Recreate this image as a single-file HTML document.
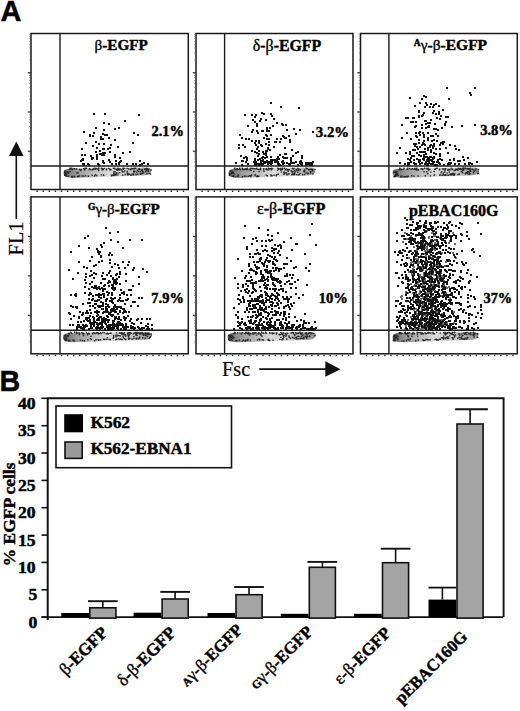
<!DOCTYPE html>
<html><head><meta charset="utf-8"><style>
html,body{margin:0;padding:0;background:#fff;}
body{width:520px;height:711px;overflow:hidden;}
svg{display:block}
</style></head><body>
<svg width="520" height="711" viewBox="0 0 520 711">
<rect x="31.0" y="33.5" width="157.30" height="156.00" fill="none" stroke="#1a1a1a" stroke-width="1.5"/>
<line x1="60.0" y1="33.5" x2="60.0" y2="189.5" stroke="#1a1a1a" stroke-width="1.4"/>
<line x1="31.0" y1="166.0" x2="188.3" y2="166.0" stroke="#1a1a1a" stroke-width="1.4"/>
<line x1="27.8" y1="72.8" x2="31.0" y2="72.8" stroke="#1a1a1a" stroke-width="1.1"/>
<line x1="27.8" y1="112.0" x2="31.0" y2="112.0" stroke="#1a1a1a" stroke-width="1.1"/>
<line x1="27.8" y1="151.2" x2="31.0" y2="151.2" stroke="#1a1a1a" stroke-width="1.1"/>
<rect x="196.0" y="33.5" width="157.00" height="156.00" fill="none" stroke="#1a1a1a" stroke-width="1.5"/>
<line x1="224.6" y1="33.5" x2="224.6" y2="189.5" stroke="#1a1a1a" stroke-width="1.4"/>
<line x1="196.0" y1="166.0" x2="353.0" y2="166.0" stroke="#1a1a1a" stroke-width="1.4"/>
<line x1="192.8" y1="72.8" x2="196.0" y2="72.8" stroke="#1a1a1a" stroke-width="1.1"/>
<line x1="192.8" y1="112.0" x2="196.0" y2="112.0" stroke="#1a1a1a" stroke-width="1.1"/>
<line x1="192.8" y1="151.2" x2="196.0" y2="151.2" stroke="#1a1a1a" stroke-width="1.1"/>
<rect x="360.5" y="33.5" width="156.80" height="156.00" fill="none" stroke="#1a1a1a" stroke-width="1.5"/>
<line x1="388.9" y1="33.5" x2="388.9" y2="189.5" stroke="#1a1a1a" stroke-width="1.4"/>
<line x1="360.5" y1="166.0" x2="517.3" y2="166.0" stroke="#1a1a1a" stroke-width="1.4"/>
<line x1="357.3" y1="72.8" x2="360.5" y2="72.8" stroke="#1a1a1a" stroke-width="1.1"/>
<line x1="357.3" y1="112.0" x2="360.5" y2="112.0" stroke="#1a1a1a" stroke-width="1.1"/>
<line x1="357.3" y1="151.2" x2="360.5" y2="151.2" stroke="#1a1a1a" stroke-width="1.1"/>
<rect x="31.0" y="196.9" width="157.30" height="156.90" fill="none" stroke="#1a1a1a" stroke-width="1.5"/>
<line x1="60.0" y1="196.9" x2="60.0" y2="353.8" stroke="#1a1a1a" stroke-width="1.4"/>
<line x1="31.0" y1="330.3" x2="188.3" y2="330.3" stroke="#1a1a1a" stroke-width="1.4"/>
<line x1="27.8" y1="236.4" x2="31.0" y2="236.4" stroke="#1a1a1a" stroke-width="1.1"/>
<line x1="27.8" y1="275.9" x2="31.0" y2="275.9" stroke="#1a1a1a" stroke-width="1.1"/>
<line x1="27.8" y1="315.3" x2="31.0" y2="315.3" stroke="#1a1a1a" stroke-width="1.1"/>
<rect x="196.0" y="196.9" width="157.00" height="156.90" fill="none" stroke="#1a1a1a" stroke-width="1.5"/>
<line x1="224.6" y1="196.9" x2="224.6" y2="353.8" stroke="#1a1a1a" stroke-width="1.4"/>
<line x1="196.0" y1="330.3" x2="353.0" y2="330.3" stroke="#1a1a1a" stroke-width="1.4"/>
<line x1="192.8" y1="236.4" x2="196.0" y2="236.4" stroke="#1a1a1a" stroke-width="1.1"/>
<line x1="192.8" y1="275.9" x2="196.0" y2="275.9" stroke="#1a1a1a" stroke-width="1.1"/>
<line x1="192.8" y1="315.3" x2="196.0" y2="315.3" stroke="#1a1a1a" stroke-width="1.1"/>
<rect x="360.5" y="196.9" width="156.80" height="156.90" fill="none" stroke="#1a1a1a" stroke-width="1.5"/>
<line x1="388.9" y1="196.9" x2="388.9" y2="353.8" stroke="#1a1a1a" stroke-width="1.4"/>
<line x1="360.5" y1="330.3" x2="517.3" y2="330.3" stroke="#1a1a1a" stroke-width="1.4"/>
<line x1="357.3" y1="236.4" x2="360.5" y2="236.4" stroke="#1a1a1a" stroke-width="1.1"/>
<line x1="357.3" y1="275.9" x2="360.5" y2="275.9" stroke="#1a1a1a" stroke-width="1.1"/>
<line x1="357.3" y1="315.3" x2="360.5" y2="315.3" stroke="#1a1a1a" stroke-width="1.1"/>
<path d="M29.2 177.2h1v1h-1zM29.2 170.3h1v1h-1zM29.2 165.4h1v1h-1zM29.2 161.6h1v1h-1zM29.2 158.5h1v1h-1zM29.2 155.8h1v1h-1zM29.2 153.6h1v1h-1zM29.2 151.5h1v1h-1zM29.2 137.9h1v1h-1zM29.2 131.0h1v1h-1zM29.2 126.1h1v1h-1zM29.2 122.3h1v1h-1zM29.2 119.2h1v1h-1zM29.2 116.6h1v1h-1zM29.2 114.3h1v1h-1zM29.2 112.3h1v1h-1zM29.2 98.7h1v1h-1zM29.2 91.8h1v1h-1zM29.2 86.9h1v1h-1zM29.2 83.1h1v1h-1zM29.2 80.0h1v1h-1zM29.2 77.3h1v1h-1zM29.2 75.1h1v1h-1zM29.2 73.0h1v1h-1zM29.2 59.4h1v1h-1zM29.2 52.5h1v1h-1zM29.2 47.6h1v1h-1zM29.2 43.8h1v1h-1zM29.2 40.7h1v1h-1zM29.2 38.1h1v1h-1zM29.2 35.8h1v1h-1zM29.2 33.8h1v1h-1zM194.2 177.2h1v1h-1zM194.2 170.3h1v1h-1zM194.2 165.4h1v1h-1zM194.2 161.6h1v1h-1zM194.2 158.5h1v1h-1zM194.2 155.8h1v1h-1zM194.2 153.6h1v1h-1zM194.2 151.5h1v1h-1zM194.2 137.9h1v1h-1zM194.2 131.0h1v1h-1zM194.2 126.1h1v1h-1zM194.2 122.3h1v1h-1zM194.2 119.2h1v1h-1zM194.2 116.6h1v1h-1zM194.2 114.3h1v1h-1zM194.2 112.3h1v1h-1zM194.2 98.7h1v1h-1zM194.2 91.8h1v1h-1zM194.2 86.9h1v1h-1zM194.2 83.1h1v1h-1zM194.2 80.0h1v1h-1zM194.2 77.3h1v1h-1zM194.2 75.1h1v1h-1zM194.2 73.0h1v1h-1zM194.2 59.4h1v1h-1zM194.2 52.5h1v1h-1zM194.2 47.6h1v1h-1zM194.2 43.8h1v1h-1zM194.2 40.7h1v1h-1zM194.2 38.1h1v1h-1zM194.2 35.8h1v1h-1zM194.2 33.8h1v1h-1zM358.7 177.2h1v1h-1zM358.7 170.3h1v1h-1zM358.7 165.4h1v1h-1zM358.7 161.6h1v1h-1zM358.7 158.5h1v1h-1zM358.7 155.8h1v1h-1zM358.7 153.6h1v1h-1zM358.7 151.5h1v1h-1zM358.7 137.9h1v1h-1zM358.7 131.0h1v1h-1zM358.7 126.1h1v1h-1zM358.7 122.3h1v1h-1zM358.7 119.2h1v1h-1zM358.7 116.6h1v1h-1zM358.7 114.3h1v1h-1zM358.7 112.3h1v1h-1zM358.7 98.7h1v1h-1zM358.7 91.8h1v1h-1zM358.7 86.9h1v1h-1zM358.7 83.1h1v1h-1zM358.7 80.0h1v1h-1zM358.7 77.3h1v1h-1zM358.7 75.1h1v1h-1zM358.7 73.0h1v1h-1zM358.7 59.4h1v1h-1zM358.7 52.5h1v1h-1zM358.7 47.6h1v1h-1zM358.7 43.8h1v1h-1zM358.7 40.7h1v1h-1zM358.7 38.1h1v1h-1zM358.7 35.8h1v1h-1zM358.7 33.8h1v1h-1zM29.2 341.4h1v1h-1zM29.2 334.5h1v1h-1zM29.2 329.5h1v1h-1zM29.2 325.7h1v1h-1zM29.2 322.6h1v1h-1zM29.2 319.9h1v1h-1zM29.2 317.7h1v1h-1zM29.2 315.6h1v1h-1zM29.2 301.9h1v1h-1zM29.2 295.0h1v1h-1zM29.2 290.1h1v1h-1zM29.2 286.2h1v1h-1zM29.2 283.1h1v1h-1zM29.2 280.5h1v1h-1zM29.2 278.2h1v1h-1zM29.2 276.2h1v1h-1zM29.2 262.5h1v1h-1zM29.2 255.5h1v1h-1zM29.2 250.6h1v1h-1zM29.2 246.8h1v1h-1zM29.2 243.6h1v1h-1zM29.2 241.0h1v1h-1zM29.2 238.7h1v1h-1zM29.2 236.7h1v1h-1zM29.2 223.0h1v1h-1zM29.2 216.0h1v1h-1zM29.2 211.1h1v1h-1zM29.2 207.3h1v1h-1zM29.2 204.2h1v1h-1zM29.2 201.5h1v1h-1zM29.2 199.2h1v1h-1zM29.2 197.2h1v1h-1zM194.2 341.4h1v1h-1zM194.2 334.5h1v1h-1zM194.2 329.5h1v1h-1zM194.2 325.7h1v1h-1zM194.2 322.6h1v1h-1zM194.2 319.9h1v1h-1zM194.2 317.7h1v1h-1zM194.2 315.6h1v1h-1zM194.2 301.9h1v1h-1zM194.2 295.0h1v1h-1zM194.2 290.1h1v1h-1zM194.2 286.2h1v1h-1zM194.2 283.1h1v1h-1zM194.2 280.5h1v1h-1zM194.2 278.2h1v1h-1zM194.2 276.2h1v1h-1zM194.2 262.5h1v1h-1zM194.2 255.5h1v1h-1zM194.2 250.6h1v1h-1zM194.2 246.8h1v1h-1zM194.2 243.6h1v1h-1zM194.2 241.0h1v1h-1zM194.2 238.7h1v1h-1zM194.2 236.7h1v1h-1zM194.2 223.0h1v1h-1zM194.2 216.0h1v1h-1zM194.2 211.1h1v1h-1zM194.2 207.3h1v1h-1zM194.2 204.2h1v1h-1zM194.2 201.5h1v1h-1zM194.2 199.2h1v1h-1zM194.2 197.2h1v1h-1zM358.7 341.4h1v1h-1zM358.7 334.5h1v1h-1zM358.7 329.5h1v1h-1zM358.7 325.7h1v1h-1zM358.7 322.6h1v1h-1zM358.7 319.9h1v1h-1zM358.7 317.7h1v1h-1zM358.7 315.6h1v1h-1zM358.7 301.9h1v1h-1zM358.7 295.0h1v1h-1zM358.7 290.1h1v1h-1zM358.7 286.2h1v1h-1zM358.7 283.1h1v1h-1zM358.7 280.5h1v1h-1zM358.7 278.2h1v1h-1zM358.7 276.2h1v1h-1zM358.7 262.5h1v1h-1zM358.7 255.5h1v1h-1zM358.7 250.6h1v1h-1zM358.7 246.8h1v1h-1zM358.7 243.6h1v1h-1zM358.7 241.0h1v1h-1zM358.7 238.7h1v1h-1zM358.7 236.7h1v1h-1zM358.7 223.0h1v1h-1zM358.7 216.0h1v1h-1zM358.7 211.1h1v1h-1zM358.7 207.3h1v1h-1zM358.7 204.2h1v1h-1zM358.7 201.5h1v1h-1zM358.7 199.2h1v1h-1zM358.7 197.2h1v1h-1z" fill="#888"/>
<path d="M36.4 190.4h1.4v1.6h-1.4zM42.5 190.4h1.4v1.6h-1.4zM48.6 190.4h1.4v1.6h-1.4zM54.7 190.4h1.4v1.6h-1.4zM60.8 190.4h1.4v1.6h-1.4zM66.9 190.4h1.4v1.6h-1.4zM73.0 190.4h1.4v1.6h-1.4zM79.1 190.4h1.4v1.6h-1.4zM85.2 190.4h1.4v1.6h-1.4zM91.3 190.4h1.4v1.6h-1.4zM97.4 190.4h1.4v1.6h-1.4zM103.5 190.4h1.4v1.6h-1.4zM109.6 190.4h1.4v1.6h-1.4zM115.7 190.4h1.4v1.6h-1.4zM121.8 190.4h1.4v1.6h-1.4zM127.9 190.4h1.4v1.6h-1.4zM134.0 190.4h1.4v1.6h-1.4zM140.1 190.4h1.4v1.6h-1.4zM146.2 190.4h1.4v1.6h-1.4zM152.3 190.4h1.4v1.6h-1.4zM158.4 190.4h1.4v1.6h-1.4zM164.5 190.4h1.4v1.6h-1.4zM170.6 190.4h1.4v1.6h-1.4zM176.7 190.4h1.4v1.6h-1.4zM182.8 190.4h1.4v1.6h-1.4zM201.4 190.4h1.4v1.6h-1.4zM207.5 190.4h1.4v1.6h-1.4zM213.6 190.4h1.4v1.6h-1.4zM219.7 190.4h1.4v1.6h-1.4zM225.8 190.4h1.4v1.6h-1.4zM231.9 190.4h1.4v1.6h-1.4zM238.0 190.4h1.4v1.6h-1.4zM244.1 190.4h1.4v1.6h-1.4zM250.2 190.4h1.4v1.6h-1.4zM256.3 190.4h1.4v1.6h-1.4zM262.4 190.4h1.4v1.6h-1.4zM268.5 190.4h1.4v1.6h-1.4zM274.6 190.4h1.4v1.6h-1.4zM280.7 190.4h1.4v1.6h-1.4zM286.8 190.4h1.4v1.6h-1.4zM292.9 190.4h1.4v1.6h-1.4zM299.0 190.4h1.4v1.6h-1.4zM305.1 190.4h1.4v1.6h-1.4zM311.2 190.4h1.4v1.6h-1.4zM317.3 190.4h1.4v1.6h-1.4zM323.4 190.4h1.4v1.6h-1.4zM329.5 190.4h1.4v1.6h-1.4zM335.6 190.4h1.4v1.6h-1.4zM341.7 190.4h1.4v1.6h-1.4zM347.8 190.4h1.4v1.6h-1.4zM365.9 190.4h1.4v1.6h-1.4zM372.0 190.4h1.4v1.6h-1.4zM378.1 190.4h1.4v1.6h-1.4zM384.2 190.4h1.4v1.6h-1.4zM390.3 190.4h1.4v1.6h-1.4zM396.4 190.4h1.4v1.6h-1.4zM402.5 190.4h1.4v1.6h-1.4zM408.6 190.4h1.4v1.6h-1.4zM414.7 190.4h1.4v1.6h-1.4zM420.8 190.4h1.4v1.6h-1.4zM426.9 190.4h1.4v1.6h-1.4zM433.0 190.4h1.4v1.6h-1.4zM439.1 190.4h1.4v1.6h-1.4zM445.2 190.4h1.4v1.6h-1.4zM451.3 190.4h1.4v1.6h-1.4zM457.4 190.4h1.4v1.6h-1.4zM463.5 190.4h1.4v1.6h-1.4zM469.6 190.4h1.4v1.6h-1.4zM475.7 190.4h1.4v1.6h-1.4zM481.8 190.4h1.4v1.6h-1.4zM487.9 190.4h1.4v1.6h-1.4zM494.0 190.4h1.4v1.6h-1.4zM500.1 190.4h1.4v1.6h-1.4zM506.2 190.4h1.4v1.6h-1.4zM512.3 190.4h1.4v1.6h-1.4zM36.4 354.7h1.4v1.6h-1.4zM42.5 354.7h1.4v1.6h-1.4zM48.6 354.7h1.4v1.6h-1.4zM54.7 354.7h1.4v1.6h-1.4zM60.8 354.7h1.4v1.6h-1.4zM66.9 354.7h1.4v1.6h-1.4zM73.0 354.7h1.4v1.6h-1.4zM79.1 354.7h1.4v1.6h-1.4zM85.2 354.7h1.4v1.6h-1.4zM91.3 354.7h1.4v1.6h-1.4zM97.4 354.7h1.4v1.6h-1.4zM103.5 354.7h1.4v1.6h-1.4zM109.6 354.7h1.4v1.6h-1.4zM115.7 354.7h1.4v1.6h-1.4zM121.8 354.7h1.4v1.6h-1.4zM127.9 354.7h1.4v1.6h-1.4zM134.0 354.7h1.4v1.6h-1.4zM140.1 354.7h1.4v1.6h-1.4zM146.2 354.7h1.4v1.6h-1.4zM152.3 354.7h1.4v1.6h-1.4zM158.4 354.7h1.4v1.6h-1.4zM164.5 354.7h1.4v1.6h-1.4zM170.6 354.7h1.4v1.6h-1.4zM176.7 354.7h1.4v1.6h-1.4zM182.8 354.7h1.4v1.6h-1.4zM201.4 354.7h1.4v1.6h-1.4zM207.5 354.7h1.4v1.6h-1.4zM213.6 354.7h1.4v1.6h-1.4zM219.7 354.7h1.4v1.6h-1.4zM225.8 354.7h1.4v1.6h-1.4zM231.9 354.7h1.4v1.6h-1.4zM238.0 354.7h1.4v1.6h-1.4zM244.1 354.7h1.4v1.6h-1.4zM250.2 354.7h1.4v1.6h-1.4zM256.3 354.7h1.4v1.6h-1.4zM262.4 354.7h1.4v1.6h-1.4zM268.5 354.7h1.4v1.6h-1.4zM274.6 354.7h1.4v1.6h-1.4zM280.7 354.7h1.4v1.6h-1.4zM286.8 354.7h1.4v1.6h-1.4zM292.9 354.7h1.4v1.6h-1.4zM299.0 354.7h1.4v1.6h-1.4zM305.1 354.7h1.4v1.6h-1.4zM311.2 354.7h1.4v1.6h-1.4zM317.3 354.7h1.4v1.6h-1.4zM323.4 354.7h1.4v1.6h-1.4zM329.5 354.7h1.4v1.6h-1.4zM335.6 354.7h1.4v1.6h-1.4zM341.7 354.7h1.4v1.6h-1.4zM347.8 354.7h1.4v1.6h-1.4zM365.9 354.7h1.4v1.6h-1.4zM372.0 354.7h1.4v1.6h-1.4zM378.1 354.7h1.4v1.6h-1.4zM384.2 354.7h1.4v1.6h-1.4zM390.3 354.7h1.4v1.6h-1.4zM396.4 354.7h1.4v1.6h-1.4zM402.5 354.7h1.4v1.6h-1.4zM408.6 354.7h1.4v1.6h-1.4zM414.7 354.7h1.4v1.6h-1.4zM420.8 354.7h1.4v1.6h-1.4zM426.9 354.7h1.4v1.6h-1.4zM433.0 354.7h1.4v1.6h-1.4zM439.1 354.7h1.4v1.6h-1.4zM445.2 354.7h1.4v1.6h-1.4zM451.3 354.7h1.4v1.6h-1.4zM457.4 354.7h1.4v1.6h-1.4zM463.5 354.7h1.4v1.6h-1.4zM469.6 354.7h1.4v1.6h-1.4zM475.7 354.7h1.4v1.6h-1.4zM481.8 354.7h1.4v1.6h-1.4zM487.9 354.7h1.4v1.6h-1.4zM494.0 354.7h1.4v1.6h-1.4zM500.1 354.7h1.4v1.6h-1.4zM506.2 354.7h1.4v1.6h-1.4zM512.3 354.7h1.4v1.6h-1.4z" fill="#2a2a2a"/>
<defs><filter id="soft" x="-5%" y="-5%" width="110%" height="110%"><feGaussianBlur stdDeviation="0.45"/></filter></defs>
<defs><linearGradient id="bg1" x1="0" x2="1" y1="0" y2="0"><stop offset="0" stop-color="#6a6a6a"/><stop offset="0.15" stop-color="#999"/><stop offset="0.5" stop-color="#dadada"/><stop offset="0.78" stop-color="#c4c4c4"/><stop offset="1" stop-color="#8a8a8a"/></linearGradient></defs>
<path d="M68.5 168.8 L145.5 167.6 Q152.0 167.9 151.5 171.1 Q150.5 175.6 141.5 175.6 L73.5 178.0 Q63.5 178.0 63.5 173.1 Q63.5 169.2 68.5 168.8 Z" fill="url(#bg1)"/>
<path d="M118.5 168.9h1.4v1.4h-1.4zM130.6 167.7h1.4v1.4h-1.4zM92.5 168.9h1.4v1.4h-1.4zM68.9 168.8h1.4v1.4h-1.4zM132.3 168.1h1.4v1.4h-1.4zM92.7 167.8h1.4v1.4h-1.4zM88.9 168.1h1.4v1.4h-1.4zM108.9 168.3h1.4v1.4h-1.4zM148.1 168.7h1.4v1.4h-1.4zM118.3 169.1h1.4v1.4h-1.4zM85.7 167.6h1.4v1.4h-1.4zM117.5 167.4h1.4v1.4h-1.4zM71.4 168.2h1.4v1.4h-1.4zM105.8 169.0h1.4v1.4h-1.4zM118.8 168.2h1.4v1.4h-1.4zM108.2 167.7h1.4v1.4h-1.4zM69.4 167.6h1.4v1.4h-1.4zM123.9 167.7h1.4v1.4h-1.4zM98.1 167.3h1.4v1.4h-1.4zM134.9 167.6h1.4v1.4h-1.4zM89.9 168.9h1.4v1.4h-1.4zM109.3 168.8h1.4v1.4h-1.4zM119.7 168.6h1.4v1.4h-1.4zM75.8 168.3h1.4v1.4h-1.4zM109.1 168.9h1.4v1.4h-1.4zM97.4 168.4h1.4v1.4h-1.4zM73.2 168.0h1.4v1.4h-1.4zM94.3 167.6h1.4v1.4h-1.4zM133.8 168.0h1.4v1.4h-1.4zM146.8 168.4h1.4v1.4h-1.4zM116.9 168.4h1.4v1.4h-1.4zM122.6 167.6h1.4v1.4h-1.4zM103.7 167.7h1.4v1.4h-1.4zM100.7 167.5h1.4v1.4h-1.4zM145.9 167.7h1.4v1.4h-1.4zM122.2 167.8h1.4v1.4h-1.4zM138.4 168.5h1.4v1.4h-1.4zM79.0 168.8h1.4v1.4h-1.4zM144.1 168.9h1.4v1.4h-1.4zM114.1 167.6h1.4v1.4h-1.4zM83.9 169.0h1.4v1.4h-1.4zM112.7 167.6h1.4v1.4h-1.4zM139.2 168.5h1.4v1.4h-1.4zM114.1 168.0h1.4v1.4h-1.4zM101.4 167.7h1.4v1.4h-1.4zM71.5 168.9h1.4v1.4h-1.4zM105.9 168.3h1.4v1.4h-1.4zM94.3 168.7h1.4v1.4h-1.4zM70.5 168.0h1.4v1.4h-1.4zM70.9 167.5h1.4v1.4h-1.4zM145.9 168.5h1.4v1.4h-1.4zM102.8 168.2h1.4v1.4h-1.4zM138.3 167.9h1.4v1.4h-1.4zM115.7 168.5h1.4v1.4h-1.4zM96.9 168.2h1.4v1.4h-1.4zM129.7 168.9h1.4v1.4h-1.4zM80.6 169.0h1.4v1.4h-1.4zM68.9 168.7h1.4v1.4h-1.4zM133.3 167.5h1.4v1.4h-1.4zM102.0 168.8h1.4v1.4h-1.4zM69.6 168.4h1.4v1.4h-1.4zM131.9 168.2h1.4v1.4h-1.4zM126.6 167.7h1.4v1.4h-1.4zM84.4 168.0h1.4v1.4h-1.4zM82.9 167.9h1.4v1.4h-1.4zM144.3 168.3h1.4v1.4h-1.4zM95.7 167.8h1.4v1.4h-1.4zM144.7 168.1h1.4v1.4h-1.4zM146.9 168.2h1.4v1.4h-1.4zM110.2 168.9h1.4v1.4h-1.4zM127.9 168.3h1.4v1.4h-1.4zM102.6 168.9h1.4v1.4h-1.4zM101.4 169.0h1.4v1.4h-1.4zM74.0 168.1h1.4v1.4h-1.4zM110.1 169.0h1.4v1.4h-1.4zM88.6 168.8h1.4v1.4h-1.4zM122.6 168.6h1.4v1.4h-1.4zM118.9 169.0h1.4v1.4h-1.4zM95.1 168.0h1.4v1.4h-1.4zM84.7 167.4h1.4v1.4h-1.4zM84.8 175.0h1.4v1.4h-1.4zM130.0 174.3h1.4v1.4h-1.4zM113.0 174.5h1.4v1.4h-1.4zM112.3 174.3h1.4v1.4h-1.4zM91.6 174.7h1.4v1.4h-1.4zM103.0 174.7h1.4v1.4h-1.4zM115.2 174.7h1.4v1.4h-1.4zM74.0 175.8h1.4v1.4h-1.4zM124.5 173.8h1.4v1.4h-1.4zM122.1 174.5h1.4v1.4h-1.4zM135.3 173.4h1.4v1.4h-1.4zM132.7 173.8h1.4v1.4h-1.4zM135.4 174.2h1.4v1.4h-1.4zM71.7 176.3h1.4v1.4h-1.4zM87.7 175.5h1.4v1.4h-1.4zM83.0 175.4h1.4v1.4h-1.4zM72.3 175.7h1.4v1.4h-1.4zM81.5 175.3h1.4v1.4h-1.4zM71.0 176.0h1.4v1.4h-1.4zM137.1 173.6h1.4v1.4h-1.4zM127.9 173.8h1.4v1.4h-1.4zM113.5 174.7h1.4v1.4h-1.4zM110.9 175.0h1.4v1.4h-1.4zM127.2 173.5h1.4v1.4h-1.4zM131.0 174.3h1.4v1.4h-1.4zM93.9 175.3h1.4v1.4h-1.4zM77.6 175.5h1.4v1.4h-1.4zM126.9 174.2h1.4v1.4h-1.4zM131.6 173.5h1.4v1.4h-1.4zM78.8 175.3h1.4v1.4h-1.4zM133.0 174.1h1.4v1.4h-1.4zM110.8 174.4h1.4v1.4h-1.4zM113.4 174.8h1.4v1.4h-1.4zM117.1 174.2h1.4v1.4h-1.4zM128.8 173.6h1.4v1.4h-1.4zM65.1 174.4h1.4v1.4h-1.4zM67.8 175.4h1.4v1.4h-1.4zM64.3 170.3h1.4v1.4h-1.4zM66.8 171.4h1.4v1.4h-1.4zM66.3 175.7h1.4v1.4h-1.4zM65.4 171.6h1.4v1.4h-1.4zM65.8 174.0h1.4v1.4h-1.4zM64.0 172.3h1.4v1.4h-1.4zM64.2 174.0h1.4v1.4h-1.4zM67.7 172.3h1.4v1.4h-1.4zM65.4 173.3h1.4v1.4h-1.4zM64.6 171.6h1.4v1.4h-1.4zM65.1 172.8h1.4v1.4h-1.4zM63.9 174.5h1.4v1.4h-1.4zM66.4 171.9h1.4v1.4h-1.4zM63.9 174.6h1.4v1.4h-1.4zM64.2 170.9h1.4v1.4h-1.4zM64.2 170.6h1.4v1.4h-1.4zM68.0 171.7h1.4v1.4h-1.4zM65.0 175.0h1.4v1.4h-1.4zM66.6 171.2h1.4v1.4h-1.4zM65.7 175.3h1.4v1.4h-1.4zM126.4 172.2h1.4v1.4h-1.4zM115.6 172.2h1.4v1.4h-1.4zM142.0 172.7h1.4v1.4h-1.4zM138.0 170.5h1.4v1.4h-1.4zM114.4 171.2h1.4v1.4h-1.4zM141.2 169.6h1.4v1.4h-1.4zM122.2 171.3h1.4v1.4h-1.4zM140.9 173.1h1.4v1.4h-1.4zM116.8 169.5h1.4v1.4h-1.4zM142.9 171.8h1.4v1.4h-1.4zM139.8 173.6h1.4v1.4h-1.4zM148.3 172.8h1.4v1.4h-1.4zM142.0 170.6h1.4v1.4h-1.4zM136.7 169.5h1.4v1.4h-1.4zM141.3 172.4h1.4v1.4h-1.4zM139.8 170.8h1.4v1.4h-1.4zM126.5 170.7h1.4v1.4h-1.4zM113.2 172.8h1.4v1.4h-1.4zM132.9 170.5h1.4v1.4h-1.4zM133.1 172.2h1.4v1.4h-1.4zM126.7 172.8h1.4v1.4h-1.4zM147.5 170.5h1.4v1.4h-1.4zM117.2 172.4h1.4v1.4h-1.4zM150.3 169.3h1.4v1.4h-1.4zM139.5 172.7h1.4v1.4h-1.4zM147.5 169.2h1.4v1.4h-1.4zM115.5 173.5h1.4v1.4h-1.4zM116.4 169.5h1.4v1.4h-1.4zM134.2 170.8h1.4v1.4h-1.4zM141.0 169.6h1.4v1.4h-1.4zM147.3 169.7h1.4v1.4h-1.4zM141.7 168.9h1.4v1.4h-1.4zM130.2 168.8h1.4v1.4h-1.4zM124.1 170.2h1.4v1.4h-1.4zM139.8 170.9h1.4v1.4h-1.4zM114.1 173.6h1.4v1.4h-1.4zM146.3 173.2h1.4v1.4h-1.4zM121.4 170.6h1.4v1.4h-1.4zM120.7 169.2h1.4v1.4h-1.4zM113.2 171.1h1.4v1.4h-1.4zM116.7 169.5h1.4v1.4h-1.4zM145.2 171.0h1.4v1.4h-1.4zM119.0 171.9h1.4v1.4h-1.4zM122.2 171.2h1.4v1.4h-1.4zM122.9 171.2h1.4v1.4h-1.4zM136.2 171.3h1.4v1.4h-1.4zM127.2 172.6h1.4v1.4h-1.4zM145.7 169.5h1.4v1.4h-1.4zM117.2 169.2h1.4v1.4h-1.4zM149.8 173.3h1.4v1.4h-1.4zM77.0 175.8h1.4v1.4h-1.4zM76.1 172.3h1.4v1.4h-1.4zM87.6 175.4h1.4v1.4h-1.4zM69.5 170.9h1.4v1.4h-1.4zM91.7 169.1h1.4v1.4h-1.4zM77.3 172.0h1.4v1.4h-1.4zM102.8 174.2h1.4v1.4h-1.4zM100.7 174.2h1.4v1.4h-1.4zM95.9 174.9h1.4v1.4h-1.4zM94.9 174.0h1.4v1.4h-1.4zM79.8 169.8h1.4v1.4h-1.4zM97.9 169.8h1.4v1.4h-1.4z" fill="#2a2a2a"/>
<path d="M114.0 139.0h2v2h-2zM81.0 154.0h2v2h-2zM100.0 136.0h2v2h-2zM92.0 145.0h2v2h-2zM122.0 152.0h2v2h-2zM100.0 153.0h2v2h-2zM126.0 163.0h2v2h-2zM99.0 153.0h2v2h-2zM108.0 137.0h2v2h-2zM103.0 129.0h2v2h-2zM92.0 135.0h2v2h-2zM84.0 154.0h2v2h-2zM114.0 128.0h2v2h-2zM109.0 151.0h2v2h-2zM102.0 148.0h2v2h-2zM103.0 143.0h2v2h-2zM103.0 162.0h2v2h-2zM83.0 131.0h2v2h-2zM83.0 164.0h2v2h-2zM108.0 123.0h2v2h-2zM95.0 127.0h2v2h-2zM81.0 148.0h2v2h-2zM104.0 134.0h2v2h-2zM90.0 155.0h2v2h-2zM114.0 156.0h2v2h-2zM100.0 138.0h2v2h-2zM93.0 113.0h2v2h-2zM85.0 142.0h2v2h-2zM99.0 150.0h2v2h-2zM104.0 113.0h2v2h-2zM103.0 148.0h2v2h-2zM102.0 160.0h2v2h-2zM95.0 141.0h2v2h-2zM103.0 122.0h2v2h-2zM91.0 157.0h2v2h-2zM104.0 152.0h2v2h-2zM96.0 154.0h2v2h-2zM106.0 134.0h2v2h-2zM91.0 158.0h2v2h-2zM87.0 163.0h2v2h-2zM110.0 144.0h2v2h-2zM96.0 147.0h2v2h-2zM107.0 148.0h2v2h-2zM117.0 146.0h2v2h-2zM102.0 138.0h2v2h-2zM89.0 135.0h2v2h-2zM108.0 159.0h2v2h-2zM101.0 154.0h2v2h-2zM109.0 147.0h2v2h-2zM103.0 154.0h2v2h-2zM109.0 161.0h2v2h-2zM82.0 158.0h2v2h-2zM81.0 159.0h2v2h-2zM96.0 156.0h2v2h-2zM102.0 161.0h2v2h-2zM115.0 160.0h2v2h-2zM129.0 151.0h2v2h-2zM122.0 152.0h2v2h-2zM102.0 152.0h2v2h-2zM95.0 151.0h2v2h-2zM139.0 160.0h2v2h-2zM98.0 164.0h2v2h-2zM83.0 163.0h2v2h-2zM97.0 163.0h2v2h-2zM82.0 159.0h2v2h-2zM92.0 157.0h2v2h-2zM143.0 162.0h2v2h-2zM118.0 163.0h2v2h-2zM82.0 163.0h2v2h-2zM141.0 163.0h2v2h-2zM135.0 163.0h2v2h-2zM120.0 160.0h2v2h-2zM139.0 164.0h2v2h-2zM115.0 163.0h2v2h-2zM132.0 163.0h2v2h-2zM96.0 158.0h2v2h-2zM111.0 163.0h2v2h-2zM147.0 163.0h2v2h-2zM80.0 160.0h2v2h-2zM88.0 164.0h2v2h-2zM118.0 162.0h2v2h-2zM119.0 161.0h2v2h-2zM102.0 133.0h2v2h-2zM133.0 132.0h2v2h-2zM137.0 134.0h2v2h-2zM93.0 132.0h2v2h-2zM114.0 154.0h2v2h-2zM124.0 120.0h2v2h-2zM89.0 134.0h2v2h-2zM132.0 142.0h2v2h-2zM98.0 143.0h2v2h-2zM118.0 127.0h2v2h-2zM119.0 157.0h2v2h-2zM138.0 114.0h2v2h-2z" fill="#141414"/>
<defs><linearGradient id="bg2" x1="0" x2="1" y1="0" y2="0"><stop offset="0" stop-color="#6a6a6a"/><stop offset="0.15" stop-color="#999"/><stop offset="0.5" stop-color="#dadada"/><stop offset="0.78" stop-color="#c4c4c4"/><stop offset="1" stop-color="#8a8a8a"/></linearGradient></defs>
<path d="M233.5 168.8 L309.5 167.6 Q316.0 167.9 315.5 171.1 Q314.5 175.6 305.5 175.6 L238.5 178.0 Q228.5 178.0 228.5 173.1 Q228.5 169.2 233.5 168.8 Z" fill="url(#bg2)"/>
<path d="M241.5 167.7h1.4v1.4h-1.4zM247.2 168.8h1.4v1.4h-1.4zM305.4 167.4h1.4v1.4h-1.4zM259.8 167.6h1.4v1.4h-1.4zM270.6 169.0h1.4v1.4h-1.4zM239.0 167.6h1.4v1.4h-1.4zM272.0 168.2h1.4v1.4h-1.4zM292.4 168.1h1.4v1.4h-1.4zM244.6 167.9h1.4v1.4h-1.4zM311.1 168.7h1.4v1.4h-1.4zM242.7 168.8h1.4v1.4h-1.4zM258.1 168.7h1.4v1.4h-1.4zM234.5 168.9h1.4v1.4h-1.4zM246.3 168.1h1.4v1.4h-1.4zM285.8 168.2h1.4v1.4h-1.4zM246.6 167.6h1.4v1.4h-1.4zM256.0 167.4h1.4v1.4h-1.4zM250.6 167.5h1.4v1.4h-1.4zM270.2 167.9h1.4v1.4h-1.4zM279.9 167.8h1.4v1.4h-1.4zM236.2 167.9h1.4v1.4h-1.4zM293.2 167.8h1.4v1.4h-1.4zM265.5 168.7h1.4v1.4h-1.4zM265.6 168.9h1.4v1.4h-1.4zM306.0 167.9h1.4v1.4h-1.4zM291.6 167.8h1.4v1.4h-1.4zM244.5 168.1h1.4v1.4h-1.4zM281.1 169.0h1.4v1.4h-1.4zM245.0 168.6h1.4v1.4h-1.4zM271.1 167.5h1.4v1.4h-1.4zM310.3 168.6h1.4v1.4h-1.4zM243.7 168.9h1.4v1.4h-1.4zM241.6 167.5h1.4v1.4h-1.4zM259.7 169.0h1.4v1.4h-1.4zM236.1 169.0h1.4v1.4h-1.4zM281.8 167.4h1.4v1.4h-1.4zM278.4 168.1h1.4v1.4h-1.4zM278.1 168.6h1.4v1.4h-1.4zM287.1 169.1h1.4v1.4h-1.4zM245.9 168.8h1.4v1.4h-1.4zM266.0 168.7h1.4v1.4h-1.4zM304.0 169.1h1.4v1.4h-1.4zM254.5 168.1h1.4v1.4h-1.4zM308.0 169.0h1.4v1.4h-1.4zM263.0 169.0h1.4v1.4h-1.4zM265.6 168.0h1.4v1.4h-1.4zM293.3 168.1h1.4v1.4h-1.4zM268.9 168.0h1.4v1.4h-1.4zM267.7 167.6h1.4v1.4h-1.4zM238.3 168.7h1.4v1.4h-1.4zM278.1 168.5h1.4v1.4h-1.4zM296.9 167.7h1.4v1.4h-1.4zM252.0 167.8h1.4v1.4h-1.4zM257.5 168.7h1.4v1.4h-1.4zM263.1 167.9h1.4v1.4h-1.4zM283.8 167.6h1.4v1.4h-1.4zM241.9 168.6h1.4v1.4h-1.4zM293.3 167.8h1.4v1.4h-1.4zM283.7 167.4h1.4v1.4h-1.4zM265.4 168.3h1.4v1.4h-1.4zM253.5 167.9h1.4v1.4h-1.4zM281.7 168.4h1.4v1.4h-1.4zM245.7 168.6h1.4v1.4h-1.4zM239.8 169.0h1.4v1.4h-1.4zM249.5 167.8h1.4v1.4h-1.4zM249.3 169.1h1.4v1.4h-1.4zM256.1 168.4h1.4v1.4h-1.4zM311.8 169.0h1.4v1.4h-1.4zM236.8 168.2h1.4v1.4h-1.4zM281.0 168.6h1.4v1.4h-1.4zM260.0 167.9h1.4v1.4h-1.4zM233.8 167.4h1.4v1.4h-1.4zM277.0 167.4h1.4v1.4h-1.4zM249.5 167.9h1.4v1.4h-1.4zM239.1 167.4h1.4v1.4h-1.4zM306.7 168.1h1.4v1.4h-1.4zM249.7 168.6h1.4v1.4h-1.4zM234.2 167.7h1.4v1.4h-1.4zM309.4 168.9h1.4v1.4h-1.4zM283.7 167.5h1.4v1.4h-1.4zM257.1 175.6h1.4v1.4h-1.4zM250.1 175.8h1.4v1.4h-1.4zM243.5 175.5h1.4v1.4h-1.4zM241.6 176.0h1.4v1.4h-1.4zM298.6 173.9h1.4v1.4h-1.4zM258.1 175.5h1.4v1.4h-1.4zM291.0 173.8h1.4v1.4h-1.4zM273.3 174.5h1.4v1.4h-1.4zM241.6 175.9h1.4v1.4h-1.4zM275.9 174.0h1.4v1.4h-1.4zM292.5 173.8h1.4v1.4h-1.4zM271.3 175.1h1.4v1.4h-1.4zM297.7 174.2h1.4v1.4h-1.4zM243.7 175.4h1.4v1.4h-1.4zM292.2 173.7h1.4v1.4h-1.4zM266.6 175.1h1.4v1.4h-1.4zM237.0 175.5h1.4v1.4h-1.4zM303.9 173.8h1.4v1.4h-1.4zM296.0 173.9h1.4v1.4h-1.4zM256.6 175.1h1.4v1.4h-1.4zM235.1 175.9h1.4v1.4h-1.4zM248.7 175.2h1.4v1.4h-1.4zM270.2 174.3h1.4v1.4h-1.4zM298.2 173.9h1.4v1.4h-1.4zM254.4 174.8h1.4v1.4h-1.4zM270.3 175.1h1.4v1.4h-1.4zM237.8 175.3h1.4v1.4h-1.4zM275.6 175.0h1.4v1.4h-1.4zM270.8 174.7h1.4v1.4h-1.4zM265.4 174.4h1.4v1.4h-1.4zM301.9 174.0h1.4v1.4h-1.4zM245.3 175.6h1.4v1.4h-1.4zM293.7 173.8h1.4v1.4h-1.4zM286.3 174.1h1.4v1.4h-1.4zM249.4 175.1h1.4v1.4h-1.4zM228.6 174.2h1.4v1.4h-1.4zM229.5 172.9h1.4v1.4h-1.4zM233.4 173.3h1.4v1.4h-1.4zM228.8 172.6h1.4v1.4h-1.4zM231.8 170.4h1.4v1.4h-1.4zM229.8 170.2h1.4v1.4h-1.4zM231.2 172.4h1.4v1.4h-1.4zM231.0 171.8h1.4v1.4h-1.4zM231.8 171.1h1.4v1.4h-1.4zM233.0 175.8h1.4v1.4h-1.4zM231.0 172.8h1.4v1.4h-1.4zM232.8 171.8h1.4v1.4h-1.4zM232.5 171.8h1.4v1.4h-1.4zM232.1 172.1h1.4v1.4h-1.4zM231.5 175.6h1.4v1.4h-1.4zM228.8 174.9h1.4v1.4h-1.4zM231.2 172.3h1.4v1.4h-1.4zM230.3 170.5h1.4v1.4h-1.4zM229.8 173.8h1.4v1.4h-1.4zM229.0 174.0h1.4v1.4h-1.4zM233.3 175.9h1.4v1.4h-1.4zM232.9 174.9h1.4v1.4h-1.4zM283.2 173.5h1.4v1.4h-1.4zM284.1 172.9h1.4v1.4h-1.4zM310.0 171.7h1.4v1.4h-1.4zM296.3 169.6h1.4v1.4h-1.4zM296.2 170.1h1.4v1.4h-1.4zM281.2 169.2h1.4v1.4h-1.4zM307.0 173.2h1.4v1.4h-1.4zM281.8 168.7h1.4v1.4h-1.4zM286.4 169.3h1.4v1.4h-1.4zM283.6 171.5h1.4v1.4h-1.4zM292.5 170.7h1.4v1.4h-1.4zM284.2 171.9h1.4v1.4h-1.4zM287.4 170.6h1.4v1.4h-1.4zM294.1 173.1h1.4v1.4h-1.4zM285.8 172.2h1.4v1.4h-1.4zM288.2 173.1h1.4v1.4h-1.4zM291.4 171.1h1.4v1.4h-1.4zM309.9 172.0h1.4v1.4h-1.4zM280.0 169.3h1.4v1.4h-1.4zM314.3 168.7h1.4v1.4h-1.4zM287.9 173.4h1.4v1.4h-1.4zM276.9 169.4h1.4v1.4h-1.4zM284.5 169.0h1.4v1.4h-1.4zM294.4 171.6h1.4v1.4h-1.4zM288.5 169.1h1.4v1.4h-1.4zM307.4 172.6h1.4v1.4h-1.4zM297.9 169.3h1.4v1.4h-1.4zM297.1 171.7h1.4v1.4h-1.4zM292.7 172.9h1.4v1.4h-1.4zM291.3 171.2h1.4v1.4h-1.4zM280.7 171.4h1.4v1.4h-1.4zM305.7 172.3h1.4v1.4h-1.4zM286.2 173.6h1.4v1.4h-1.4zM303.9 170.7h1.4v1.4h-1.4zM292.2 172.5h1.4v1.4h-1.4zM283.1 171.8h1.4v1.4h-1.4zM303.9 171.2h1.4v1.4h-1.4zM309.8 170.9h1.4v1.4h-1.4zM294.1 170.0h1.4v1.4h-1.4zM311.5 170.2h1.4v1.4h-1.4zM303.0 170.6h1.4v1.4h-1.4zM312.2 173.3h1.4v1.4h-1.4zM277.5 173.6h1.4v1.4h-1.4zM299.5 169.0h1.4v1.4h-1.4zM295.4 168.8h1.4v1.4h-1.4zM297.4 169.5h1.4v1.4h-1.4zM290.4 170.1h1.4v1.4h-1.4zM299.4 172.7h1.4v1.4h-1.4zM312.2 170.2h1.4v1.4h-1.4zM298.2 168.6h1.4v1.4h-1.4zM247.4 175.7h1.4v1.4h-1.4zM237.5 175.0h1.4v1.4h-1.4zM258.4 170.8h1.4v1.4h-1.4zM263.3 170.7h1.4v1.4h-1.4zM267.9 169.2h1.4v1.4h-1.4zM237.5 174.2h1.4v1.4h-1.4zM250.4 169.7h1.4v1.4h-1.4zM253.0 170.8h1.4v1.4h-1.4zM254.4 174.1h1.4v1.4h-1.4zM266.4 169.0h1.4v1.4h-1.4zM256.0 175.9h1.4v1.4h-1.4zM250.9 174.3h1.4v1.4h-1.4z" fill="#2a2a2a"/>
<path d="M264.0 161.0h2v2h-2zM276.0 122.0h2v2h-2zM266.0 156.0h2v2h-2zM271.0 115.0h2v2h-2zM265.0 150.0h2v2h-2zM286.0 157.0h2v2h-2zM259.0 120.0h2v2h-2zM257.0 132.0h2v2h-2zM266.0 138.0h2v2h-2zM257.0 146.0h2v2h-2zM260.0 144.0h2v2h-2zM269.0 162.0h2v2h-2zM268.0 144.0h2v2h-2zM265.0 134.0h2v2h-2zM255.0 161.0h2v2h-2zM268.0 130.0h2v2h-2zM261.0 112.0h2v2h-2zM286.0 129.0h2v2h-2zM262.0 130.0h2v2h-2zM266.0 130.0h2v2h-2zM277.0 163.0h2v2h-2zM284.0 157.0h2v2h-2zM264.0 161.0h2v2h-2zM242.0 160.0h2v2h-2zM280.0 138.0h2v2h-2zM289.0 139.0h2v2h-2zM251.0 114.0h2v2h-2zM262.0 156.0h2v2h-2zM276.0 160.0h2v2h-2zM284.0 137.0h2v2h-2zM270.0 113.0h2v2h-2zM254.0 159.0h2v2h-2zM279.0 141.0h2v2h-2zM258.0 142.0h2v2h-2zM284.0 153.0h2v2h-2zM261.0 145.0h2v2h-2zM257.0 155.0h2v2h-2zM270.0 159.0h2v2h-2zM266.0 128.0h2v2h-2zM266.0 135.0h2v2h-2zM285.0 153.0h2v2h-2zM274.0 141.0h2v2h-2zM282.0 156.0h2v2h-2zM251.0 150.0h2v2h-2zM285.0 157.0h2v2h-2zM266.0 150.0h2v2h-2zM259.0 163.0h2v2h-2zM271.0 159.0h2v2h-2zM266.0 127.0h2v2h-2zM260.0 118.0h2v2h-2zM256.0 152.0h2v2h-2zM271.0 159.0h2v2h-2zM267.0 148.0h2v2h-2zM299.0 129.0h2v2h-2zM253.0 161.0h2v2h-2zM273.0 146.0h2v2h-2zM268.0 138.0h2v2h-2zM251.0 131.0h2v2h-2zM295.0 152.0h2v2h-2zM265.0 119.0h2v2h-2zM270.0 102.0h2v2h-2zM273.0 118.0h2v2h-2zM241.0 160.0h2v2h-2zM238.0 147.0h2v2h-2zM238.0 144.0h2v2h-2zM281.0 123.0h2v2h-2zM275.0 141.0h2v2h-2zM276.0 138.0h2v2h-2zM285.0 124.0h2v2h-2zM265.0 154.0h2v2h-2zM256.0 123.0h2v2h-2zM282.0 124.0h2v2h-2zM262.0 160.0h2v2h-2zM252.0 119.0h2v2h-2zM270.0 161.0h2v2h-2zM285.0 137.0h2v2h-2zM277.0 156.0h2v2h-2zM271.0 161.0h2v2h-2zM245.0 138.0h2v2h-2zM256.0 125.0h2v2h-2zM255.0 162.0h2v2h-2zM279.0 154.0h2v2h-2zM289.0 164.0h2v2h-2zM270.0 163.0h2v2h-2zM258.0 150.0h2v2h-2zM268.0 162.0h2v2h-2zM242.0 144.0h2v2h-2zM275.0 159.0h2v2h-2zM261.0 130.0h2v2h-2zM259.0 158.0h2v2h-2zM282.0 160.0h2v2h-2zM264.0 162.0h2v2h-2zM263.0 113.0h2v2h-2zM265.0 134.0h2v2h-2zM291.0 149.0h2v2h-2zM277.0 156.0h2v2h-2zM289.0 141.0h2v2h-2zM258.0 153.0h2v2h-2zM258.0 164.0h2v2h-2zM248.0 138.0h2v2h-2zM262.0 159.0h2v2h-2zM244.0 146.0h2v2h-2zM282.0 163.0h2v2h-2zM251.0 140.0h2v2h-2zM261.0 145.0h2v2h-2zM254.0 151.0h2v2h-2zM267.0 147.0h2v2h-2zM254.0 116.0h2v2h-2zM290.0 159.0h2v2h-2zM284.0 147.0h2v2h-2zM265.0 150.0h2v2h-2zM295.0 161.0h2v2h-2zM277.0 161.0h2v2h-2zM247.0 125.0h2v2h-2zM273.0 159.0h2v2h-2zM297.0 151.0h2v2h-2zM272.0 125.0h2v2h-2zM241.0 137.0h2v2h-2zM243.0 157.0h2v2h-2zM254.0 121.0h2v2h-2zM286.0 157.0h2v2h-2zM262.0 151.0h2v2h-2zM239.0 134.0h2v2h-2zM255.0 144.0h2v2h-2zM269.0 149.0h2v2h-2zM288.0 135.0h2v2h-2zM255.0 140.0h2v2h-2zM256.0 148.0h2v2h-2zM270.0 156.0h2v2h-2zM293.0 128.0h2v2h-2zM265.0 152.0h2v2h-2zM270.0 134.0h2v2h-2zM246.0 157.0h2v2h-2zM235.0 162.0h2v2h-2zM263.0 153.0h2v2h-2zM254.0 158.0h2v2h-2zM282.0 135.0h2v2h-2zM260.0 160.0h2v2h-2zM252.0 129.0h2v2h-2zM268.0 141.0h2v2h-2zM257.0 159.0h2v2h-2zM247.0 163.0h2v2h-2zM278.0 158.0h2v2h-2zM257.0 163.0h2v2h-2zM276.0 158.0h2v2h-2zM311.0 162.0h2v2h-2zM271.0 162.0h2v2h-2zM270.0 162.0h2v2h-2zM309.0 164.0h2v2h-2zM254.0 162.0h2v2h-2zM283.0 162.0h2v2h-2zM308.0 163.0h2v2h-2zM305.0 164.0h2v2h-2zM268.0 161.0h2v2h-2zM309.0 162.0h2v2h-2zM300.0 163.0h2v2h-2zM241.0 164.0h2v2h-2zM310.0 164.0h2v2h-2zM263.0 162.0h2v2h-2zM240.0 155.0h2v2h-2zM245.0 161.0h2v2h-2zM290.0 161.0h2v2h-2zM301.0 155.0h2v2h-2zM263.0 162.0h2v2h-2zM308.0 162.0h2v2h-2zM265.0 143.0h2v2h-2zM309.0 163.0h2v2h-2zM245.0 156.0h2v2h-2zM288.0 163.0h2v2h-2zM281.0 161.0h2v2h-2zM307.0 162.0h2v2h-2zM254.0 164.0h2v2h-2zM264.0 157.0h2v2h-2zM255.0 161.0h2v2h-2zM311.0 164.0h2v2h-2zM261.0 157.0h2v2h-2zM246.0 159.0h2v2h-2zM301.0 164.0h2v2h-2zM283.0 157.0h2v2h-2zM290.0 162.0h2v2h-2zM267.0 163.0h2v2h-2zM261.0 164.0h2v2h-2zM306.0 163.0h2v2h-2zM266.0 160.0h2v2h-2zM275.0 161.0h2v2h-2zM265.0 161.0h2v2h-2zM264.0 162.0h2v2h-2zM309.0 163.0h2v2h-2zM299.0 162.0h2v2h-2zM293.0 162.0h2v2h-2zM301.0 157.0h2v2h-2zM292.0 162.0h2v2h-2zM260.0 162.0h2v2h-2zM255.0 164.0h2v2h-2zM271.0 162.0h2v2h-2zM297.0 164.0h2v2h-2zM309.0 164.0h2v2h-2zM261.0 157.0h2v2h-2zM305.0 162.0h2v2h-2zM264.0 161.0h2v2h-2zM301.0 162.0h2v2h-2zM299.0 161.0h2v2h-2zM274.0 161.0h2v2h-2zM267.0 161.0h2v2h-2zM286.0 162.0h2v2h-2zM278.0 163.0h2v2h-2zM279.0 164.0h2v2h-2zM312.0 161.0h2v2h-2zM242.0 160.0h2v2h-2zM278.0 164.0h2v2h-2zM300.0 160.0h2v2h-2zM292.0 155.0h2v2h-2zM279.0 164.0h2v2h-2zM300.0 161.0h2v2h-2zM306.0 162.0h2v2h-2zM298.0 107.0h2v2h-2zM263.0 137.0h2v2h-2zM262.0 163.0h2v2h-2zM254.0 142.0h2v2h-2zM244.0 114.0h2v2h-2zM269.0 127.0h2v2h-2zM258.0 140.0h2v2h-2zM295.0 133.0h2v2h-2zM283.0 136.0h2v2h-2zM280.0 106.0h2v2h-2zM256.0 130.0h2v2h-2zM290.0 157.0h2v2h-2zM312.0 131.0h2v2h-2zM255.0 114.0h2v2h-2z" fill="#141414"/>
<defs><linearGradient id="bg3" x1="0" x2="1" y1="0" y2="0"><stop offset="0" stop-color="#6a6a6a"/><stop offset="0.15" stop-color="#999"/><stop offset="0.5" stop-color="#dadada"/><stop offset="0.78" stop-color="#c4c4c4"/><stop offset="1" stop-color="#8a8a8a"/></linearGradient></defs>
<path d="M397.5 168.8 L473.0 167.6 Q479.5 167.9 479.0 171.1 Q478.0 175.6 469.0 175.6 L402.5 178.0 Q392.5 178.0 392.5 173.1 Q392.5 169.2 397.5 168.8 Z" fill="url(#bg3)"/>
<path d="M461.5 168.4h1.4v1.4h-1.4zM469.4 167.5h1.4v1.4h-1.4zM438.9 168.6h1.4v1.4h-1.4zM469.5 168.5h1.4v1.4h-1.4zM444.8 168.0h1.4v1.4h-1.4zM442.4 168.3h1.4v1.4h-1.4zM468.5 168.8h1.4v1.4h-1.4zM455.4 169.0h1.4v1.4h-1.4zM402.7 168.7h1.4v1.4h-1.4zM433.9 168.7h1.4v1.4h-1.4zM420.7 168.1h1.4v1.4h-1.4zM462.2 167.4h1.4v1.4h-1.4zM420.4 168.2h1.4v1.4h-1.4zM464.3 167.8h1.4v1.4h-1.4zM462.1 167.7h1.4v1.4h-1.4zM421.3 168.3h1.4v1.4h-1.4zM448.8 168.9h1.4v1.4h-1.4zM466.5 167.8h1.4v1.4h-1.4zM456.0 168.4h1.4v1.4h-1.4zM427.8 168.7h1.4v1.4h-1.4zM468.0 168.2h1.4v1.4h-1.4zM469.4 167.5h1.4v1.4h-1.4zM410.5 168.7h1.4v1.4h-1.4zM421.5 168.4h1.4v1.4h-1.4zM436.5 167.6h1.4v1.4h-1.4zM456.7 168.6h1.4v1.4h-1.4zM408.9 167.8h1.4v1.4h-1.4zM460.3 168.9h1.4v1.4h-1.4zM465.8 168.2h1.4v1.4h-1.4zM426.3 168.1h1.4v1.4h-1.4zM411.3 168.2h1.4v1.4h-1.4zM415.6 167.6h1.4v1.4h-1.4zM427.4 167.4h1.4v1.4h-1.4zM434.4 168.6h1.4v1.4h-1.4zM448.6 169.1h1.4v1.4h-1.4zM467.0 168.4h1.4v1.4h-1.4zM468.0 168.1h1.4v1.4h-1.4zM460.2 167.8h1.4v1.4h-1.4zM438.8 169.1h1.4v1.4h-1.4zM444.5 168.2h1.4v1.4h-1.4zM459.3 167.9h1.4v1.4h-1.4zM462.7 167.3h1.4v1.4h-1.4zM416.2 167.6h1.4v1.4h-1.4zM417.7 169.0h1.4v1.4h-1.4zM399.4 167.8h1.4v1.4h-1.4zM442.6 168.6h1.4v1.4h-1.4zM458.2 168.0h1.4v1.4h-1.4zM414.8 168.8h1.4v1.4h-1.4zM407.1 167.4h1.4v1.4h-1.4zM415.7 168.2h1.4v1.4h-1.4zM471.5 168.6h1.4v1.4h-1.4zM441.8 168.2h1.4v1.4h-1.4zM451.9 168.4h1.4v1.4h-1.4zM423.9 167.5h1.4v1.4h-1.4zM413.3 168.7h1.4v1.4h-1.4zM447.3 168.7h1.4v1.4h-1.4zM401.0 168.9h1.4v1.4h-1.4zM427.5 169.0h1.4v1.4h-1.4zM444.2 168.3h1.4v1.4h-1.4zM461.7 168.4h1.4v1.4h-1.4zM450.5 167.6h1.4v1.4h-1.4zM444.9 167.9h1.4v1.4h-1.4zM403.4 167.5h1.4v1.4h-1.4zM435.2 167.8h1.4v1.4h-1.4zM457.6 167.5h1.4v1.4h-1.4zM398.6 169.1h1.4v1.4h-1.4zM422.1 168.2h1.4v1.4h-1.4zM414.0 167.7h1.4v1.4h-1.4zM429.1 168.7h1.4v1.4h-1.4zM400.6 168.8h1.4v1.4h-1.4zM475.2 168.3h1.4v1.4h-1.4zM425.8 167.7h1.4v1.4h-1.4zM411.9 167.9h1.4v1.4h-1.4zM464.4 167.3h1.4v1.4h-1.4zM459.2 168.5h1.4v1.4h-1.4zM399.0 167.4h1.4v1.4h-1.4zM455.2 168.5h1.4v1.4h-1.4zM422.1 168.9h1.4v1.4h-1.4zM414.0 168.1h1.4v1.4h-1.4zM406.5 168.5h1.4v1.4h-1.4zM404.6 176.0h1.4v1.4h-1.4zM452.5 174.1h1.4v1.4h-1.4zM445.2 174.1h1.4v1.4h-1.4zM441.3 174.7h1.4v1.4h-1.4zM447.7 174.6h1.4v1.4h-1.4zM417.5 175.3h1.4v1.4h-1.4zM406.6 176.0h1.4v1.4h-1.4zM444.5 174.1h1.4v1.4h-1.4zM424.6 175.1h1.4v1.4h-1.4zM413.1 175.4h1.4v1.4h-1.4zM439.4 174.1h1.4v1.4h-1.4zM401.4 175.4h1.4v1.4h-1.4zM468.3 173.7h1.4v1.4h-1.4zM449.7 173.8h1.4v1.4h-1.4zM444.4 174.5h1.4v1.4h-1.4zM442.4 174.0h1.4v1.4h-1.4zM406.0 175.7h1.4v1.4h-1.4zM400.1 175.5h1.4v1.4h-1.4zM453.4 174.5h1.4v1.4h-1.4zM451.1 173.9h1.4v1.4h-1.4zM407.4 175.6h1.4v1.4h-1.4zM447.1 174.4h1.4v1.4h-1.4zM434.0 174.2h1.4v1.4h-1.4zM443.3 174.4h1.4v1.4h-1.4zM403.2 176.1h1.4v1.4h-1.4zM458.5 173.6h1.4v1.4h-1.4zM457.4 173.8h1.4v1.4h-1.4zM439.1 174.5h1.4v1.4h-1.4zM450.3 174.3h1.4v1.4h-1.4zM433.5 174.7h1.4v1.4h-1.4zM445.1 174.6h1.4v1.4h-1.4zM400.3 176.3h1.4v1.4h-1.4zM411.1 175.1h1.4v1.4h-1.4zM449.0 173.9h1.4v1.4h-1.4zM429.8 175.2h1.4v1.4h-1.4zM394.8 175.2h1.4v1.4h-1.4zM395.0 173.8h1.4v1.4h-1.4zM394.4 171.0h1.4v1.4h-1.4zM395.6 173.0h1.4v1.4h-1.4zM394.2 171.6h1.4v1.4h-1.4zM396.0 172.0h1.4v1.4h-1.4zM395.4 171.6h1.4v1.4h-1.4zM396.3 172.3h1.4v1.4h-1.4zM394.9 175.6h1.4v1.4h-1.4zM396.1 174.4h1.4v1.4h-1.4zM394.2 175.1h1.4v1.4h-1.4zM394.4 175.9h1.4v1.4h-1.4zM397.0 174.0h1.4v1.4h-1.4zM396.7 173.3h1.4v1.4h-1.4zM396.2 170.8h1.4v1.4h-1.4zM397.4 174.8h1.4v1.4h-1.4zM393.2 171.5h1.4v1.4h-1.4zM395.4 174.6h1.4v1.4h-1.4zM393.2 175.8h1.4v1.4h-1.4zM394.2 176.0h1.4v1.4h-1.4zM396.3 173.0h1.4v1.4h-1.4zM394.3 170.7h1.4v1.4h-1.4zM443.4 171.7h1.4v1.4h-1.4zM469.5 173.1h1.4v1.4h-1.4zM454.0 173.3h1.4v1.4h-1.4zM451.4 173.3h1.4v1.4h-1.4zM475.0 169.4h1.4v1.4h-1.4zM472.8 172.1h1.4v1.4h-1.4zM466.8 172.8h1.4v1.4h-1.4zM460.5 171.1h1.4v1.4h-1.4zM454.0 172.9h1.4v1.4h-1.4zM474.4 169.4h1.4v1.4h-1.4zM469.5 170.0h1.4v1.4h-1.4zM447.1 169.6h1.4v1.4h-1.4zM461.9 170.0h1.4v1.4h-1.4zM449.3 169.1h1.4v1.4h-1.4zM452.4 172.5h1.4v1.4h-1.4zM440.9 171.0h1.4v1.4h-1.4zM463.0 168.8h1.4v1.4h-1.4zM451.3 173.1h1.4v1.4h-1.4zM477.9 172.9h1.4v1.4h-1.4zM446.5 172.4h1.4v1.4h-1.4zM457.2 169.5h1.4v1.4h-1.4zM458.4 173.2h1.4v1.4h-1.4zM473.5 170.6h1.4v1.4h-1.4zM442.5 173.1h1.4v1.4h-1.4zM477.6 171.2h1.4v1.4h-1.4zM448.6 171.3h1.4v1.4h-1.4zM466.6 171.0h1.4v1.4h-1.4zM453.5 169.8h1.4v1.4h-1.4zM451.4 168.8h1.4v1.4h-1.4zM449.8 173.4h1.4v1.4h-1.4zM440.4 172.2h1.4v1.4h-1.4zM470.1 170.6h1.4v1.4h-1.4zM462.7 169.7h1.4v1.4h-1.4zM465.5 172.1h1.4v1.4h-1.4zM468.0 171.1h1.4v1.4h-1.4zM477.0 172.9h1.4v1.4h-1.4zM461.9 172.0h1.4v1.4h-1.4zM450.5 173.3h1.4v1.4h-1.4zM464.6 173.1h1.4v1.4h-1.4zM451.1 173.5h1.4v1.4h-1.4zM444.1 171.3h1.4v1.4h-1.4zM444.3 169.5h1.4v1.4h-1.4zM469.2 168.9h1.4v1.4h-1.4zM454.6 169.6h1.4v1.4h-1.4zM472.4 169.0h1.4v1.4h-1.4zM452.9 172.9h1.4v1.4h-1.4zM466.2 172.1h1.4v1.4h-1.4zM477.8 168.7h1.4v1.4h-1.4zM465.4 172.3h1.4v1.4h-1.4zM468.6 172.2h1.4v1.4h-1.4zM399.6 169.2h1.4v1.4h-1.4zM426.9 173.1h1.4v1.4h-1.4zM407.0 168.7h1.4v1.4h-1.4zM417.6 169.3h1.4v1.4h-1.4zM426.0 171.1h1.4v1.4h-1.4zM428.3 169.3h1.4v1.4h-1.4zM416.1 169.3h1.4v1.4h-1.4zM427.2 172.7h1.4v1.4h-1.4zM406.0 175.7h1.4v1.4h-1.4zM423.4 171.1h1.4v1.4h-1.4zM430.1 171.4h1.4v1.4h-1.4zM433.5 170.8h1.4v1.4h-1.4z" fill="#2a2a2a"/>
<path d="M422.0 114.0h2v2h-2zM415.0 135.0h2v2h-2zM449.0 144.0h2v2h-2zM425.0 163.0h2v2h-2zM427.0 122.0h2v2h-2zM423.0 140.0h2v2h-2zM427.0 132.0h2v2h-2zM435.0 133.0h2v2h-2zM422.0 132.0h2v2h-2zM420.0 151.0h2v2h-2zM443.0 164.0h2v2h-2zM418.0 110.0h2v2h-2zM421.0 151.0h2v2h-2zM426.0 163.0h2v2h-2zM438.0 113.0h2v2h-2zM424.0 144.0h2v2h-2zM438.0 111.0h2v2h-2zM427.0 147.0h2v2h-2zM444.0 123.0h2v2h-2zM439.0 144.0h2v2h-2zM430.0 119.0h2v2h-2zM412.0 117.0h2v2h-2zM411.0 155.0h2v2h-2zM435.0 103.0h2v2h-2zM418.0 161.0h2v2h-2zM432.0 106.0h2v2h-2zM443.0 141.0h2v2h-2zM444.0 124.0h2v2h-2zM428.0 159.0h2v2h-2zM433.0 156.0h2v2h-2zM423.0 143.0h2v2h-2zM423.0 154.0h2v2h-2zM436.0 117.0h2v2h-2zM405.0 152.0h2v2h-2zM413.0 117.0h2v2h-2zM421.0 124.0h2v2h-2zM433.0 139.0h2v2h-2zM428.0 126.0h2v2h-2zM433.0 143.0h2v2h-2zM422.0 158.0h2v2h-2zM428.0 162.0h2v2h-2zM416.0 152.0h2v2h-2zM425.0 120.0h2v2h-2zM433.0 110.0h2v2h-2zM447.0 152.0h2v2h-2zM428.0 125.0h2v2h-2zM399.0 162.0h2v2h-2zM426.0 104.0h2v2h-2zM427.0 139.0h2v2h-2zM439.0 158.0h2v2h-2zM418.0 132.0h2v2h-2zM425.0 102.0h2v2h-2zM425.0 96.0h2v2h-2zM419.0 146.0h2v2h-2zM425.0 153.0h2v2h-2zM421.0 127.0h2v2h-2zM432.0 158.0h2v2h-2zM439.0 153.0h2v2h-2zM427.0 157.0h2v2h-2zM442.0 141.0h2v2h-2zM416.0 136.0h2v2h-2zM433.0 152.0h2v2h-2zM399.0 147.0h2v2h-2zM401.0 137.0h2v2h-2zM455.0 148.0h2v2h-2zM432.0 135.0h2v2h-2zM407.0 117.0h2v2h-2zM430.0 144.0h2v2h-2zM421.0 98.0h2v2h-2zM432.0 161.0h2v2h-2zM414.0 149.0h2v2h-2zM409.0 159.0h2v2h-2zM425.0 127.0h2v2h-2zM419.0 151.0h2v2h-2zM428.0 161.0h2v2h-2zM423.0 134.0h2v2h-2zM447.0 163.0h2v2h-2zM430.0 149.0h2v2h-2zM442.0 143.0h2v2h-2zM437.0 129.0h2v2h-2zM448.0 162.0h2v2h-2zM409.0 153.0h2v2h-2zM432.0 162.0h2v2h-2zM445.0 121.0h2v2h-2zM433.0 128.0h2v2h-2zM436.0 161.0h2v2h-2zM439.0 148.0h2v2h-2zM427.0 160.0h2v2h-2zM412.0 155.0h2v2h-2zM431.0 140.0h2v2h-2zM429.0 146.0h2v2h-2zM429.0 122.0h2v2h-2zM407.0 158.0h2v2h-2zM433.0 157.0h2v2h-2zM415.0 121.0h2v2h-2zM433.0 161.0h2v2h-2zM445.0 147.0h2v2h-2zM439.0 155.0h2v2h-2zM432.0 157.0h2v2h-2zM435.0 113.0h2v2h-2zM432.0 147.0h2v2h-2zM423.0 136.0h2v2h-2zM419.0 134.0h2v2h-2zM419.0 131.0h2v2h-2zM410.0 138.0h2v2h-2zM439.0 163.0h2v2h-2zM451.0 126.0h2v2h-2zM430.0 135.0h2v2h-2zM427.0 132.0h2v2h-2zM430.0 151.0h2v2h-2zM415.0 125.0h2v2h-2zM414.0 126.0h2v2h-2zM428.0 157.0h2v2h-2zM416.0 146.0h2v2h-2zM406.0 132.0h2v2h-2zM413.0 159.0h2v2h-2zM423.0 95.0h2v2h-2zM422.0 142.0h2v2h-2zM427.0 137.0h2v2h-2zM430.0 156.0h2v2h-2zM415.0 132.0h2v2h-2zM418.0 154.0h2v2h-2zM425.0 123.0h2v2h-2zM423.0 155.0h2v2h-2zM418.0 142.0h2v2h-2zM415.0 163.0h2v2h-2zM427.0 149.0h2v2h-2zM413.0 155.0h2v2h-2zM413.0 143.0h2v2h-2zM412.0 121.0h2v2h-2zM418.0 115.0h2v2h-2zM437.0 159.0h2v2h-2zM425.0 156.0h2v2h-2zM436.0 140.0h2v2h-2zM410.0 121.0h2v2h-2zM424.0 120.0h2v2h-2zM425.0 161.0h2v2h-2zM415.0 163.0h2v2h-2zM419.0 102.0h2v2h-2zM416.0 158.0h2v2h-2zM423.0 157.0h2v2h-2zM429.0 145.0h2v2h-2zM433.0 104.0h2v2h-2zM421.0 144.0h2v2h-2zM429.0 106.0h2v2h-2zM430.0 159.0h2v2h-2zM426.0 156.0h2v2h-2zM432.0 145.0h2v2h-2zM439.0 118.0h2v2h-2zM414.0 145.0h2v2h-2zM445.0 116.0h2v2h-2zM435.0 164.0h2v2h-2zM435.0 148.0h2v2h-2zM459.0 160.0h2v2h-2zM438.0 162.0h2v2h-2zM436.0 140.0h2v2h-2zM412.0 149.0h2v2h-2zM438.0 105.0h2v2h-2zM418.0 116.0h2v2h-2zM437.0 135.0h2v2h-2zM436.0 140.0h2v2h-2zM433.0 145.0h2v2h-2zM429.0 156.0h2v2h-2zM418.0 139.0h2v2h-2zM440.0 142.0h2v2h-2zM405.0 117.0h2v2h-2zM417.0 148.0h2v2h-2zM404.0 163.0h2v2h-2zM430.0 103.0h2v2h-2zM424.0 151.0h2v2h-2zM439.0 155.0h2v2h-2zM410.0 157.0h2v2h-2zM409.0 151.0h2v2h-2zM401.0 124.0h2v2h-2zM423.0 112.0h2v2h-2zM422.0 151.0h2v2h-2zM425.0 127.0h2v2h-2zM447.0 116.0h2v2h-2zM432.0 112.0h2v2h-2zM418.0 115.0h2v2h-2zM434.0 123.0h2v2h-2zM427.0 126.0h2v2h-2zM435.0 128.0h2v2h-2zM421.0 115.0h2v2h-2zM437.0 160.0h2v2h-2zM435.0 153.0h2v2h-2zM424.0 106.0h2v2h-2zM421.0 162.0h2v2h-2zM442.0 109.0h2v2h-2zM418.0 111.0h2v2h-2zM426.0 164.0h2v2h-2zM447.0 164.0h2v2h-2zM424.0 163.0h2v2h-2zM430.0 163.0h2v2h-2zM450.0 162.0h2v2h-2zM408.0 162.0h2v2h-2zM449.0 163.0h2v2h-2zM476.0 161.0h2v2h-2zM441.0 159.0h2v2h-2zM407.0 162.0h2v2h-2zM471.0 163.0h2v2h-2zM416.0 158.0h2v2h-2zM457.0 160.0h2v2h-2zM407.0 164.0h2v2h-2zM434.0 164.0h2v2h-2zM410.0 161.0h2v2h-2zM436.0 164.0h2v2h-2zM468.0 163.0h2v2h-2zM468.0 162.0h2v2h-2zM449.0 162.0h2v2h-2zM453.0 158.0h2v2h-2zM423.0 159.0h2v2h-2zM419.0 160.0h2v2h-2zM458.0 163.0h2v2h-2zM431.0 160.0h2v2h-2zM419.0 159.0h2v2h-2zM469.0 162.0h2v2h-2zM428.0 161.0h2v2h-2zM427.0 164.0h2v2h-2zM420.0 155.0h2v2h-2zM464.0 163.0h2v2h-2zM419.0 163.0h2v2h-2zM414.0 163.0h2v2h-2zM441.0 159.0h2v2h-2zM408.0 163.0h2v2h-2zM413.0 162.0h2v2h-2zM418.0 159.0h2v2h-2zM431.0 163.0h2v2h-2zM453.0 159.0h2v2h-2zM462.0 156.0h2v2h-2zM432.0 163.0h2v2h-2zM426.0 159.0h2v2h-2zM463.0 159.0h2v2h-2zM467.0 157.0h2v2h-2zM454.0 163.0h2v2h-2zM415.0 143.0h2v2h-2zM470.0 94.0h2v2h-2zM469.0 92.0h2v2h-2zM461.0 125.0h2v2h-2zM458.0 149.0h2v2h-2zM449.0 159.0h2v2h-2zM474.0 87.0h2v2h-2zM409.0 97.0h2v2h-2zM463.0 159.0h2v2h-2zM441.0 127.0h2v2h-2zM446.0 87.0h2v2h-2zM454.0 145.0h2v2h-2zM440.0 115.0h2v2h-2zM396.0 152.0h2v2h-2zM424.0 148.0h2v2h-2zM414.0 105.0h2v2h-2zM474.0 124.0h2v2h-2zM448.0 98.0h2v2h-2z" fill="#141414"/>
<defs><linearGradient id="bg4" x1="0" x2="1" y1="0" y2="0"><stop offset="0" stop-color="#6a6a6a"/><stop offset="0.15" stop-color="#999"/><stop offset="0.5" stop-color="#dadada"/><stop offset="0.78" stop-color="#c4c4c4"/><stop offset="1" stop-color="#8a8a8a"/></linearGradient></defs>
<path d="M68.0 333.1 L146.0 331.9 Q152.5 332.2 152.0 335.4 Q151.0 339.9 142.0 339.9 L73.0 342.3 Q63.0 342.3 63.0 337.4 Q63.0 333.5 68.0 333.1 Z" fill="url(#bg4)"/>
<path d="M122.5 332.8h1.4v1.4h-1.4zM68.1 333.2h1.4v1.4h-1.4zM81.1 331.9h1.4v1.4h-1.4zM109.3 332.7h1.4v1.4h-1.4zM129.2 332.1h1.4v1.4h-1.4zM144.6 332.7h1.4v1.4h-1.4zM136.4 332.5h1.4v1.4h-1.4zM73.8 331.6h1.4v1.4h-1.4zM119.9 332.4h1.4v1.4h-1.4zM103.7 332.2h1.4v1.4h-1.4zM82.4 332.5h1.4v1.4h-1.4zM88.6 333.2h1.4v1.4h-1.4zM82.5 333.3h1.4v1.4h-1.4zM137.7 332.3h1.4v1.4h-1.4zM130.6 332.6h1.4v1.4h-1.4zM105.7 333.1h1.4v1.4h-1.4zM135.3 332.0h1.4v1.4h-1.4zM141.4 331.7h1.4v1.4h-1.4zM68.4 332.5h1.4v1.4h-1.4zM92.4 332.4h1.4v1.4h-1.4zM106.8 332.4h1.4v1.4h-1.4zM141.5 333.3h1.4v1.4h-1.4zM96.0 332.1h1.4v1.4h-1.4zM121.0 332.0h1.4v1.4h-1.4zM100.4 332.9h1.4v1.4h-1.4zM68.5 333.0h1.4v1.4h-1.4zM127.4 332.3h1.4v1.4h-1.4zM88.1 332.6h1.4v1.4h-1.4zM91.9 333.1h1.4v1.4h-1.4zM115.8 332.2h1.4v1.4h-1.4zM133.4 332.7h1.4v1.4h-1.4zM78.7 332.3h1.4v1.4h-1.4zM107.7 333.3h1.4v1.4h-1.4zM94.0 332.4h1.4v1.4h-1.4zM147.1 332.4h1.4v1.4h-1.4zM135.0 331.8h1.4v1.4h-1.4zM99.9 331.9h1.4v1.4h-1.4zM139.6 332.6h1.4v1.4h-1.4zM85.7 331.8h1.4v1.4h-1.4zM102.1 331.8h1.4v1.4h-1.4zM107.3 332.9h1.4v1.4h-1.4zM93.1 331.9h1.4v1.4h-1.4zM97.3 331.9h1.4v1.4h-1.4zM136.4 331.8h1.4v1.4h-1.4zM128.0 332.2h1.4v1.4h-1.4zM127.0 333.0h1.4v1.4h-1.4zM78.9 333.0h1.4v1.4h-1.4zM144.6 332.6h1.4v1.4h-1.4zM120.2 332.2h1.4v1.4h-1.4zM82.1 332.9h1.4v1.4h-1.4zM134.5 332.0h1.4v1.4h-1.4zM77.2 332.2h1.4v1.4h-1.4zM118.7 332.3h1.4v1.4h-1.4zM146.1 333.0h1.4v1.4h-1.4zM142.2 332.7h1.4v1.4h-1.4zM129.2 333.3h1.4v1.4h-1.4zM70.9 332.6h1.4v1.4h-1.4zM83.2 333.0h1.4v1.4h-1.4zM86.8 332.9h1.4v1.4h-1.4zM94.9 332.8h1.4v1.4h-1.4zM123.0 333.2h1.4v1.4h-1.4zM138.7 332.4h1.4v1.4h-1.4zM123.8 331.9h1.4v1.4h-1.4zM75.9 332.9h1.4v1.4h-1.4zM141.5 332.9h1.4v1.4h-1.4zM109.9 332.7h1.4v1.4h-1.4zM127.1 332.6h1.4v1.4h-1.4zM97.4 333.1h1.4v1.4h-1.4zM97.9 333.2h1.4v1.4h-1.4zM132.8 333.0h1.4v1.4h-1.4zM135.5 333.4h1.4v1.4h-1.4zM148.2 332.5h1.4v1.4h-1.4zM98.6 332.9h1.4v1.4h-1.4zM146.4 332.7h1.4v1.4h-1.4zM70.1 331.7h1.4v1.4h-1.4zM105.6 333.0h1.4v1.4h-1.4zM139.9 332.3h1.4v1.4h-1.4zM109.9 332.5h1.4v1.4h-1.4zM75.7 331.6h1.4v1.4h-1.4zM110.4 332.5h1.4v1.4h-1.4zM132.0 338.4h1.4v1.4h-1.4zM131.2 338.4h1.4v1.4h-1.4zM108.4 338.7h1.4v1.4h-1.4zM79.6 339.4h1.4v1.4h-1.4zM138.9 337.4h1.4v1.4h-1.4zM69.2 340.1h1.4v1.4h-1.4zM118.0 338.2h1.4v1.4h-1.4zM83.7 340.1h1.4v1.4h-1.4zM128.1 338.5h1.4v1.4h-1.4zM73.8 340.4h1.4v1.4h-1.4zM116.1 338.6h1.4v1.4h-1.4zM123.6 338.1h1.4v1.4h-1.4zM69.2 339.8h1.4v1.4h-1.4zM133.2 337.7h1.4v1.4h-1.4zM125.1 338.5h1.4v1.4h-1.4zM87.1 339.2h1.4v1.4h-1.4zM99.7 339.2h1.4v1.4h-1.4zM120.0 338.3h1.4v1.4h-1.4zM119.6 338.4h1.4v1.4h-1.4zM106.1 338.7h1.4v1.4h-1.4zM97.9 339.5h1.4v1.4h-1.4zM135.4 337.7h1.4v1.4h-1.4zM121.4 338.8h1.4v1.4h-1.4zM72.3 339.7h1.4v1.4h-1.4zM137.8 338.2h1.4v1.4h-1.4zM115.0 339.2h1.4v1.4h-1.4zM97.7 339.1h1.4v1.4h-1.4zM95.4 339.0h1.4v1.4h-1.4zM135.6 338.4h1.4v1.4h-1.4zM119.2 338.7h1.4v1.4h-1.4zM81.7 339.9h1.4v1.4h-1.4zM104.2 338.6h1.4v1.4h-1.4zM124.9 338.9h1.4v1.4h-1.4zM73.1 339.6h1.4v1.4h-1.4zM109.6 338.8h1.4v1.4h-1.4zM64.8 339.3h1.4v1.4h-1.4zM65.8 337.9h1.4v1.4h-1.4zM64.2 339.0h1.4v1.4h-1.4zM64.1 335.2h1.4v1.4h-1.4zM66.0 339.3h1.4v1.4h-1.4zM64.5 336.2h1.4v1.4h-1.4zM63.7 338.0h1.4v1.4h-1.4zM66.9 335.1h1.4v1.4h-1.4zM65.7 337.6h1.4v1.4h-1.4zM63.5 337.5h1.4v1.4h-1.4zM64.4 335.6h1.4v1.4h-1.4zM67.9 334.9h1.4v1.4h-1.4zM64.7 338.0h1.4v1.4h-1.4zM65.0 334.5h1.4v1.4h-1.4zM67.3 335.8h1.4v1.4h-1.4zM65.1 339.8h1.4v1.4h-1.4zM67.8 339.8h1.4v1.4h-1.4zM65.1 338.8h1.4v1.4h-1.4zM67.2 335.6h1.4v1.4h-1.4zM67.8 335.0h1.4v1.4h-1.4zM66.3 335.8h1.4v1.4h-1.4zM64.1 335.2h1.4v1.4h-1.4zM148.8 333.5h1.4v1.4h-1.4zM147.7 333.7h1.4v1.4h-1.4zM124.8 334.0h1.4v1.4h-1.4zM150.6 333.4h1.4v1.4h-1.4zM145.7 334.4h1.4v1.4h-1.4zM149.2 336.7h1.4v1.4h-1.4zM122.3 335.4h1.4v1.4h-1.4zM118.3 334.9h1.4v1.4h-1.4zM113.0 336.3h1.4v1.4h-1.4zM135.2 334.3h1.4v1.4h-1.4zM112.5 337.6h1.4v1.4h-1.4zM116.8 334.5h1.4v1.4h-1.4zM112.9 334.8h1.4v1.4h-1.4zM127.7 335.6h1.4v1.4h-1.4zM124.6 334.1h1.4v1.4h-1.4zM142.7 334.3h1.4v1.4h-1.4zM125.0 335.4h1.4v1.4h-1.4zM122.7 336.5h1.4v1.4h-1.4zM115.2 334.5h1.4v1.4h-1.4zM128.4 334.2h1.4v1.4h-1.4zM144.8 334.7h1.4v1.4h-1.4zM128.4 335.2h1.4v1.4h-1.4zM144.5 334.0h1.4v1.4h-1.4zM144.4 337.6h1.4v1.4h-1.4zM122.4 333.7h1.4v1.4h-1.4zM142.8 334.5h1.4v1.4h-1.4zM120.9 333.3h1.4v1.4h-1.4zM136.0 337.6h1.4v1.4h-1.4zM146.5 335.8h1.4v1.4h-1.4zM129.1 337.8h1.4v1.4h-1.4zM137.8 337.7h1.4v1.4h-1.4zM138.9 336.4h1.4v1.4h-1.4zM139.4 333.5h1.4v1.4h-1.4zM121.8 333.2h1.4v1.4h-1.4zM148.5 337.9h1.4v1.4h-1.4zM135.6 333.7h1.4v1.4h-1.4zM116.8 335.1h1.4v1.4h-1.4zM127.3 333.9h1.4v1.4h-1.4zM115.4 336.1h1.4v1.4h-1.4zM143.0 333.2h1.4v1.4h-1.4zM124.1 334.4h1.4v1.4h-1.4zM133.2 335.9h1.4v1.4h-1.4zM128.0 337.2h1.4v1.4h-1.4zM127.3 334.4h1.4v1.4h-1.4zM142.0 337.1h1.4v1.4h-1.4zM146.3 333.7h1.4v1.4h-1.4zM119.7 335.2h1.4v1.4h-1.4zM149.8 336.0h1.4v1.4h-1.4zM136.4 334.5h1.4v1.4h-1.4zM150.7 333.8h1.4v1.4h-1.4zM89.8 337.9h1.4v1.4h-1.4zM99.9 338.9h1.4v1.4h-1.4zM82.9 334.9h1.4v1.4h-1.4zM106.7 337.0h1.4v1.4h-1.4zM78.7 333.9h1.4v1.4h-1.4zM99.6 339.2h1.4v1.4h-1.4zM90.3 335.7h1.4v1.4h-1.4zM93.9 340.2h1.4v1.4h-1.4zM90.6 338.7h1.4v1.4h-1.4zM102.8 338.5h1.4v1.4h-1.4zM86.9 334.2h1.4v1.4h-1.4zM95.3 339.1h1.4v1.4h-1.4z" fill="#2a2a2a"/>
<path d="M108.0 285.0h2v2h-2zM82.0 312.0h2v2h-2zM118.0 321.0h2v2h-2zM107.0 321.0h2v2h-2zM108.0 313.0h2v2h-2zM122.0 312.0h2v2h-2zM99.0 316.0h2v2h-2zM103.0 296.0h2v2h-2zM111.0 294.0h2v2h-2zM80.0 321.0h2v2h-2zM85.0 273.0h2v2h-2zM84.0 286.0h2v2h-2zM94.0 321.0h2v2h-2zM87.0 235.0h2v2h-2zM107.0 304.0h2v2h-2zM125.0 323.0h2v2h-2zM102.0 308.0h2v2h-2zM117.0 306.0h2v2h-2zM125.0 325.0h2v2h-2zM101.0 287.0h2v2h-2zM130.0 325.0h2v2h-2zM93.0 272.0h2v2h-2zM120.0 289.0h2v2h-2zM101.0 260.0h2v2h-2zM112.0 284.0h2v2h-2zM117.0 321.0h2v2h-2zM93.0 277.0h2v2h-2zM104.0 320.0h2v2h-2zM114.0 297.0h2v2h-2zM124.0 267.0h2v2h-2zM119.0 283.0h2v2h-2zM95.0 303.0h2v2h-2zM86.0 310.0h2v2h-2zM109.0 312.0h2v2h-2zM119.0 323.0h2v2h-2zM130.0 305.0h2v2h-2zM109.0 328.0h2v2h-2zM89.0 292.0h2v2h-2zM84.0 292.0h2v2h-2zM77.0 321.0h2v2h-2zM95.0 264.0h2v2h-2zM110.0 324.0h2v2h-2zM91.0 323.0h2v2h-2zM138.0 283.0h2v2h-2zM75.0 295.0h2v2h-2zM111.0 315.0h2v2h-2zM108.0 280.0h2v2h-2zM119.0 310.0h2v2h-2zM100.0 255.0h2v2h-2zM111.0 308.0h2v2h-2zM100.0 297.0h2v2h-2zM98.0 299.0h2v2h-2zM93.0 287.0h2v2h-2zM95.0 287.0h2v2h-2zM123.0 316.0h2v2h-2zM132.0 301.0h2v2h-2zM69.0 324.0h2v2h-2zM106.0 315.0h2v2h-2zM123.0 310.0h2v2h-2zM118.0 276.0h2v2h-2zM113.0 279.0h2v2h-2zM89.0 260.0h2v2h-2zM94.0 285.0h2v2h-2zM103.0 285.0h2v2h-2zM98.0 318.0h2v2h-2zM125.0 311.0h2v2h-2zM106.0 325.0h2v2h-2zM92.0 316.0h2v2h-2zM87.0 320.0h2v2h-2zM103.0 242.0h2v2h-2zM96.0 319.0h2v2h-2zM111.0 284.0h2v2h-2zM115.0 311.0h2v2h-2zM130.0 327.0h2v2h-2zM100.0 327.0h2v2h-2zM130.0 294.0h2v2h-2zM132.0 285.0h2v2h-2zM97.0 305.0h2v2h-2zM119.0 311.0h2v2h-2zM89.0 302.0h2v2h-2zM109.0 281.0h2v2h-2zM149.0 318.0h2v2h-2zM97.0 314.0h2v2h-2zM114.0 311.0h2v2h-2zM89.0 315.0h2v2h-2zM97.0 318.0h2v2h-2zM94.0 303.0h2v2h-2zM102.0 305.0h2v2h-2zM81.0 314.0h2v2h-2zM76.0 307.0h2v2h-2zM93.0 319.0h2v2h-2zM129.0 239.0h2v2h-2zM91.0 322.0h2v2h-2zM112.0 326.0h2v2h-2zM130.0 318.0h2v2h-2zM118.0 323.0h2v2h-2zM85.0 318.0h2v2h-2zM108.0 292.0h2v2h-2zM97.0 287.0h2v2h-2zM123.0 317.0h2v2h-2zM114.0 287.0h2v2h-2zM110.0 309.0h2v2h-2zM99.0 322.0h2v2h-2zM119.0 271.0h2v2h-2zM114.0 304.0h2v2h-2zM122.0 308.0h2v2h-2zM108.0 306.0h2v2h-2zM127.0 326.0h2v2h-2zM86.0 267.0h2v2h-2zM112.0 277.0h2v2h-2zM106.0 310.0h2v2h-2zM108.0 325.0h2v2h-2zM111.0 254.0h2v2h-2zM114.0 325.0h2v2h-2zM98.0 296.0h2v2h-2zM102.0 312.0h2v2h-2zM110.0 324.0h2v2h-2zM111.0 287.0h2v2h-2zM98.0 327.0h2v2h-2zM107.0 311.0h2v2h-2zM115.0 324.0h2v2h-2zM98.0 319.0h2v2h-2zM141.0 297.0h2v2h-2zM110.0 327.0h2v2h-2zM122.0 326.0h2v2h-2zM97.0 250.0h2v2h-2zM119.0 273.0h2v2h-2zM116.0 325.0h2v2h-2zM113.0 282.0h2v2h-2zM118.0 324.0h2v2h-2zM85.0 324.0h2v2h-2zM100.0 294.0h2v2h-2zM99.0 305.0h2v2h-2zM111.0 301.0h2v2h-2zM124.0 303.0h2v2h-2zM113.0 280.0h2v2h-2zM120.0 300.0h2v2h-2zM102.0 302.0h2v2h-2zM134.0 301.0h2v2h-2zM120.0 324.0h2v2h-2zM110.0 297.0h2v2h-2zM93.0 320.0h2v2h-2zM119.0 322.0h2v2h-2zM115.0 280.0h2v2h-2zM82.0 303.0h2v2h-2zM123.0 308.0h2v2h-2zM99.0 251.0h2v2h-2zM117.0 313.0h2v2h-2zM138.0 297.0h2v2h-2zM113.0 308.0h2v2h-2zM123.0 291.0h2v2h-2zM123.0 311.0h2v2h-2zM112.0 310.0h2v2h-2zM146.0 318.0h2v2h-2zM106.0 274.0h2v2h-2zM96.0 315.0h2v2h-2zM111.0 292.0h2v2h-2zM102.0 290.0h2v2h-2zM78.0 317.0h2v2h-2zM74.0 294.0h2v2h-2zM117.0 241.0h2v2h-2zM116.0 282.0h2v2h-2zM103.0 318.0h2v2h-2zM101.0 275.0h2v2h-2zM84.0 237.0h2v2h-2zM73.0 315.0h2v2h-2zM117.0 300.0h2v2h-2zM90.0 270.0h2v2h-2zM91.0 286.0h2v2h-2zM93.0 322.0h2v2h-2zM89.0 320.0h2v2h-2zM106.0 298.0h2v2h-2zM86.0 317.0h2v2h-2zM105.0 306.0h2v2h-2zM105.0 300.0h2v2h-2zM93.0 323.0h2v2h-2zM95.0 294.0h2v2h-2zM91.0 274.0h2v2h-2zM112.0 302.0h2v2h-2zM96.0 326.0h2v2h-2zM101.0 327.0h2v2h-2zM99.0 328.0h2v2h-2zM124.0 326.0h2v2h-2zM104.0 278.0h2v2h-2zM101.0 324.0h2v2h-2zM130.0 289.0h2v2h-2zM88.0 317.0h2v2h-2zM95.0 327.0h2v2h-2zM125.0 280.0h2v2h-2zM112.0 286.0h2v2h-2zM122.0 261.0h2v2h-2zM102.0 288.0h2v2h-2zM114.0 288.0h2v2h-2zM110.0 314.0h2v2h-2zM85.0 317.0h2v2h-2zM141.0 318.0h2v2h-2zM75.0 293.0h2v2h-2zM102.0 278.0h2v2h-2zM124.0 319.0h2v2h-2zM96.0 312.0h2v2h-2zM108.0 324.0h2v2h-2zM103.0 311.0h2v2h-2zM106.0 291.0h2v2h-2zM90.0 327.0h2v2h-2zM111.0 266.0h2v2h-2zM110.0 239.0h2v2h-2zM113.0 326.0h2v2h-2zM114.0 281.0h2v2h-2zM84.0 279.0h2v2h-2zM89.0 321.0h2v2h-2zM118.0 316.0h2v2h-2zM109.0 259.0h2v2h-2zM128.0 311.0h2v2h-2zM137.0 305.0h2v2h-2zM91.0 281.0h2v2h-2zM109.0 300.0h2v2h-2zM124.0 326.0h2v2h-2zM90.0 312.0h2v2h-2zM69.0 313.0h2v2h-2zM100.0 256.0h2v2h-2zM138.0 276.0h2v2h-2zM104.0 288.0h2v2h-2zM105.0 309.0h2v2h-2zM113.0 306.0h2v2h-2zM96.0 248.0h2v2h-2zM107.0 294.0h2v2h-2zM110.0 311.0h2v2h-2zM98.0 293.0h2v2h-2zM103.0 293.0h2v2h-2zM106.0 319.0h2v2h-2zM119.0 294.0h2v2h-2zM76.0 306.0h2v2h-2zM102.0 302.0h2v2h-2zM109.0 270.0h2v2h-2zM98.0 317.0h2v2h-2zM117.0 264.0h2v2h-2zM120.0 306.0h2v2h-2zM93.0 325.0h2v2h-2zM90.0 324.0h2v2h-2zM113.0 320.0h2v2h-2zM136.0 319.0h2v2h-2zM70.0 318.0h2v2h-2zM94.0 311.0h2v2h-2zM100.0 316.0h2v2h-2zM114.0 280.0h2v2h-2zM113.0 323.0h2v2h-2zM104.0 284.0h2v2h-2zM88.0 288.0h2v2h-2zM114.0 318.0h2v2h-2zM105.0 299.0h2v2h-2zM95.0 285.0h2v2h-2zM98.0 253.0h2v2h-2zM100.0 244.0h2v2h-2zM109.0 252.0h2v2h-2zM101.0 322.0h2v2h-2zM105.0 308.0h2v2h-2zM104.0 322.0h2v2h-2zM127.0 264.0h2v2h-2zM112.0 278.0h2v2h-2zM80.0 326.0h2v2h-2zM98.0 323.0h2v2h-2zM115.0 283.0h2v2h-2zM100.0 301.0h2v2h-2zM120.0 319.0h2v2h-2zM117.0 318.0h2v2h-2zM87.0 302.0h2v2h-2zM102.0 293.0h2v2h-2zM87.0 312.0h2v2h-2zM109.0 262.0h2v2h-2zM96.0 288.0h2v2h-2zM110.0 275.0h2v2h-2zM96.0 294.0h2v2h-2zM127.0 298.0h2v2h-2zM126.0 299.0h2v2h-2zM108.0 272.0h2v2h-2zM100.0 282.0h2v2h-2zM99.0 288.0h2v2h-2zM108.0 326.0h2v2h-2zM85.0 282.0h2v2h-2zM115.0 274.0h2v2h-2zM77.0 272.0h2v2h-2zM120.0 307.0h2v2h-2zM113.0 289.0h2v2h-2zM84.0 325.0h2v2h-2zM86.0 319.0h2v2h-2zM102.0 278.0h2v2h-2zM118.0 299.0h2v2h-2zM98.0 294.0h2v2h-2zM122.0 300.0h2v2h-2zM103.0 294.0h2v2h-2zM83.0 266.0h2v2h-2zM112.0 288.0h2v2h-2zM101.0 308.0h2v2h-2zM88.0 320.0h2v2h-2zM107.0 282.0h2v2h-2zM111.0 301.0h2v2h-2zM105.0 311.0h2v2h-2zM98.0 306.0h2v2h-2zM114.0 316.0h2v2h-2zM116.0 326.0h2v2h-2zM101.0 325.0h2v2h-2zM133.0 267.0h2v2h-2zM123.0 293.0h2v2h-2zM89.0 319.0h2v2h-2zM137.0 326.0h2v2h-2zM108.0 254.0h2v2h-2zM125.0 273.0h2v2h-2zM85.0 312.0h2v2h-2zM109.0 232.0h2v2h-2zM97.0 326.0h2v2h-2zM88.0 294.0h2v2h-2zM105.0 318.0h2v2h-2zM99.0 306.0h2v2h-2zM97.0 251.0h2v2h-2zM125.0 317.0h2v2h-2zM109.0 325.0h2v2h-2zM105.0 227.0h2v2h-2zM98.0 311.0h2v2h-2zM89.0 305.0h2v2h-2zM107.0 319.0h2v2h-2zM127.0 326.0h2v2h-2zM119.0 297.0h2v2h-2zM105.0 309.0h2v2h-2zM117.0 306.0h2v2h-2zM118.0 318.0h2v2h-2zM101.0 320.0h2v2h-2zM103.0 317.0h2v2h-2zM110.0 324.0h2v2h-2zM112.0 328.0h2v2h-2zM112.0 298.0h2v2h-2zM107.0 305.0h2v2h-2zM97.0 325.0h2v2h-2zM125.0 299.0h2v2h-2zM105.0 303.0h2v2h-2zM121.0 323.0h2v2h-2zM88.0 298.0h2v2h-2zM112.0 324.0h2v2h-2zM98.0 299.0h2v2h-2zM92.0 298.0h2v2h-2zM72.0 278.0h2v2h-2zM95.0 273.0h2v2h-2zM133.0 301.0h2v2h-2zM101.0 246.0h2v2h-2zM124.0 310.0h2v2h-2zM89.0 275.0h2v2h-2zM117.0 264.0h2v2h-2zM115.0 316.0h2v2h-2zM92.0 305.0h2v2h-2zM94.0 300.0h2v2h-2zM77.0 324.0h2v2h-2zM123.0 308.0h2v2h-2zM97.0 299.0h2v2h-2zM113.0 327.0h2v2h-2zM78.0 316.0h2v2h-2zM101.0 305.0h2v2h-2zM110.0 328.0h2v2h-2zM132.0 301.0h2v2h-2zM102.0 304.0h2v2h-2zM119.0 306.0h2v2h-2zM114.0 263.0h2v2h-2zM112.0 314.0h2v2h-2zM101.0 318.0h2v2h-2zM115.0 306.0h2v2h-2zM97.0 318.0h2v2h-2zM116.0 308.0h2v2h-2zM98.0 286.0h2v2h-2zM90.0 293.0h2v2h-2zM106.0 308.0h2v2h-2zM93.0 317.0h2v2h-2zM89.0 309.0h2v2h-2zM96.0 310.0h2v2h-2zM89.0 309.0h2v2h-2zM102.0 272.0h2v2h-2zM78.0 245.0h2v2h-2zM114.0 279.0h2v2h-2zM89.0 283.0h2v2h-2zM125.0 280.0h2v2h-2zM84.0 326.0h2v2h-2zM91.0 299.0h2v2h-2zM107.0 316.0h2v2h-2zM70.0 305.0h2v2h-2zM93.0 265.0h2v2h-2zM114.0 309.0h2v2h-2zM115.0 317.0h2v2h-2zM91.0 256.0h2v2h-2zM88.0 247.0h2v2h-2zM96.0 300.0h2v2h-2zM116.0 273.0h2v2h-2zM141.0 328.0h2v2h-2zM121.0 292.0h2v2h-2zM111.0 299.0h2v2h-2zM79.0 311.0h2v2h-2zM128.0 289.0h2v2h-2zM127.0 315.0h2v2h-2zM112.0 309.0h2v2h-2zM112.0 298.0h2v2h-2zM122.0 247.0h2v2h-2zM118.0 267.0h2v2h-2zM72.0 306.0h2v2h-2zM119.0 323.0h2v2h-2zM147.0 326.0h2v2h-2zM122.0 325.0h2v2h-2zM133.0 323.0h2v2h-2zM141.0 327.0h2v2h-2zM100.0 327.0h2v2h-2zM145.0 325.0h2v2h-2zM106.0 326.0h2v2h-2zM82.0 324.0h2v2h-2zM125.0 326.0h2v2h-2zM122.0 324.0h2v2h-2zM131.0 322.0h2v2h-2zM139.0 328.0h2v2h-2zM112.0 320.0h2v2h-2zM112.0 322.0h2v2h-2zM113.0 326.0h2v2h-2zM76.0 328.0h2v2h-2zM78.0 324.0h2v2h-2zM100.0 326.0h2v2h-2zM151.0 328.0h2v2h-2zM138.0 327.0h2v2h-2zM138.0 327.0h2v2h-2zM133.0 328.0h2v2h-2zM108.0 325.0h2v2h-2zM91.0 327.0h2v2h-2zM105.0 323.0h2v2h-2zM113.0 323.0h2v2h-2zM137.0 318.0h2v2h-2zM125.0 328.0h2v2h-2zM117.0 327.0h2v2h-2zM90.0 326.0h2v2h-2zM89.0 322.0h2v2h-2zM76.0 327.0h2v2h-2zM104.0 328.0h2v2h-2zM93.0 322.0h2v2h-2zM117.0 328.0h2v2h-2zM117.0 325.0h2v2h-2zM82.0 327.0h2v2h-2zM88.0 328.0h2v2h-2zM137.0 326.0h2v2h-2zM82.0 328.0h2v2h-2zM120.0 328.0h2v2h-2zM113.0 324.0h2v2h-2zM132.0 326.0h2v2h-2zM72.0 324.0h2v2h-2zM90.0 324.0h2v2h-2zM83.0 328.0h2v2h-2zM147.0 323.0h2v2h-2zM79.0 326.0h2v2h-2zM76.0 326.0h2v2h-2zM151.0 324.0h2v2h-2zM108.0 325.0h2v2h-2zM102.0 320.0h2v2h-2zM96.0 328.0h2v2h-2zM83.0 325.0h2v2h-2zM116.0 323.0h2v2h-2zM83.0 320.0h2v2h-2zM147.0 323.0h2v2h-2zM80.0 327.0h2v2h-2zM78.0 326.0h2v2h-2zM132.0 327.0h2v2h-2zM107.0 328.0h2v2h-2zM125.0 327.0h2v2h-2zM134.0 327.0h2v2h-2zM86.0 325.0h2v2h-2zM99.0 323.0h2v2h-2zM116.0 327.0h2v2h-2zM104.0 321.0h2v2h-2zM140.0 322.0h2v2h-2zM116.0 326.0h2v2h-2zM82.0 313.0h2v2h-2zM143.0 327.0h2v2h-2zM102.0 326.0h2v2h-2zM148.0 328.0h2v2h-2zM123.0 328.0h2v2h-2zM124.0 328.0h2v2h-2zM124.0 328.0h2v2h-2zM103.0 321.0h2v2h-2zM96.0 323.0h2v2h-2zM109.0 327.0h2v2h-2zM146.0 328.0h2v2h-2zM117.0 231.0h2v2h-2zM146.0 271.0h2v2h-2zM85.0 276.0h2v2h-2zM92.0 295.0h2v2h-2zM94.0 307.0h2v2h-2zM70.0 251.0h2v2h-2zM68.0 269.0h2v2h-2zM98.0 261.0h2v2h-2zM116.0 278.0h2v2h-2zM132.0 269.0h2v2h-2zM142.0 268.0h2v2h-2zM141.0 239.0h2v2h-2zM126.0 294.0h2v2h-2zM108.0 319.0h2v2h-2zM128.0 261.0h2v2h-2zM136.0 319.0h2v2h-2zM78.0 261.0h2v2h-2zM129.0 320.0h2v2h-2zM70.0 294.0h2v2h-2zM96.0 322.0h2v2h-2zM75.0 306.0h2v2h-2zM68.0 312.0h2v2h-2z" fill="#141414"/>
<defs><linearGradient id="bg5" x1="0" x2="1" y1="0" y2="0"><stop offset="0" stop-color="#6a6a6a"/><stop offset="0.15" stop-color="#999"/><stop offset="0.5" stop-color="#dadada"/><stop offset="0.78" stop-color="#c4c4c4"/><stop offset="1" stop-color="#8a8a8a"/></linearGradient></defs>
<path d="M232.5 333.1 L310.0 331.9 Q316.5 332.2 316.0 335.4 Q315.0 339.9 306.0 339.9 L237.5 342.3 Q227.5 342.3 227.5 337.4 Q227.5 333.5 232.5 333.1 Z" fill="url(#bg5)"/>
<path d="M234.6 332.3h1.4v1.4h-1.4zM292.8 332.8h1.4v1.4h-1.4zM281.2 332.4h1.4v1.4h-1.4zM247.6 331.7h1.4v1.4h-1.4zM247.4 333.3h1.4v1.4h-1.4zM298.0 332.6h1.4v1.4h-1.4zM281.9 332.9h1.4v1.4h-1.4zM298.7 332.0h1.4v1.4h-1.4zM297.1 332.8h1.4v1.4h-1.4zM254.9 332.1h1.4v1.4h-1.4zM246.3 332.6h1.4v1.4h-1.4zM310.5 333.0h1.4v1.4h-1.4zM245.9 331.8h1.4v1.4h-1.4zM255.2 331.9h1.4v1.4h-1.4zM244.0 332.9h1.4v1.4h-1.4zM257.8 332.6h1.4v1.4h-1.4zM257.9 333.4h1.4v1.4h-1.4zM280.2 331.9h1.4v1.4h-1.4zM295.1 332.1h1.4v1.4h-1.4zM269.1 332.1h1.4v1.4h-1.4zM271.9 332.2h1.4v1.4h-1.4zM258.3 331.9h1.4v1.4h-1.4zM309.8 332.0h1.4v1.4h-1.4zM255.3 332.3h1.4v1.4h-1.4zM242.0 332.0h1.4v1.4h-1.4zM265.3 332.7h1.4v1.4h-1.4zM275.7 332.3h1.4v1.4h-1.4zM287.0 332.9h1.4v1.4h-1.4zM253.9 332.0h1.4v1.4h-1.4zM282.8 332.3h1.4v1.4h-1.4zM299.3 331.6h1.4v1.4h-1.4zM276.1 332.2h1.4v1.4h-1.4zM249.6 333.2h1.4v1.4h-1.4zM250.0 333.0h1.4v1.4h-1.4zM301.3 333.3h1.4v1.4h-1.4zM241.9 331.9h1.4v1.4h-1.4zM239.3 332.2h1.4v1.4h-1.4zM305.5 332.8h1.4v1.4h-1.4zM245.0 331.8h1.4v1.4h-1.4zM292.8 332.7h1.4v1.4h-1.4zM232.7 332.7h1.4v1.4h-1.4zM247.8 332.1h1.4v1.4h-1.4zM240.6 333.4h1.4v1.4h-1.4zM269.3 332.7h1.4v1.4h-1.4zM248.9 332.3h1.4v1.4h-1.4zM284.6 332.9h1.4v1.4h-1.4zM305.5 332.0h1.4v1.4h-1.4zM251.8 332.3h1.4v1.4h-1.4zM257.3 333.1h1.4v1.4h-1.4zM262.4 332.3h1.4v1.4h-1.4zM273.0 332.6h1.4v1.4h-1.4zM260.9 331.6h1.4v1.4h-1.4zM291.7 331.8h1.4v1.4h-1.4zM301.3 332.0h1.4v1.4h-1.4zM253.1 332.6h1.4v1.4h-1.4zM305.5 332.3h1.4v1.4h-1.4zM271.2 332.3h1.4v1.4h-1.4zM241.5 332.1h1.4v1.4h-1.4zM306.3 333.3h1.4v1.4h-1.4zM253.0 333.3h1.4v1.4h-1.4zM233.8 332.9h1.4v1.4h-1.4zM234.6 332.4h1.4v1.4h-1.4zM265.7 332.4h1.4v1.4h-1.4zM308.3 332.2h1.4v1.4h-1.4zM234.0 331.8h1.4v1.4h-1.4zM292.8 331.8h1.4v1.4h-1.4zM237.2 332.0h1.4v1.4h-1.4zM311.2 332.4h1.4v1.4h-1.4zM244.4 332.8h1.4v1.4h-1.4zM262.9 332.6h1.4v1.4h-1.4zM312.7 332.9h1.4v1.4h-1.4zM275.6 333.4h1.4v1.4h-1.4zM273.2 332.4h1.4v1.4h-1.4zM301.0 333.3h1.4v1.4h-1.4zM290.4 332.3h1.4v1.4h-1.4zM264.9 331.6h1.4v1.4h-1.4zM251.8 333.0h1.4v1.4h-1.4zM271.9 333.1h1.4v1.4h-1.4zM286.4 332.6h1.4v1.4h-1.4zM297.4 332.5h1.4v1.4h-1.4zM281.9 338.6h1.4v1.4h-1.4zM259.1 339.1h1.4v1.4h-1.4zM238.7 339.6h1.4v1.4h-1.4zM303.2 337.6h1.4v1.4h-1.4zM267.4 339.1h1.4v1.4h-1.4zM262.7 339.3h1.4v1.4h-1.4zM249.6 339.4h1.4v1.4h-1.4zM297.4 338.1h1.4v1.4h-1.4zM295.3 338.4h1.4v1.4h-1.4zM295.8 337.7h1.4v1.4h-1.4zM282.1 338.1h1.4v1.4h-1.4zM286.1 338.3h1.4v1.4h-1.4zM267.8 339.5h1.4v1.4h-1.4zM242.6 339.6h1.4v1.4h-1.4zM246.7 339.6h1.4v1.4h-1.4zM245.1 339.6h1.4v1.4h-1.4zM302.8 337.8h1.4v1.4h-1.4zM236.3 339.9h1.4v1.4h-1.4zM268.0 338.7h1.4v1.4h-1.4zM244.3 340.1h1.4v1.4h-1.4zM300.1 337.7h1.4v1.4h-1.4zM299.4 338.0h1.4v1.4h-1.4zM282.4 338.1h1.4v1.4h-1.4zM281.3 339.0h1.4v1.4h-1.4zM244.7 340.3h1.4v1.4h-1.4zM241.6 340.4h1.4v1.4h-1.4zM261.4 339.2h1.4v1.4h-1.4zM295.9 338.2h1.4v1.4h-1.4zM245.2 339.4h1.4v1.4h-1.4zM300.0 337.5h1.4v1.4h-1.4zM235.2 340.1h1.4v1.4h-1.4zM279.2 338.7h1.4v1.4h-1.4zM247.1 339.3h1.4v1.4h-1.4zM272.4 339.4h1.4v1.4h-1.4zM258.6 339.1h1.4v1.4h-1.4zM228.5 339.0h1.4v1.4h-1.4zM228.5 337.0h1.4v1.4h-1.4zM229.0 335.2h1.4v1.4h-1.4zM231.9 336.4h1.4v1.4h-1.4zM231.3 339.7h1.4v1.4h-1.4zM228.9 334.4h1.4v1.4h-1.4zM230.1 335.8h1.4v1.4h-1.4zM231.9 335.4h1.4v1.4h-1.4zM231.1 334.6h1.4v1.4h-1.4zM228.9 335.6h1.4v1.4h-1.4zM231.8 337.9h1.4v1.4h-1.4zM230.8 334.9h1.4v1.4h-1.4zM229.0 339.7h1.4v1.4h-1.4zM230.6 338.9h1.4v1.4h-1.4zM230.0 335.6h1.4v1.4h-1.4zM232.1 336.0h1.4v1.4h-1.4zM228.4 338.2h1.4v1.4h-1.4zM227.9 338.9h1.4v1.4h-1.4zM231.1 336.7h1.4v1.4h-1.4zM230.1 337.3h1.4v1.4h-1.4zM227.9 334.9h1.4v1.4h-1.4zM229.3 334.4h1.4v1.4h-1.4zM283.4 334.7h1.4v1.4h-1.4zM300.6 335.5h1.4v1.4h-1.4zM282.9 336.7h1.4v1.4h-1.4zM307.1 336.2h1.4v1.4h-1.4zM303.0 334.2h1.4v1.4h-1.4zM308.8 335.8h1.4v1.4h-1.4zM283.1 336.3h1.4v1.4h-1.4zM300.6 335.7h1.4v1.4h-1.4zM294.5 336.7h1.4v1.4h-1.4zM304.6 335.8h1.4v1.4h-1.4zM278.8 334.1h1.4v1.4h-1.4zM314.3 334.9h1.4v1.4h-1.4zM300.8 333.6h1.4v1.4h-1.4zM298.4 335.9h1.4v1.4h-1.4zM305.9 337.7h1.4v1.4h-1.4zM293.9 334.5h1.4v1.4h-1.4zM282.4 334.6h1.4v1.4h-1.4zM293.4 337.7h1.4v1.4h-1.4zM296.1 336.3h1.4v1.4h-1.4zM304.7 333.0h1.4v1.4h-1.4zM285.2 335.6h1.4v1.4h-1.4zM278.4 333.7h1.4v1.4h-1.4zM305.5 336.3h1.4v1.4h-1.4zM281.6 333.5h1.4v1.4h-1.4zM309.0 335.3h1.4v1.4h-1.4zM288.5 336.5h1.4v1.4h-1.4zM302.2 337.9h1.4v1.4h-1.4zM280.2 336.7h1.4v1.4h-1.4zM294.1 334.1h1.4v1.4h-1.4zM295.6 333.0h1.4v1.4h-1.4zM281.0 333.4h1.4v1.4h-1.4zM303.1 336.4h1.4v1.4h-1.4zM285.7 334.4h1.4v1.4h-1.4zM306.3 334.8h1.4v1.4h-1.4zM289.7 337.6h1.4v1.4h-1.4zM297.4 335.6h1.4v1.4h-1.4zM300.0 333.1h1.4v1.4h-1.4zM291.7 336.8h1.4v1.4h-1.4zM301.5 337.4h1.4v1.4h-1.4zM288.3 335.3h1.4v1.4h-1.4zM285.3 333.8h1.4v1.4h-1.4zM279.7 333.9h1.4v1.4h-1.4zM282.6 335.1h1.4v1.4h-1.4zM292.2 336.7h1.4v1.4h-1.4zM306.5 335.6h1.4v1.4h-1.4zM301.7 335.2h1.4v1.4h-1.4zM288.3 335.4h1.4v1.4h-1.4zM300.7 337.7h1.4v1.4h-1.4zM308.0 333.2h1.4v1.4h-1.4zM301.1 333.4h1.4v1.4h-1.4zM256.7 339.2h1.4v1.4h-1.4zM259.8 333.8h1.4v1.4h-1.4zM248.8 334.3h1.4v1.4h-1.4zM258.2 338.2h1.4v1.4h-1.4zM261.3 335.5h1.4v1.4h-1.4zM255.7 334.4h1.4v1.4h-1.4zM269.0 339.8h1.4v1.4h-1.4zM233.1 337.1h1.4v1.4h-1.4zM260.5 334.6h1.4v1.4h-1.4zM233.2 332.9h1.4v1.4h-1.4zM260.1 333.0h1.4v1.4h-1.4zM247.3 338.8h1.4v1.4h-1.4z" fill="#2a2a2a"/>
<path d="M271.0 305.0h2v2h-2zM274.0 295.0h2v2h-2zM234.0 277.0h2v2h-2zM285.0 305.0h2v2h-2zM261.0 245.0h2v2h-2zM260.0 309.0h2v2h-2zM247.0 300.0h2v2h-2zM259.0 324.0h2v2h-2zM292.0 274.0h2v2h-2zM265.0 297.0h2v2h-2zM274.0 290.0h2v2h-2zM262.0 250.0h2v2h-2zM263.0 304.0h2v2h-2zM243.0 237.0h2v2h-2zM267.0 280.0h2v2h-2zM245.0 324.0h2v2h-2zM257.0 299.0h2v2h-2zM261.0 323.0h2v2h-2zM274.0 290.0h2v2h-2zM267.0 299.0h2v2h-2zM238.0 294.0h2v2h-2zM279.0 314.0h2v2h-2zM265.0 306.0h2v2h-2zM282.0 318.0h2v2h-2zM237.0 287.0h2v2h-2zM266.0 299.0h2v2h-2zM267.0 312.0h2v2h-2zM267.0 234.0h2v2h-2zM273.0 284.0h2v2h-2zM266.0 278.0h2v2h-2zM248.0 263.0h2v2h-2zM267.0 276.0h2v2h-2zM269.0 301.0h2v2h-2zM271.0 298.0h2v2h-2zM293.0 267.0h2v2h-2zM265.0 317.0h2v2h-2zM284.0 322.0h2v2h-2zM271.0 326.0h2v2h-2zM274.0 299.0h2v2h-2zM257.0 261.0h2v2h-2zM264.0 261.0h2v2h-2zM279.0 244.0h2v2h-2zM249.0 322.0h2v2h-2zM290.0 303.0h2v2h-2zM262.0 274.0h2v2h-2zM245.0 283.0h2v2h-2zM285.0 263.0h2v2h-2zM253.0 282.0h2v2h-2zM247.0 316.0h2v2h-2zM277.0 319.0h2v2h-2zM262.0 280.0h2v2h-2zM294.0 316.0h2v2h-2zM287.0 299.0h2v2h-2zM284.0 311.0h2v2h-2zM286.0 298.0h2v2h-2zM275.0 314.0h2v2h-2zM246.0 248.0h2v2h-2zM268.0 306.0h2v2h-2zM265.0 308.0h2v2h-2zM274.0 324.0h2v2h-2zM277.0 232.0h2v2h-2zM268.0 271.0h2v2h-2zM259.0 306.0h2v2h-2zM261.0 276.0h2v2h-2zM283.0 306.0h2v2h-2zM269.0 296.0h2v2h-2zM271.0 256.0h2v2h-2zM279.0 254.0h2v2h-2zM250.0 268.0h2v2h-2zM269.0 260.0h2v2h-2zM274.0 305.0h2v2h-2zM252.0 291.0h2v2h-2zM287.0 301.0h2v2h-2zM255.0 237.0h2v2h-2zM278.0 294.0h2v2h-2zM285.0 298.0h2v2h-2zM254.0 306.0h2v2h-2zM271.0 317.0h2v2h-2zM256.0 240.0h2v2h-2zM266.0 257.0h2v2h-2zM269.0 240.0h2v2h-2zM270.0 325.0h2v2h-2zM280.0 312.0h2v2h-2zM256.0 261.0h2v2h-2zM248.0 320.0h2v2h-2zM291.0 327.0h2v2h-2zM252.0 304.0h2v2h-2zM249.0 253.0h2v2h-2zM262.0 309.0h2v2h-2zM262.0 300.0h2v2h-2zM266.0 266.0h2v2h-2zM265.0 240.0h2v2h-2zM266.0 287.0h2v2h-2zM267.0 272.0h2v2h-2zM251.0 243.0h2v2h-2zM258.0 322.0h2v2h-2zM271.0 247.0h2v2h-2zM271.0 304.0h2v2h-2zM253.0 270.0h2v2h-2zM273.0 263.0h2v2h-2zM260.0 258.0h2v2h-2zM257.0 303.0h2v2h-2zM258.0 253.0h2v2h-2zM251.0 279.0h2v2h-2zM277.0 278.0h2v2h-2zM238.0 322.0h2v2h-2zM246.0 246.0h2v2h-2zM241.0 270.0h2v2h-2zM277.0 304.0h2v2h-2zM244.0 311.0h2v2h-2zM237.0 325.0h2v2h-2zM283.0 312.0h2v2h-2zM269.0 325.0h2v2h-2zM258.0 296.0h2v2h-2zM242.0 284.0h2v2h-2zM262.0 274.0h2v2h-2zM275.0 311.0h2v2h-2zM284.0 322.0h2v2h-2zM255.0 290.0h2v2h-2zM276.0 260.0h2v2h-2zM275.0 305.0h2v2h-2zM281.0 326.0h2v2h-2zM260.0 294.0h2v2h-2zM282.0 290.0h2v2h-2zM286.0 273.0h2v2h-2zM291.0 305.0h2v2h-2zM270.0 273.0h2v2h-2zM274.0 321.0h2v2h-2zM249.0 308.0h2v2h-2zM243.0 301.0h2v2h-2zM254.0 253.0h2v2h-2zM286.0 275.0h2v2h-2zM283.0 313.0h2v2h-2zM260.0 257.0h2v2h-2zM256.0 272.0h2v2h-2zM241.0 318.0h2v2h-2zM271.0 308.0h2v2h-2zM254.0 289.0h2v2h-2zM238.0 303.0h2v2h-2zM272.0 294.0h2v2h-2zM245.0 275.0h2v2h-2zM260.0 314.0h2v2h-2zM246.0 288.0h2v2h-2zM256.0 266.0h2v2h-2zM277.0 252.0h2v2h-2zM272.0 282.0h2v2h-2zM271.0 311.0h2v2h-2zM272.0 263.0h2v2h-2zM255.0 281.0h2v2h-2zM256.0 300.0h2v2h-2zM264.0 311.0h2v2h-2zM259.0 320.0h2v2h-2zM292.0 326.0h2v2h-2zM279.0 322.0h2v2h-2zM266.0 327.0h2v2h-2zM249.0 295.0h2v2h-2zM273.0 325.0h2v2h-2zM249.0 280.0h2v2h-2zM237.0 316.0h2v2h-2zM258.0 323.0h2v2h-2zM273.0 249.0h2v2h-2zM264.0 249.0h2v2h-2zM253.0 261.0h2v2h-2zM288.0 306.0h2v2h-2zM265.0 300.0h2v2h-2zM248.0 305.0h2v2h-2zM285.0 319.0h2v2h-2zM269.0 297.0h2v2h-2zM271.0 278.0h2v2h-2zM296.0 320.0h2v2h-2zM280.0 247.0h2v2h-2zM263.0 302.0h2v2h-2zM267.0 271.0h2v2h-2zM249.0 295.0h2v2h-2zM286.0 263.0h2v2h-2zM253.0 311.0h2v2h-2zM257.0 310.0h2v2h-2zM255.0 273.0h2v2h-2zM272.0 267.0h2v2h-2zM283.0 267.0h2v2h-2zM237.0 283.0h2v2h-2zM260.0 300.0h2v2h-2zM263.0 284.0h2v2h-2zM253.0 288.0h2v2h-2zM284.0 313.0h2v2h-2zM280.0 285.0h2v2h-2zM273.0 258.0h2v2h-2zM255.0 253.0h2v2h-2zM237.0 258.0h2v2h-2zM289.0 283.0h2v2h-2zM280.0 281.0h2v2h-2zM256.0 298.0h2v2h-2zM304.0 313.0h2v2h-2zM265.0 245.0h2v2h-2zM265.0 259.0h2v2h-2zM266.0 323.0h2v2h-2zM266.0 278.0h2v2h-2zM290.0 260.0h2v2h-2zM261.0 262.0h2v2h-2zM271.0 276.0h2v2h-2zM233.0 307.0h2v2h-2zM249.0 300.0h2v2h-2zM264.0 269.0h2v2h-2zM280.0 321.0h2v2h-2zM255.0 320.0h2v2h-2zM265.0 301.0h2v2h-2zM282.0 288.0h2v2h-2zM268.0 313.0h2v2h-2zM257.0 309.0h2v2h-2zM247.0 280.0h2v2h-2zM243.0 299.0h2v2h-2zM252.0 256.0h2v2h-2zM273.0 270.0h2v2h-2zM267.0 315.0h2v2h-2zM254.0 320.0h2v2h-2zM291.0 277.0h2v2h-2zM239.0 327.0h2v2h-2zM250.0 322.0h2v2h-2zM278.0 319.0h2v2h-2zM250.0 282.0h2v2h-2zM255.0 314.0h2v2h-2zM255.0 307.0h2v2h-2zM305.0 267.0h2v2h-2zM279.0 268.0h2v2h-2zM252.0 238.0h2v2h-2zM258.0 280.0h2v2h-2zM274.0 322.0h2v2h-2zM277.0 328.0h2v2h-2zM267.0 295.0h2v2h-2zM278.0 307.0h2v2h-2zM298.0 297.0h2v2h-2zM295.0 243.0h2v2h-2zM287.0 300.0h2v2h-2zM303.0 322.0h2v2h-2zM252.0 305.0h2v2h-2zM276.0 292.0h2v2h-2zM270.0 276.0h2v2h-2zM261.0 324.0h2v2h-2zM267.0 279.0h2v2h-2zM291.0 249.0h2v2h-2zM269.0 255.0h2v2h-2zM286.0 281.0h2v2h-2zM259.0 300.0h2v2h-2zM257.0 326.0h2v2h-2zM255.0 271.0h2v2h-2zM269.0 288.0h2v2h-2zM270.0 270.0h2v2h-2zM272.0 261.0h2v2h-2zM279.0 282.0h2v2h-2zM251.0 316.0h2v2h-2zM276.0 302.0h2v2h-2zM267.0 254.0h2v2h-2zM285.0 327.0h2v2h-2zM241.0 321.0h2v2h-2zM266.0 318.0h2v2h-2zM255.0 266.0h2v2h-2zM242.0 297.0h2v2h-2zM250.0 276.0h2v2h-2zM290.0 287.0h2v2h-2zM252.0 287.0h2v2h-2zM261.0 307.0h2v2h-2zM262.0 316.0h2v2h-2zM257.0 298.0h2v2h-2zM270.0 295.0h2v2h-2zM283.0 307.0h2v2h-2zM259.0 319.0h2v2h-2zM283.0 241.0h2v2h-2zM247.0 285.0h2v2h-2zM261.0 296.0h2v2h-2zM280.0 302.0h2v2h-2zM246.0 280.0h2v2h-2zM255.0 324.0h2v2h-2zM263.0 328.0h2v2h-2zM275.0 313.0h2v2h-2zM269.0 324.0h2v2h-2zM273.0 288.0h2v2h-2zM283.0 263.0h2v2h-2zM280.0 322.0h2v2h-2zM296.0 243.0h2v2h-2zM268.0 239.0h2v2h-2zM261.0 294.0h2v2h-2zM240.0 322.0h2v2h-2zM273.0 314.0h2v2h-2zM280.0 288.0h2v2h-2zM246.0 309.0h2v2h-2zM252.0 282.0h2v2h-2zM274.0 256.0h2v2h-2zM271.0 301.0h2v2h-2zM275.0 297.0h2v2h-2zM240.0 301.0h2v2h-2zM263.0 277.0h2v2h-2zM283.0 315.0h2v2h-2zM257.0 296.0h2v2h-2zM271.0 239.0h2v2h-2zM260.0 318.0h2v2h-2zM271.0 235.0h2v2h-2zM275.0 269.0h2v2h-2zM297.0 279.0h2v2h-2zM277.0 281.0h2v2h-2zM265.0 294.0h2v2h-2zM272.0 302.0h2v2h-2zM271.0 304.0h2v2h-2zM256.0 303.0h2v2h-2zM249.0 305.0h2v2h-2zM260.0 279.0h2v2h-2zM273.0 314.0h2v2h-2zM257.0 252.0h2v2h-2zM288.0 316.0h2v2h-2zM251.0 308.0h2v2h-2zM255.0 282.0h2v2h-2zM266.0 299.0h2v2h-2zM257.0 325.0h2v2h-2zM286.0 296.0h2v2h-2zM282.0 327.0h2v2h-2zM275.0 267.0h2v2h-2zM275.0 259.0h2v2h-2zM242.0 296.0h2v2h-2zM289.0 308.0h2v2h-2zM285.0 291.0h2v2h-2zM248.0 303.0h2v2h-2zM282.0 325.0h2v2h-2zM275.0 248.0h2v2h-2zM277.0 245.0h2v2h-2zM266.0 293.0h2v2h-2zM283.0 313.0h2v2h-2zM284.0 313.0h2v2h-2zM257.0 300.0h2v2h-2zM240.0 290.0h2v2h-2zM262.0 325.0h2v2h-2zM294.0 281.0h2v2h-2zM237.0 317.0h2v2h-2zM270.0 324.0h2v2h-2zM243.0 323.0h2v2h-2zM248.0 265.0h2v2h-2zM254.0 321.0h2v2h-2zM247.0 292.0h2v2h-2zM259.0 305.0h2v2h-2zM254.0 304.0h2v2h-2zM284.0 275.0h2v2h-2zM276.0 296.0h2v2h-2zM249.0 269.0h2v2h-2zM250.0 316.0h2v2h-2zM283.0 311.0h2v2h-2zM254.0 311.0h2v2h-2zM263.0 321.0h2v2h-2zM265.0 271.0h2v2h-2zM276.0 319.0h2v2h-2zM274.0 305.0h2v2h-2zM248.0 272.0h2v2h-2zM237.0 298.0h2v2h-2zM248.0 311.0h2v2h-2zM269.0 327.0h2v2h-2zM259.0 306.0h2v2h-2zM254.0 289.0h2v2h-2zM266.0 250.0h2v2h-2zM274.0 285.0h2v2h-2zM271.0 311.0h2v2h-2zM278.0 268.0h2v2h-2zM271.0 293.0h2v2h-2zM259.0 253.0h2v2h-2zM273.0 252.0h2v2h-2zM288.0 313.0h2v2h-2zM287.0 326.0h2v2h-2zM266.0 265.0h2v2h-2zM274.0 264.0h2v2h-2zM260.0 290.0h2v2h-2zM263.0 276.0h2v2h-2zM266.0 284.0h2v2h-2zM275.0 288.0h2v2h-2zM268.0 299.0h2v2h-2zM259.0 301.0h2v2h-2zM251.0 298.0h2v2h-2zM251.0 300.0h2v2h-2zM246.0 309.0h2v2h-2zM267.0 229.0h2v2h-2zM237.0 321.0h2v2h-2zM239.0 299.0h2v2h-2zM257.0 315.0h2v2h-2zM271.0 304.0h2v2h-2zM264.0 291.0h2v2h-2zM257.0 267.0h2v2h-2zM263.0 327.0h2v2h-2zM272.0 314.0h2v2h-2zM278.0 250.0h2v2h-2zM264.0 282.0h2v2h-2zM249.0 302.0h2v2h-2zM274.0 244.0h2v2h-2zM261.0 302.0h2v2h-2zM275.0 278.0h2v2h-2zM265.0 271.0h2v2h-2zM290.0 296.0h2v2h-2zM265.0 311.0h2v2h-2zM256.0 316.0h2v2h-2zM277.0 298.0h2v2h-2zM244.0 324.0h2v2h-2zM272.0 279.0h2v2h-2zM270.0 311.0h2v2h-2zM251.0 269.0h2v2h-2zM271.0 250.0h2v2h-2zM262.0 263.0h2v2h-2zM258.0 297.0h2v2h-2zM259.0 295.0h2v2h-2zM272.0 283.0h2v2h-2zM235.0 314.0h2v2h-2zM269.0 319.0h2v2h-2zM277.0 294.0h2v2h-2zM250.0 319.0h2v2h-2zM270.0 325.0h2v2h-2zM259.0 308.0h2v2h-2zM271.0 247.0h2v2h-2zM273.0 277.0h2v2h-2zM257.0 324.0h2v2h-2zM269.0 322.0h2v2h-2zM263.0 265.0h2v2h-2zM278.0 307.0h2v2h-2zM244.0 289.0h2v2h-2zM279.0 280.0h2v2h-2zM258.0 328.0h2v2h-2zM256.0 266.0h2v2h-2zM279.0 324.0h2v2h-2zM278.0 289.0h2v2h-2zM252.0 285.0h2v2h-2zM253.0 307.0h2v2h-2zM252.0 323.0h2v2h-2zM285.0 317.0h2v2h-2zM252.0 305.0h2v2h-2zM272.0 288.0h2v2h-2zM263.0 326.0h2v2h-2zM263.0 302.0h2v2h-2zM266.0 322.0h2v2h-2zM249.0 256.0h2v2h-2zM259.0 313.0h2v2h-2zM262.0 299.0h2v2h-2zM258.0 327.0h2v2h-2zM257.0 311.0h2v2h-2zM256.0 268.0h2v2h-2zM269.0 270.0h2v2h-2zM299.0 325.0h2v2h-2zM256.0 249.0h2v2h-2zM277.0 311.0h2v2h-2zM251.0 292.0h2v2h-2zM248.0 290.0h2v2h-2zM265.0 301.0h2v2h-2zM237.0 311.0h2v2h-2zM260.0 312.0h2v2h-2zM270.0 321.0h2v2h-2zM265.0 285.0h2v2h-2zM267.0 260.0h2v2h-2zM252.0 311.0h2v2h-2zM289.0 327.0h2v2h-2zM293.0 302.0h2v2h-2zM286.0 263.0h2v2h-2zM260.0 270.0h2v2h-2zM268.0 326.0h2v2h-2zM270.0 304.0h2v2h-2zM266.0 293.0h2v2h-2zM245.0 291.0h2v2h-2zM276.0 267.0h2v2h-2zM278.0 319.0h2v2h-2zM261.0 278.0h2v2h-2zM291.0 326.0h2v2h-2zM239.0 324.0h2v2h-2zM248.0 327.0h2v2h-2zM267.0 321.0h2v2h-2zM286.0 257.0h2v2h-2zM277.0 303.0h2v2h-2zM259.0 314.0h2v2h-2zM277.0 293.0h2v2h-2zM280.0 268.0h2v2h-2zM291.0 283.0h2v2h-2zM264.0 279.0h2v2h-2zM244.0 277.0h2v2h-2zM259.0 258.0h2v2h-2zM254.0 300.0h2v2h-2zM253.0 300.0h2v2h-2zM254.0 264.0h2v2h-2zM282.0 290.0h2v2h-2zM248.0 305.0h2v2h-2zM274.0 279.0h2v2h-2zM288.0 298.0h2v2h-2zM260.0 273.0h2v2h-2zM246.0 307.0h2v2h-2zM271.0 305.0h2v2h-2zM280.0 245.0h2v2h-2zM288.0 322.0h2v2h-2zM252.0 315.0h2v2h-2zM254.0 298.0h2v2h-2zM243.0 323.0h2v2h-2zM268.0 261.0h2v2h-2zM260.0 307.0h2v2h-2zM233.0 328.0h2v2h-2zM269.0 272.0h2v2h-2zM289.0 274.0h2v2h-2zM255.0 317.0h2v2h-2zM279.0 280.0h2v2h-2zM258.0 313.0h2v2h-2zM274.0 310.0h2v2h-2zM278.0 270.0h2v2h-2zM259.0 260.0h2v2h-2zM260.0 280.0h2v2h-2zM295.0 293.0h2v2h-2zM287.0 304.0h2v2h-2zM288.0 280.0h2v2h-2zM260.0 271.0h2v2h-2zM273.0 248.0h2v2h-2zM267.0 284.0h2v2h-2zM242.0 286.0h2v2h-2zM261.0 240.0h2v2h-2zM264.0 308.0h2v2h-2zM265.0 292.0h2v2h-2zM250.0 320.0h2v2h-2zM282.0 296.0h2v2h-2zM278.0 300.0h2v2h-2zM264.0 287.0h2v2h-2zM263.0 263.0h2v2h-2zM257.0 261.0h2v2h-2zM252.0 284.0h2v2h-2zM284.0 283.0h2v2h-2zM280.0 312.0h2v2h-2zM287.0 299.0h2v2h-2zM263.0 328.0h2v2h-2zM246.0 327.0h2v2h-2zM260.0 319.0h2v2h-2zM245.0 324.0h2v2h-2zM273.0 327.0h2v2h-2zM255.0 327.0h2v2h-2zM264.0 328.0h2v2h-2zM253.0 322.0h2v2h-2zM269.0 324.0h2v2h-2zM291.0 328.0h2v2h-2zM310.0 327.0h2v2h-2zM250.0 328.0h2v2h-2zM256.0 328.0h2v2h-2zM285.0 328.0h2v2h-2zM237.0 325.0h2v2h-2zM293.0 324.0h2v2h-2zM311.0 326.0h2v2h-2zM249.0 326.0h2v2h-2zM311.0 328.0h2v2h-2zM275.0 328.0h2v2h-2zM307.0 328.0h2v2h-2zM300.0 328.0h2v2h-2zM286.0 325.0h2v2h-2zM296.0 328.0h2v2h-2zM274.0 327.0h2v2h-2zM245.0 327.0h2v2h-2zM247.0 326.0h2v2h-2zM280.0 327.0h2v2h-2zM274.0 328.0h2v2h-2zM252.0 327.0h2v2h-2zM291.0 324.0h2v2h-2zM314.0 321.0h2v2h-2zM302.0 327.0h2v2h-2zM296.0 326.0h2v2h-2zM304.0 327.0h2v2h-2zM314.0 328.0h2v2h-2zM299.0 324.0h2v2h-2zM300.0 328.0h2v2h-2zM302.0 324.0h2v2h-2zM286.0 323.0h2v2h-2zM244.0 322.0h2v2h-2zM277.0 327.0h2v2h-2zM288.0 326.0h2v2h-2zM277.0 312.0h2v2h-2zM308.0 328.0h2v2h-2zM281.0 324.0h2v2h-2zM267.0 328.0h2v2h-2zM298.0 325.0h2v2h-2zM266.0 327.0h2v2h-2zM302.0 325.0h2v2h-2zM302.0 324.0h2v2h-2zM256.0 326.0h2v2h-2zM272.0 325.0h2v2h-2zM268.0 324.0h2v2h-2zM315.0 327.0h2v2h-2zM264.0 326.0h2v2h-2zM285.0 327.0h2v2h-2zM287.0 326.0h2v2h-2zM295.0 327.0h2v2h-2zM287.0 327.0h2v2h-2zM305.0 322.0h2v2h-2zM300.0 319.0h2v2h-2zM252.0 328.0h2v2h-2zM296.0 328.0h2v2h-2zM311.0 328.0h2v2h-2zM269.0 318.0h2v2h-2zM246.0 328.0h2v2h-2zM309.0 328.0h2v2h-2zM310.0 328.0h2v2h-2zM267.0 324.0h2v2h-2zM299.0 325.0h2v2h-2zM313.0 328.0h2v2h-2zM288.0 321.0h2v2h-2zM306.0 328.0h2v2h-2zM261.0 327.0h2v2h-2zM241.0 328.0h2v2h-2zM303.0 320.0h2v2h-2zM247.0 326.0h2v2h-2zM314.0 328.0h2v2h-2zM291.0 328.0h2v2h-2zM309.0 263.0h2v2h-2zM308.0 322.0h2v2h-2zM284.0 283.0h2v2h-2zM242.0 284.0h2v2h-2zM295.0 266.0h2v2h-2zM283.0 298.0h2v2h-2zM276.0 280.0h2v2h-2zM309.0 234.0h2v2h-2zM270.0 274.0h2v2h-2zM258.0 267.0h2v2h-2zM244.0 225.0h2v2h-2zM268.0 326.0h2v2h-2zM258.0 227.0h2v2h-2zM259.0 286.0h2v2h-2zM315.0 244.0h2v2h-2zM263.0 310.0h2v2h-2zM266.0 288.0h2v2h-2zM308.0 270.0h2v2h-2zM311.0 223.0h2v2h-2zM306.0 284.0h2v2h-2zM266.0 269.0h2v2h-2zM290.0 237.0h2v2h-2zM302.0 294.0h2v2h-2zM295.0 287.0h2v2h-2zM298.0 326.0h2v2h-2zM304.0 253.0h2v2h-2z" fill="#141414"/>
<defs><linearGradient id="bg6" x1="0" x2="1" y1="0" y2="0"><stop offset="0" stop-color="#6a6a6a"/><stop offset="0.15" stop-color="#999"/><stop offset="0.5" stop-color="#dadada"/><stop offset="0.78" stop-color="#c4c4c4"/><stop offset="1" stop-color="#8a8a8a"/></linearGradient></defs>
<path d="M397.5 333.1 L472.5 331.9 Q479.0 332.2 478.5 335.4 Q477.5 339.9 468.5 339.9 L402.5 342.3 Q392.5 342.3 392.5 337.4 Q392.5 333.5 397.5 333.1 Z" fill="url(#bg6)"/>
<path d="M408.9 332.1h1.4v1.4h-1.4zM421.8 332.5h1.4v1.4h-1.4zM468.1 333.3h1.4v1.4h-1.4zM444.5 331.8h1.4v1.4h-1.4zM473.8 333.3h1.4v1.4h-1.4zM404.4 332.8h1.4v1.4h-1.4zM449.5 332.8h1.4v1.4h-1.4zM454.1 331.6h1.4v1.4h-1.4zM421.6 332.2h1.4v1.4h-1.4zM448.1 331.8h1.4v1.4h-1.4zM419.1 331.9h1.4v1.4h-1.4zM401.2 332.5h1.4v1.4h-1.4zM413.4 332.5h1.4v1.4h-1.4zM413.6 333.0h1.4v1.4h-1.4zM406.2 333.0h1.4v1.4h-1.4zM448.8 331.9h1.4v1.4h-1.4zM427.0 332.3h1.4v1.4h-1.4zM433.0 332.8h1.4v1.4h-1.4zM398.7 331.9h1.4v1.4h-1.4zM452.0 331.8h1.4v1.4h-1.4zM463.3 332.3h1.4v1.4h-1.4zM400.3 333.0h1.4v1.4h-1.4zM416.6 333.4h1.4v1.4h-1.4zM469.5 333.2h1.4v1.4h-1.4zM466.4 331.7h1.4v1.4h-1.4zM399.6 332.3h1.4v1.4h-1.4zM430.3 332.3h1.4v1.4h-1.4zM444.0 333.0h1.4v1.4h-1.4zM459.0 333.3h1.4v1.4h-1.4zM450.3 333.2h1.4v1.4h-1.4zM404.6 331.6h1.4v1.4h-1.4zM432.7 333.2h1.4v1.4h-1.4zM427.6 331.8h1.4v1.4h-1.4zM407.3 332.0h1.4v1.4h-1.4zM464.9 332.2h1.4v1.4h-1.4zM464.5 333.3h1.4v1.4h-1.4zM457.9 333.3h1.4v1.4h-1.4zM417.4 332.0h1.4v1.4h-1.4zM416.4 331.6h1.4v1.4h-1.4zM470.1 332.0h1.4v1.4h-1.4zM446.6 332.1h1.4v1.4h-1.4zM439.6 332.4h1.4v1.4h-1.4zM453.7 332.0h1.4v1.4h-1.4zM420.0 331.8h1.4v1.4h-1.4zM422.8 333.1h1.4v1.4h-1.4zM472.7 331.6h1.4v1.4h-1.4zM463.4 332.9h1.4v1.4h-1.4zM403.7 331.9h1.4v1.4h-1.4zM465.0 331.9h1.4v1.4h-1.4zM468.3 332.6h1.4v1.4h-1.4zM474.3 332.5h1.4v1.4h-1.4zM407.7 332.7h1.4v1.4h-1.4zM432.2 331.7h1.4v1.4h-1.4zM461.3 333.2h1.4v1.4h-1.4zM472.7 332.8h1.4v1.4h-1.4zM443.0 332.0h1.4v1.4h-1.4zM472.7 332.9h1.4v1.4h-1.4zM449.6 332.9h1.4v1.4h-1.4zM463.1 332.2h1.4v1.4h-1.4zM406.2 333.4h1.4v1.4h-1.4zM400.0 332.1h1.4v1.4h-1.4zM435.9 331.7h1.4v1.4h-1.4zM421.7 333.2h1.4v1.4h-1.4zM446.3 332.7h1.4v1.4h-1.4zM398.9 332.4h1.4v1.4h-1.4zM407.0 332.3h1.4v1.4h-1.4zM427.8 332.4h1.4v1.4h-1.4zM422.1 333.0h1.4v1.4h-1.4zM433.6 333.2h1.4v1.4h-1.4zM424.3 331.9h1.4v1.4h-1.4zM425.2 333.2h1.4v1.4h-1.4zM425.5 333.1h1.4v1.4h-1.4zM451.6 332.1h1.4v1.4h-1.4zM412.4 331.8h1.4v1.4h-1.4zM432.5 332.9h1.4v1.4h-1.4zM420.4 333.3h1.4v1.4h-1.4zM398.6 333.0h1.4v1.4h-1.4zM410.8 333.4h1.4v1.4h-1.4zM405.2 333.3h1.4v1.4h-1.4zM428.8 332.1h1.4v1.4h-1.4zM401.4 340.4h1.4v1.4h-1.4zM425.3 338.8h1.4v1.4h-1.4zM466.2 338.3h1.4v1.4h-1.4zM437.8 339.3h1.4v1.4h-1.4zM405.8 339.8h1.4v1.4h-1.4zM435.4 338.5h1.4v1.4h-1.4zM461.8 338.4h1.4v1.4h-1.4zM442.9 338.4h1.4v1.4h-1.4zM452.6 338.3h1.4v1.4h-1.4zM434.4 338.9h1.4v1.4h-1.4zM427.4 339.1h1.4v1.4h-1.4zM460.9 338.2h1.4v1.4h-1.4zM429.3 339.2h1.4v1.4h-1.4zM459.2 338.4h1.4v1.4h-1.4zM429.3 338.9h1.4v1.4h-1.4zM426.0 338.9h1.4v1.4h-1.4zM436.1 339.3h1.4v1.4h-1.4zM424.2 339.7h1.4v1.4h-1.4zM429.3 339.3h1.4v1.4h-1.4zM422.3 339.1h1.4v1.4h-1.4zM461.3 337.8h1.4v1.4h-1.4zM452.1 338.0h1.4v1.4h-1.4zM462.7 338.3h1.4v1.4h-1.4zM461.3 338.4h1.4v1.4h-1.4zM417.5 339.3h1.4v1.4h-1.4zM408.5 339.4h1.4v1.4h-1.4zM463.7 338.5h1.4v1.4h-1.4zM443.0 338.2h1.4v1.4h-1.4zM436.3 338.9h1.4v1.4h-1.4zM439.6 338.7h1.4v1.4h-1.4zM439.2 338.6h1.4v1.4h-1.4zM465.4 338.3h1.4v1.4h-1.4zM414.9 340.1h1.4v1.4h-1.4zM403.2 340.3h1.4v1.4h-1.4zM461.6 338.2h1.4v1.4h-1.4zM395.5 336.2h1.4v1.4h-1.4zM397.4 335.5h1.4v1.4h-1.4zM394.5 336.6h1.4v1.4h-1.4zM393.6 334.8h1.4v1.4h-1.4zM394.5 335.6h1.4v1.4h-1.4zM392.6 339.6h1.4v1.4h-1.4zM394.2 334.5h1.4v1.4h-1.4zM395.6 337.2h1.4v1.4h-1.4zM395.9 336.5h1.4v1.4h-1.4zM393.2 338.2h1.4v1.4h-1.4zM394.5 339.6h1.4v1.4h-1.4zM394.1 335.7h1.4v1.4h-1.4zM393.4 335.9h1.4v1.4h-1.4zM393.7 337.5h1.4v1.4h-1.4zM394.4 340.1h1.4v1.4h-1.4zM393.5 339.9h1.4v1.4h-1.4zM394.2 337.3h1.4v1.4h-1.4zM397.3 339.0h1.4v1.4h-1.4zM397.2 337.6h1.4v1.4h-1.4zM394.1 338.4h1.4v1.4h-1.4zM395.9 334.6h1.4v1.4h-1.4zM393.0 340.0h1.4v1.4h-1.4zM467.1 337.0h1.4v1.4h-1.4zM446.9 337.8h1.4v1.4h-1.4zM451.2 333.6h1.4v1.4h-1.4zM453.4 334.7h1.4v1.4h-1.4zM442.0 337.1h1.4v1.4h-1.4zM472.7 333.9h1.4v1.4h-1.4zM460.6 337.3h1.4v1.4h-1.4zM454.1 335.4h1.4v1.4h-1.4zM449.0 335.2h1.4v1.4h-1.4zM451.6 337.0h1.4v1.4h-1.4zM445.8 333.1h1.4v1.4h-1.4zM473.9 333.8h1.4v1.4h-1.4zM460.6 336.4h1.4v1.4h-1.4zM452.2 337.5h1.4v1.4h-1.4zM452.6 333.9h1.4v1.4h-1.4zM442.3 337.4h1.4v1.4h-1.4zM448.0 337.4h1.4v1.4h-1.4zM457.1 337.6h1.4v1.4h-1.4zM443.1 337.2h1.4v1.4h-1.4zM476.9 336.5h1.4v1.4h-1.4zM444.9 337.9h1.4v1.4h-1.4zM470.1 334.0h1.4v1.4h-1.4zM476.5 333.3h1.4v1.4h-1.4zM444.7 333.0h1.4v1.4h-1.4zM462.2 334.9h1.4v1.4h-1.4zM443.0 335.4h1.4v1.4h-1.4zM473.1 333.4h1.4v1.4h-1.4zM464.0 333.7h1.4v1.4h-1.4zM459.1 334.6h1.4v1.4h-1.4zM450.2 333.0h1.4v1.4h-1.4zM461.7 335.1h1.4v1.4h-1.4zM466.0 333.8h1.4v1.4h-1.4zM477.0 333.0h1.4v1.4h-1.4zM447.2 336.1h1.4v1.4h-1.4zM444.9 334.2h1.4v1.4h-1.4zM458.8 336.7h1.4v1.4h-1.4zM472.5 334.5h1.4v1.4h-1.4zM464.7 333.0h1.4v1.4h-1.4zM473.5 336.3h1.4v1.4h-1.4zM473.9 334.0h1.4v1.4h-1.4zM458.6 336.6h1.4v1.4h-1.4zM440.8 337.1h1.4v1.4h-1.4zM466.6 336.8h1.4v1.4h-1.4zM445.9 336.8h1.4v1.4h-1.4zM461.3 333.6h1.4v1.4h-1.4zM444.8 337.2h1.4v1.4h-1.4zM454.9 334.3h1.4v1.4h-1.4zM453.7 336.3h1.4v1.4h-1.4zM445.0 333.7h1.4v1.4h-1.4zM464.4 337.4h1.4v1.4h-1.4zM422.8 339.9h1.4v1.4h-1.4zM407.8 335.5h1.4v1.4h-1.4zM411.2 335.6h1.4v1.4h-1.4zM407.2 338.8h1.4v1.4h-1.4zM407.8 336.0h1.4v1.4h-1.4zM415.1 340.3h1.4v1.4h-1.4zM409.5 338.0h1.4v1.4h-1.4zM409.5 338.8h1.4v1.4h-1.4zM411.8 333.1h1.4v1.4h-1.4zM417.0 335.4h1.4v1.4h-1.4zM407.0 335.1h1.4v1.4h-1.4zM396.9 338.3h1.4v1.4h-1.4z" fill="#2a2a2a"/>
<path d="M425.0 313.0h2v2h-2zM428.0 301.0h2v2h-2zM424.0 304.0h2v2h-2zM415.0 311.0h2v2h-2zM416.0 324.0h2v2h-2zM434.0 235.0h2v2h-2zM431.0 307.0h2v2h-2zM418.0 299.0h2v2h-2zM446.0 287.0h2v2h-2zM426.0 292.0h2v2h-2zM435.0 319.0h2v2h-2zM431.0 310.0h2v2h-2zM444.0 303.0h2v2h-2zM431.0 294.0h2v2h-2zM441.0 295.0h2v2h-2zM448.0 286.0h2v2h-2zM431.0 244.0h2v2h-2zM446.0 323.0h2v2h-2zM424.0 285.0h2v2h-2zM422.0 269.0h2v2h-2zM421.0 253.0h2v2h-2zM420.0 298.0h2v2h-2zM428.0 290.0h2v2h-2zM435.0 244.0h2v2h-2zM422.0 305.0h2v2h-2zM420.0 295.0h2v2h-2zM415.0 320.0h2v2h-2zM424.0 231.0h2v2h-2zM421.0 279.0h2v2h-2zM445.0 295.0h2v2h-2zM422.0 244.0h2v2h-2zM413.0 285.0h2v2h-2zM426.0 317.0h2v2h-2zM424.0 318.0h2v2h-2zM426.0 313.0h2v2h-2zM416.0 309.0h2v2h-2zM420.0 276.0h2v2h-2zM422.0 303.0h2v2h-2zM407.0 319.0h2v2h-2zM424.0 256.0h2v2h-2zM421.0 326.0h2v2h-2zM436.0 284.0h2v2h-2zM431.0 265.0h2v2h-2zM430.0 323.0h2v2h-2zM422.0 308.0h2v2h-2zM429.0 297.0h2v2h-2zM422.0 315.0h2v2h-2zM429.0 320.0h2v2h-2zM429.0 325.0h2v2h-2zM428.0 236.0h2v2h-2zM414.0 284.0h2v2h-2zM412.0 299.0h2v2h-2zM410.0 250.0h2v2h-2zM433.0 263.0h2v2h-2zM428.0 319.0h2v2h-2zM426.0 265.0h2v2h-2zM432.0 286.0h2v2h-2zM410.0 316.0h2v2h-2zM422.0 290.0h2v2h-2zM410.0 283.0h2v2h-2zM425.0 309.0h2v2h-2zM414.0 328.0h2v2h-2zM421.0 309.0h2v2h-2zM429.0 285.0h2v2h-2zM423.0 303.0h2v2h-2zM424.0 326.0h2v2h-2zM413.0 246.0h2v2h-2zM411.0 271.0h2v2h-2zM439.0 237.0h2v2h-2zM420.0 317.0h2v2h-2zM402.0 235.0h2v2h-2zM438.0 284.0h2v2h-2zM416.0 250.0h2v2h-2zM418.0 286.0h2v2h-2zM423.0 326.0h2v2h-2zM422.0 297.0h2v2h-2zM419.0 311.0h2v2h-2zM436.0 311.0h2v2h-2zM436.0 279.0h2v2h-2zM414.0 285.0h2v2h-2zM430.0 274.0h2v2h-2zM429.0 280.0h2v2h-2zM434.0 255.0h2v2h-2zM434.0 249.0h2v2h-2zM443.0 283.0h2v2h-2zM425.0 261.0h2v2h-2zM443.0 284.0h2v2h-2zM426.0 326.0h2v2h-2zM445.0 286.0h2v2h-2zM455.0 257.0h2v2h-2zM424.0 266.0h2v2h-2zM418.0 310.0h2v2h-2zM429.0 274.0h2v2h-2zM417.0 310.0h2v2h-2zM433.0 235.0h2v2h-2zM413.0 272.0h2v2h-2zM432.0 312.0h2v2h-2zM430.0 254.0h2v2h-2zM403.0 238.0h2v2h-2zM431.0 293.0h2v2h-2zM432.0 256.0h2v2h-2zM422.0 290.0h2v2h-2zM430.0 283.0h2v2h-2zM449.0 297.0h2v2h-2zM416.0 248.0h2v2h-2zM422.0 276.0h2v2h-2zM426.0 299.0h2v2h-2zM404.0 328.0h2v2h-2zM438.0 256.0h2v2h-2zM437.0 317.0h2v2h-2zM428.0 292.0h2v2h-2zM415.0 308.0h2v2h-2zM416.0 313.0h2v2h-2zM434.0 287.0h2v2h-2zM434.0 290.0h2v2h-2zM421.0 318.0h2v2h-2zM435.0 307.0h2v2h-2zM424.0 317.0h2v2h-2zM441.0 304.0h2v2h-2zM420.0 280.0h2v2h-2zM432.0 272.0h2v2h-2zM445.0 261.0h2v2h-2zM435.0 245.0h2v2h-2zM419.0 274.0h2v2h-2zM435.0 309.0h2v2h-2zM417.0 263.0h2v2h-2zM436.0 271.0h2v2h-2zM408.0 257.0h2v2h-2zM422.0 318.0h2v2h-2zM419.0 313.0h2v2h-2zM418.0 275.0h2v2h-2zM426.0 300.0h2v2h-2zM420.0 313.0h2v2h-2zM425.0 272.0h2v2h-2zM426.0 298.0h2v2h-2zM435.0 269.0h2v2h-2zM428.0 277.0h2v2h-2zM417.0 281.0h2v2h-2zM421.0 311.0h2v2h-2zM422.0 328.0h2v2h-2zM406.0 238.0h2v2h-2zM410.0 262.0h2v2h-2zM417.0 294.0h2v2h-2zM436.0 300.0h2v2h-2zM453.0 311.0h2v2h-2zM432.0 294.0h2v2h-2zM433.0 274.0h2v2h-2zM423.0 272.0h2v2h-2zM429.0 287.0h2v2h-2zM411.0 274.0h2v2h-2zM449.0 240.0h2v2h-2zM424.0 246.0h2v2h-2zM422.0 304.0h2v2h-2zM431.0 310.0h2v2h-2zM429.0 270.0h2v2h-2zM420.0 320.0h2v2h-2zM424.0 237.0h2v2h-2zM423.0 281.0h2v2h-2zM426.0 307.0h2v2h-2zM426.0 261.0h2v2h-2zM420.0 242.0h2v2h-2zM431.0 306.0h2v2h-2zM431.0 303.0h2v2h-2zM412.0 275.0h2v2h-2zM411.0 270.0h2v2h-2zM411.0 272.0h2v2h-2zM406.0 276.0h2v2h-2zM423.0 283.0h2v2h-2zM423.0 308.0h2v2h-2zM430.0 324.0h2v2h-2zM420.0 305.0h2v2h-2zM421.0 270.0h2v2h-2zM426.0 230.0h2v2h-2zM432.0 268.0h2v2h-2zM453.0 322.0h2v2h-2zM432.0 298.0h2v2h-2zM432.0 278.0h2v2h-2zM416.0 295.0h2v2h-2zM415.0 235.0h2v2h-2zM436.0 300.0h2v2h-2zM419.0 269.0h2v2h-2zM415.0 253.0h2v2h-2zM433.0 278.0h2v2h-2zM422.0 290.0h2v2h-2zM438.0 264.0h2v2h-2zM422.0 308.0h2v2h-2zM429.0 289.0h2v2h-2zM413.0 238.0h2v2h-2zM443.0 306.0h2v2h-2zM444.0 324.0h2v2h-2zM437.0 293.0h2v2h-2zM431.0 269.0h2v2h-2zM430.0 312.0h2v2h-2zM434.0 281.0h2v2h-2zM425.0 321.0h2v2h-2zM432.0 231.0h2v2h-2zM437.0 322.0h2v2h-2zM415.0 319.0h2v2h-2zM435.0 310.0h2v2h-2zM444.0 269.0h2v2h-2zM418.0 256.0h2v2h-2zM424.0 314.0h2v2h-2zM443.0 280.0h2v2h-2zM417.0 244.0h2v2h-2zM433.0 320.0h2v2h-2zM430.0 257.0h2v2h-2zM442.0 279.0h2v2h-2zM440.0 314.0h2v2h-2zM408.0 280.0h2v2h-2zM431.0 307.0h2v2h-2zM441.0 286.0h2v2h-2zM427.0 283.0h2v2h-2zM422.0 282.0h2v2h-2zM412.0 268.0h2v2h-2zM431.0 232.0h2v2h-2zM424.0 279.0h2v2h-2zM443.0 322.0h2v2h-2zM430.0 245.0h2v2h-2zM413.0 262.0h2v2h-2zM425.0 270.0h2v2h-2zM426.0 250.0h2v2h-2zM411.0 261.0h2v2h-2zM437.0 310.0h2v2h-2zM442.0 276.0h2v2h-2zM414.0 239.0h2v2h-2zM408.0 297.0h2v2h-2zM430.0 287.0h2v2h-2zM426.0 269.0h2v2h-2zM405.0 291.0h2v2h-2zM447.0 317.0h2v2h-2zM437.0 283.0h2v2h-2zM432.0 284.0h2v2h-2zM412.0 292.0h2v2h-2zM431.0 286.0h2v2h-2zM416.0 255.0h2v2h-2zM423.0 245.0h2v2h-2zM429.0 281.0h2v2h-2zM435.0 270.0h2v2h-2zM421.0 308.0h2v2h-2zM413.0 318.0h2v2h-2zM420.0 321.0h2v2h-2zM433.0 326.0h2v2h-2zM419.0 280.0h2v2h-2zM431.0 267.0h2v2h-2zM431.0 290.0h2v2h-2zM435.0 327.0h2v2h-2zM439.0 265.0h2v2h-2zM434.0 242.0h2v2h-2zM425.0 292.0h2v2h-2zM444.0 265.0h2v2h-2zM439.0 325.0h2v2h-2zM448.0 242.0h2v2h-2zM415.0 281.0h2v2h-2zM427.0 318.0h2v2h-2zM425.0 292.0h2v2h-2zM435.0 271.0h2v2h-2zM415.0 324.0h2v2h-2zM434.0 249.0h2v2h-2zM436.0 265.0h2v2h-2zM425.0 315.0h2v2h-2zM427.0 291.0h2v2h-2zM428.0 291.0h2v2h-2zM418.0 278.0h2v2h-2zM434.0 259.0h2v2h-2zM426.0 246.0h2v2h-2zM419.0 261.0h2v2h-2zM417.0 314.0h2v2h-2zM428.0 255.0h2v2h-2zM427.0 321.0h2v2h-2zM407.0 284.0h2v2h-2zM405.0 325.0h2v2h-2zM415.0 258.0h2v2h-2zM436.0 326.0h2v2h-2zM426.0 300.0h2v2h-2zM429.0 298.0h2v2h-2zM414.0 296.0h2v2h-2zM424.0 280.0h2v2h-2zM419.0 299.0h2v2h-2zM413.0 309.0h2v2h-2zM426.0 324.0h2v2h-2zM433.0 299.0h2v2h-2zM417.0 259.0h2v2h-2zM434.0 247.0h2v2h-2zM423.0 288.0h2v2h-2zM427.0 249.0h2v2h-2zM428.0 280.0h2v2h-2zM424.0 253.0h2v2h-2zM430.0 320.0h2v2h-2zM421.0 307.0h2v2h-2zM409.0 324.0h2v2h-2zM425.0 255.0h2v2h-2zM441.0 292.0h2v2h-2zM416.0 302.0h2v2h-2zM430.0 270.0h2v2h-2zM427.0 274.0h2v2h-2zM420.0 325.0h2v2h-2zM426.0 289.0h2v2h-2zM418.0 324.0h2v2h-2zM412.0 328.0h2v2h-2zM425.0 299.0h2v2h-2zM428.0 277.0h2v2h-2zM425.0 309.0h2v2h-2zM418.0 284.0h2v2h-2zM433.0 248.0h2v2h-2zM423.0 327.0h2v2h-2zM416.0 261.0h2v2h-2zM412.0 318.0h2v2h-2zM433.0 269.0h2v2h-2zM414.0 324.0h2v2h-2zM424.0 278.0h2v2h-2zM419.0 246.0h2v2h-2zM430.0 239.0h2v2h-2zM424.0 245.0h2v2h-2zM405.0 314.0h2v2h-2zM422.0 283.0h2v2h-2zM431.0 297.0h2v2h-2zM419.0 320.0h2v2h-2zM423.0 318.0h2v2h-2zM423.0 324.0h2v2h-2zM442.0 323.0h2v2h-2zM434.0 265.0h2v2h-2zM425.0 305.0h2v2h-2zM426.0 328.0h2v2h-2zM424.0 304.0h2v2h-2zM425.0 281.0h2v2h-2zM436.0 328.0h2v2h-2zM410.0 235.0h2v2h-2zM415.0 312.0h2v2h-2zM417.0 266.0h2v2h-2zM426.0 297.0h2v2h-2zM429.0 290.0h2v2h-2zM423.0 243.0h2v2h-2zM431.0 304.0h2v2h-2zM440.0 315.0h2v2h-2zM430.0 292.0h2v2h-2zM427.0 328.0h2v2h-2zM431.0 325.0h2v2h-2zM423.0 236.0h2v2h-2zM420.0 300.0h2v2h-2zM435.0 264.0h2v2h-2zM419.0 313.0h2v2h-2zM427.0 288.0h2v2h-2zM430.0 300.0h2v2h-2zM417.0 258.0h2v2h-2zM432.0 304.0h2v2h-2zM443.0 276.0h2v2h-2zM418.0 281.0h2v2h-2zM404.0 232.0h2v2h-2zM427.0 305.0h2v2h-2zM447.0 308.0h2v2h-2zM415.0 293.0h2v2h-2zM433.0 283.0h2v2h-2zM420.0 328.0h2v2h-2zM401.0 298.0h2v2h-2zM421.0 268.0h2v2h-2zM435.0 243.0h2v2h-2zM429.0 256.0h2v2h-2zM425.0 261.0h2v2h-2zM424.0 247.0h2v2h-2zM420.0 255.0h2v2h-2zM436.0 257.0h2v2h-2zM434.0 312.0h2v2h-2zM441.0 275.0h2v2h-2zM428.0 268.0h2v2h-2zM440.0 272.0h2v2h-2zM422.0 248.0h2v2h-2zM431.0 314.0h2v2h-2zM431.0 311.0h2v2h-2zM419.0 320.0h2v2h-2zM422.0 277.0h2v2h-2zM434.0 307.0h2v2h-2zM434.0 239.0h2v2h-2zM425.0 243.0h2v2h-2zM432.0 289.0h2v2h-2zM422.0 296.0h2v2h-2zM437.0 281.0h2v2h-2zM439.0 280.0h2v2h-2zM431.0 322.0h2v2h-2zM417.0 260.0h2v2h-2zM418.0 262.0h2v2h-2zM423.0 302.0h2v2h-2zM429.0 288.0h2v2h-2zM431.0 316.0h2v2h-2zM435.0 231.0h2v2h-2zM435.0 307.0h2v2h-2zM428.0 237.0h2v2h-2zM432.0 323.0h2v2h-2zM425.0 231.0h2v2h-2zM440.0 277.0h2v2h-2zM419.0 267.0h2v2h-2zM423.0 296.0h2v2h-2zM439.0 319.0h2v2h-2zM426.0 248.0h2v2h-2zM418.0 312.0h2v2h-2zM427.0 314.0h2v2h-2zM421.0 307.0h2v2h-2zM400.0 296.0h2v2h-2zM416.0 316.0h2v2h-2zM446.0 321.0h2v2h-2zM417.0 283.0h2v2h-2zM439.0 251.0h2v2h-2zM407.0 292.0h2v2h-2zM422.0 297.0h2v2h-2zM401.0 295.0h2v2h-2zM442.0 320.0h2v2h-2zM411.0 320.0h2v2h-2zM416.0 250.0h2v2h-2zM426.0 294.0h2v2h-2zM419.0 290.0h2v2h-2zM426.0 260.0h2v2h-2zM423.0 274.0h2v2h-2zM443.0 275.0h2v2h-2zM441.0 313.0h2v2h-2zM412.0 279.0h2v2h-2zM425.0 247.0h2v2h-2zM414.0 254.0h2v2h-2zM418.0 246.0h2v2h-2zM422.0 288.0h2v2h-2zM420.0 241.0h2v2h-2zM454.0 243.0h2v2h-2zM424.0 250.0h2v2h-2zM430.0 310.0h2v2h-2zM422.0 245.0h2v2h-2zM427.0 313.0h2v2h-2zM432.0 265.0h2v2h-2zM413.0 266.0h2v2h-2zM426.0 313.0h2v2h-2zM415.0 288.0h2v2h-2zM416.0 310.0h2v2h-2zM415.0 316.0h2v2h-2zM429.0 252.0h2v2h-2zM430.0 283.0h2v2h-2zM430.0 261.0h2v2h-2zM418.0 293.0h2v2h-2zM425.0 264.0h2v2h-2zM438.0 322.0h2v2h-2zM421.0 242.0h2v2h-2zM413.0 296.0h2v2h-2zM452.0 252.0h2v2h-2zM441.0 292.0h2v2h-2zM425.0 309.0h2v2h-2zM421.0 266.0h2v2h-2zM445.0 292.0h2v2h-2zM416.0 314.0h2v2h-2zM418.0 327.0h2v2h-2zM419.0 270.0h2v2h-2zM438.0 277.0h2v2h-2zM441.0 252.0h2v2h-2zM440.0 322.0h2v2h-2zM419.0 292.0h2v2h-2zM420.0 321.0h2v2h-2zM402.0 241.0h2v2h-2zM426.0 327.0h2v2h-2zM436.0 306.0h2v2h-2zM422.0 284.0h2v2h-2zM437.0 283.0h2v2h-2zM428.0 302.0h2v2h-2zM438.0 257.0h2v2h-2zM423.0 272.0h2v2h-2zM412.0 265.0h2v2h-2zM428.0 299.0h2v2h-2zM419.0 233.0h2v2h-2zM417.0 303.0h2v2h-2zM432.0 281.0h2v2h-2zM436.0 253.0h2v2h-2zM428.0 312.0h2v2h-2zM405.0 324.0h2v2h-2zM408.0 271.0h2v2h-2zM426.0 311.0h2v2h-2zM433.0 298.0h2v2h-2zM421.0 233.0h2v2h-2zM405.0 292.0h2v2h-2zM452.0 232.0h2v2h-2zM428.0 250.0h2v2h-2zM437.0 275.0h2v2h-2zM417.0 328.0h2v2h-2zM421.0 323.0h2v2h-2zM432.0 317.0h2v2h-2zM432.0 246.0h2v2h-2zM423.0 303.0h2v2h-2zM416.0 283.0h2v2h-2zM419.0 303.0h2v2h-2zM439.0 266.0h2v2h-2zM429.0 321.0h2v2h-2zM427.0 321.0h2v2h-2zM431.0 242.0h2v2h-2zM441.0 319.0h2v2h-2zM438.0 272.0h2v2h-2zM425.0 282.0h2v2h-2zM432.0 267.0h2v2h-2zM417.0 243.0h2v2h-2zM414.0 279.0h2v2h-2zM427.0 309.0h2v2h-2zM436.0 326.0h2v2h-2zM415.0 271.0h2v2h-2zM420.0 246.0h2v2h-2zM427.0 244.0h2v2h-2zM422.0 248.0h2v2h-2zM439.0 264.0h2v2h-2zM432.0 310.0h2v2h-2z" fill="#6a6a6a"/>
<path d="M428.0 280.0h2v2h-2zM412.0 289.0h2v2h-2zM425.0 319.0h2v2h-2zM406.0 223.0h2v2h-2zM419.0 220.0h2v2h-2zM443.0 286.0h2v2h-2zM424.0 305.0h2v2h-2zM437.0 313.0h2v2h-2zM421.0 242.0h2v2h-2zM432.0 297.0h2v2h-2zM421.0 249.0h2v2h-2zM409.0 279.0h2v2h-2zM407.0 227.0h2v2h-2zM444.0 241.0h2v2h-2zM428.0 313.0h2v2h-2zM455.0 320.0h2v2h-2zM446.0 259.0h2v2h-2zM409.0 237.0h2v2h-2zM422.0 235.0h2v2h-2zM429.0 312.0h2v2h-2zM419.0 285.0h2v2h-2zM417.0 328.0h2v2h-2zM429.0 318.0h2v2h-2zM397.0 254.0h2v2h-2zM408.0 238.0h2v2h-2zM421.0 315.0h2v2h-2zM424.0 297.0h2v2h-2zM436.0 319.0h2v2h-2zM437.0 304.0h2v2h-2zM425.0 230.0h2v2h-2zM427.0 289.0h2v2h-2zM434.0 291.0h2v2h-2zM409.0 326.0h2v2h-2zM421.0 326.0h2v2h-2zM396.0 261.0h2v2h-2zM442.0 288.0h2v2h-2zM395.0 305.0h2v2h-2zM422.0 319.0h2v2h-2zM416.0 245.0h2v2h-2zM442.0 291.0h2v2h-2zM422.0 293.0h2v2h-2zM425.0 308.0h2v2h-2zM421.0 295.0h2v2h-2zM434.0 302.0h2v2h-2zM407.0 286.0h2v2h-2zM408.0 284.0h2v2h-2zM442.0 235.0h2v2h-2zM430.0 250.0h2v2h-2zM415.0 253.0h2v2h-2zM416.0 315.0h2v2h-2zM440.0 277.0h2v2h-2zM435.0 323.0h2v2h-2zM409.0 297.0h2v2h-2zM411.0 308.0h2v2h-2zM416.0 281.0h2v2h-2zM425.0 328.0h2v2h-2zM420.0 225.0h2v2h-2zM410.0 299.0h2v2h-2zM401.0 252.0h2v2h-2zM425.0 298.0h2v2h-2zM421.0 233.0h2v2h-2zM467.0 301.0h2v2h-2zM425.0 273.0h2v2h-2zM442.0 320.0h2v2h-2zM430.0 299.0h2v2h-2zM425.0 220.0h2v2h-2zM414.0 289.0h2v2h-2zM431.0 317.0h2v2h-2zM395.0 272.0h2v2h-2zM419.0 269.0h2v2h-2zM443.0 303.0h2v2h-2zM444.0 323.0h2v2h-2zM445.0 305.0h2v2h-2zM434.0 222.0h2v2h-2zM412.0 221.0h2v2h-2zM415.0 251.0h2v2h-2zM413.0 270.0h2v2h-2zM443.0 274.0h2v2h-2zM400.0 310.0h2v2h-2zM437.0 262.0h2v2h-2zM433.0 297.0h2v2h-2zM423.0 236.0h2v2h-2zM410.0 308.0h2v2h-2zM424.0 312.0h2v2h-2zM433.0 263.0h2v2h-2zM423.0 290.0h2v2h-2zM423.0 286.0h2v2h-2zM407.0 234.0h2v2h-2zM427.0 307.0h2v2h-2zM430.0 263.0h2v2h-2zM416.0 253.0h2v2h-2zM431.0 302.0h2v2h-2zM399.0 250.0h2v2h-2zM419.0 302.0h2v2h-2zM425.0 241.0h2v2h-2zM428.0 243.0h2v2h-2zM453.0 281.0h2v2h-2zM425.0 271.0h2v2h-2zM435.0 314.0h2v2h-2zM430.0 301.0h2v2h-2zM418.0 276.0h2v2h-2zM407.0 287.0h2v2h-2zM424.0 297.0h2v2h-2zM449.0 308.0h2v2h-2zM431.0 314.0h2v2h-2zM417.0 234.0h2v2h-2zM424.0 291.0h2v2h-2zM418.0 314.0h2v2h-2zM424.0 299.0h2v2h-2zM433.0 265.0h2v2h-2zM439.0 247.0h2v2h-2zM444.0 326.0h2v2h-2zM415.0 295.0h2v2h-2zM420.0 318.0h2v2h-2zM401.0 305.0h2v2h-2zM425.0 225.0h2v2h-2zM413.0 292.0h2v2h-2zM432.0 230.0h2v2h-2zM417.0 222.0h2v2h-2zM427.0 325.0h2v2h-2zM429.0 290.0h2v2h-2zM424.0 261.0h2v2h-2zM443.0 227.0h2v2h-2zM429.0 316.0h2v2h-2zM412.0 318.0h2v2h-2zM430.0 306.0h2v2h-2zM419.0 246.0h2v2h-2zM406.0 247.0h2v2h-2zM439.0 274.0h2v2h-2zM432.0 293.0h2v2h-2zM425.0 319.0h2v2h-2zM421.0 246.0h2v2h-2zM407.0 306.0h2v2h-2zM429.0 307.0h2v2h-2zM405.0 278.0h2v2h-2zM435.0 313.0h2v2h-2zM421.0 241.0h2v2h-2zM441.0 304.0h2v2h-2zM413.0 271.0h2v2h-2zM435.0 291.0h2v2h-2zM420.0 234.0h2v2h-2zM413.0 258.0h2v2h-2zM430.0 325.0h2v2h-2zM463.0 264.0h2v2h-2zM412.0 278.0h2v2h-2zM443.0 288.0h2v2h-2zM431.0 304.0h2v2h-2zM441.0 266.0h2v2h-2zM414.0 238.0h2v2h-2zM434.0 281.0h2v2h-2zM432.0 312.0h2v2h-2zM422.0 280.0h2v2h-2zM422.0 313.0h2v2h-2zM436.0 244.0h2v2h-2zM415.0 279.0h2v2h-2zM429.0 278.0h2v2h-2zM434.0 222.0h2v2h-2zM440.0 235.0h2v2h-2zM449.0 288.0h2v2h-2zM416.0 327.0h2v2h-2zM436.0 262.0h2v2h-2zM444.0 237.0h2v2h-2zM439.0 269.0h2v2h-2zM440.0 233.0h2v2h-2zM416.0 318.0h2v2h-2zM440.0 304.0h2v2h-2zM445.0 233.0h2v2h-2zM429.0 281.0h2v2h-2zM413.0 289.0h2v2h-2zM418.0 319.0h2v2h-2zM402.0 249.0h2v2h-2zM451.0 224.0h2v2h-2zM433.0 323.0h2v2h-2zM440.0 238.0h2v2h-2zM450.0 299.0h2v2h-2zM431.0 229.0h2v2h-2zM429.0 296.0h2v2h-2zM443.0 295.0h2v2h-2zM432.0 312.0h2v2h-2zM431.0 245.0h2v2h-2zM404.0 271.0h2v2h-2zM437.0 226.0h2v2h-2zM421.0 322.0h2v2h-2zM431.0 304.0h2v2h-2zM456.0 253.0h2v2h-2zM449.0 302.0h2v2h-2zM424.0 293.0h2v2h-2zM422.0 265.0h2v2h-2zM422.0 306.0h2v2h-2zM434.0 284.0h2v2h-2zM443.0 293.0h2v2h-2zM420.0 261.0h2v2h-2zM410.0 327.0h2v2h-2zM397.0 300.0h2v2h-2zM468.0 320.0h2v2h-2zM453.0 315.0h2v2h-2zM430.0 265.0h2v2h-2zM399.0 311.0h2v2h-2zM413.0 229.0h2v2h-2zM466.0 231.0h2v2h-2zM442.0 296.0h2v2h-2zM438.0 308.0h2v2h-2zM424.0 225.0h2v2h-2zM446.0 283.0h2v2h-2zM455.0 235.0h2v2h-2zM443.0 292.0h2v2h-2zM417.0 301.0h2v2h-2zM427.0 309.0h2v2h-2zM435.0 278.0h2v2h-2zM440.0 260.0h2v2h-2zM432.0 318.0h2v2h-2zM428.0 276.0h2v2h-2zM430.0 225.0h2v2h-2zM398.0 322.0h2v2h-2zM443.0 222.0h2v2h-2zM426.0 318.0h2v2h-2zM455.0 297.0h2v2h-2zM443.0 302.0h2v2h-2zM416.0 296.0h2v2h-2zM451.0 302.0h2v2h-2zM437.0 221.0h2v2h-2zM424.0 231.0h2v2h-2zM454.0 288.0h2v2h-2zM432.0 252.0h2v2h-2zM417.0 273.0h2v2h-2zM448.0 230.0h2v2h-2zM409.0 224.0h2v2h-2zM440.0 323.0h2v2h-2zM444.0 315.0h2v2h-2zM425.0 274.0h2v2h-2zM429.0 323.0h2v2h-2zM410.0 259.0h2v2h-2zM437.0 319.0h2v2h-2zM425.0 319.0h2v2h-2zM423.0 313.0h2v2h-2zM446.0 224.0h2v2h-2zM414.0 324.0h2v2h-2zM432.0 314.0h2v2h-2zM430.0 318.0h2v2h-2zM432.0 262.0h2v2h-2zM432.0 226.0h2v2h-2zM459.0 276.0h2v2h-2zM423.0 298.0h2v2h-2zM415.0 302.0h2v2h-2zM424.0 275.0h2v2h-2zM414.0 250.0h2v2h-2zM455.0 280.0h2v2h-2zM436.0 239.0h2v2h-2zM402.0 319.0h2v2h-2zM428.0 324.0h2v2h-2zM435.0 295.0h2v2h-2zM423.0 277.0h2v2h-2zM414.0 318.0h2v2h-2zM429.0 257.0h2v2h-2zM401.0 229.0h2v2h-2zM404.0 309.0h2v2h-2zM431.0 302.0h2v2h-2zM457.0 315.0h2v2h-2zM405.0 276.0h2v2h-2zM445.0 304.0h2v2h-2zM416.0 268.0h2v2h-2zM425.0 241.0h2v2h-2zM410.0 264.0h2v2h-2zM419.0 323.0h2v2h-2zM445.0 298.0h2v2h-2zM443.0 277.0h2v2h-2zM417.0 248.0h2v2h-2zM435.0 294.0h2v2h-2zM440.0 269.0h2v2h-2zM439.0 328.0h2v2h-2zM425.0 323.0h2v2h-2zM413.0 256.0h2v2h-2zM428.0 256.0h2v2h-2zM400.0 264.0h2v2h-2zM450.0 230.0h2v2h-2zM447.0 226.0h2v2h-2zM437.0 316.0h2v2h-2zM421.0 311.0h2v2h-2zM421.0 286.0h2v2h-2zM412.0 305.0h2v2h-2zM432.0 286.0h2v2h-2zM434.0 322.0h2v2h-2zM455.0 225.0h2v2h-2zM438.0 282.0h2v2h-2zM425.0 319.0h2v2h-2zM450.0 239.0h2v2h-2zM410.0 243.0h2v2h-2zM419.0 225.0h2v2h-2zM423.0 319.0h2v2h-2zM445.0 275.0h2v2h-2zM442.0 305.0h2v2h-2zM429.0 307.0h2v2h-2zM436.0 272.0h2v2h-2zM430.0 271.0h2v2h-2zM415.0 255.0h2v2h-2zM417.0 264.0h2v2h-2zM442.0 229.0h2v2h-2zM442.0 305.0h2v2h-2zM428.0 303.0h2v2h-2zM407.0 300.0h2v2h-2zM449.0 324.0h2v2h-2zM417.0 247.0h2v2h-2zM429.0 228.0h2v2h-2zM440.0 245.0h2v2h-2zM449.0 260.0h2v2h-2zM413.0 307.0h2v2h-2zM410.0 241.0h2v2h-2zM435.0 228.0h2v2h-2zM449.0 277.0h2v2h-2zM444.0 275.0h2v2h-2zM421.0 243.0h2v2h-2zM410.0 306.0h2v2h-2zM431.0 227.0h2v2h-2zM445.0 281.0h2v2h-2zM403.0 309.0h2v2h-2zM448.0 259.0h2v2h-2zM438.0 273.0h2v2h-2zM435.0 295.0h2v2h-2zM401.0 321.0h2v2h-2zM424.0 244.0h2v2h-2zM422.0 245.0h2v2h-2zM439.0 256.0h2v2h-2zM466.0 272.0h2v2h-2zM468.0 282.0h2v2h-2zM443.0 319.0h2v2h-2zM412.0 243.0h2v2h-2zM434.0 308.0h2v2h-2zM426.0 242.0h2v2h-2zM412.0 252.0h2v2h-2zM449.0 235.0h2v2h-2zM430.0 322.0h2v2h-2zM424.0 297.0h2v2h-2zM443.0 274.0h2v2h-2zM437.0 241.0h2v2h-2zM427.0 228.0h2v2h-2zM432.0 267.0h2v2h-2zM435.0 253.0h2v2h-2zM429.0 289.0h2v2h-2zM412.0 264.0h2v2h-2zM413.0 274.0h2v2h-2zM437.0 305.0h2v2h-2zM451.0 294.0h2v2h-2zM417.0 253.0h2v2h-2zM436.0 315.0h2v2h-2zM425.0 263.0h2v2h-2zM404.0 271.0h2v2h-2zM406.0 321.0h2v2h-2zM418.0 267.0h2v2h-2zM416.0 301.0h2v2h-2zM412.0 276.0h2v2h-2zM421.0 277.0h2v2h-2zM443.0 287.0h2v2h-2zM420.0 313.0h2v2h-2zM435.0 269.0h2v2h-2zM419.0 280.0h2v2h-2zM417.0 316.0h2v2h-2zM423.0 224.0h2v2h-2zM463.0 320.0h2v2h-2zM426.0 283.0h2v2h-2zM428.0 273.0h2v2h-2zM446.0 265.0h2v2h-2zM418.0 227.0h2v2h-2zM427.0 273.0h2v2h-2zM419.0 321.0h2v2h-2zM420.0 313.0h2v2h-2zM440.0 324.0h2v2h-2zM431.0 277.0h2v2h-2zM419.0 233.0h2v2h-2zM418.0 285.0h2v2h-2zM417.0 228.0h2v2h-2zM440.0 233.0h2v2h-2zM423.0 226.0h2v2h-2zM418.0 266.0h2v2h-2zM401.0 235.0h2v2h-2zM436.0 272.0h2v2h-2zM422.0 253.0h2v2h-2zM421.0 269.0h2v2h-2zM438.0 251.0h2v2h-2zM417.0 298.0h2v2h-2zM459.0 321.0h2v2h-2zM447.0 227.0h2v2h-2zM417.0 309.0h2v2h-2zM413.0 273.0h2v2h-2zM415.0 285.0h2v2h-2zM403.0 235.0h2v2h-2zM427.0 321.0h2v2h-2zM422.0 247.0h2v2h-2zM422.0 289.0h2v2h-2zM443.0 307.0h2v2h-2zM407.0 309.0h2v2h-2zM414.0 313.0h2v2h-2zM433.0 233.0h2v2h-2zM431.0 309.0h2v2h-2zM424.0 320.0h2v2h-2zM404.0 265.0h2v2h-2zM415.0 242.0h2v2h-2zM409.0 323.0h2v2h-2zM447.0 260.0h2v2h-2zM397.0 319.0h2v2h-2zM402.0 308.0h2v2h-2zM428.0 321.0h2v2h-2zM410.0 321.0h2v2h-2zM407.0 280.0h2v2h-2zM436.0 252.0h2v2h-2zM418.0 301.0h2v2h-2zM422.0 232.0h2v2h-2zM429.0 272.0h2v2h-2zM421.0 302.0h2v2h-2zM417.0 246.0h2v2h-2zM411.0 224.0h2v2h-2zM425.0 241.0h2v2h-2zM437.0 293.0h2v2h-2zM447.0 326.0h2v2h-2zM424.0 282.0h2v2h-2zM431.0 249.0h2v2h-2zM449.0 294.0h2v2h-2zM435.0 298.0h2v2h-2zM422.0 239.0h2v2h-2zM454.0 270.0h2v2h-2zM408.0 234.0h2v2h-2zM423.0 278.0h2v2h-2zM420.0 318.0h2v2h-2zM427.0 261.0h2v2h-2zM414.0 254.0h2v2h-2zM439.0 251.0h2v2h-2zM416.0 296.0h2v2h-2zM421.0 261.0h2v2h-2zM413.0 315.0h2v2h-2zM435.0 274.0h2v2h-2zM412.0 275.0h2v2h-2zM405.0 322.0h2v2h-2zM448.0 247.0h2v2h-2zM446.0 309.0h2v2h-2zM407.0 277.0h2v2h-2zM447.0 307.0h2v2h-2zM431.0 247.0h2v2h-2zM438.0 308.0h2v2h-2zM447.0 279.0h2v2h-2zM427.0 313.0h2v2h-2zM409.0 250.0h2v2h-2zM402.0 277.0h2v2h-2zM438.0 310.0h2v2h-2zM461.0 223.0h2v2h-2zM443.0 314.0h2v2h-2zM426.0 275.0h2v2h-2zM455.0 318.0h2v2h-2zM447.0 265.0h2v2h-2zM425.0 267.0h2v2h-2zM416.0 294.0h2v2h-2zM421.0 322.0h2v2h-2zM428.0 261.0h2v2h-2zM398.0 251.0h2v2h-2zM402.0 282.0h2v2h-2zM437.0 301.0h2v2h-2zM427.0 280.0h2v2h-2zM444.0 252.0h2v2h-2zM440.0 306.0h2v2h-2zM435.0 301.0h2v2h-2zM412.0 322.0h2v2h-2zM428.0 229.0h2v2h-2zM420.0 243.0h2v2h-2zM431.0 262.0h2v2h-2zM442.0 266.0h2v2h-2zM405.0 294.0h2v2h-2zM404.0 238.0h2v2h-2zM451.0 310.0h2v2h-2zM436.0 285.0h2v2h-2zM424.0 323.0h2v2h-2zM442.0 308.0h2v2h-2zM438.0 271.0h2v2h-2zM403.0 305.0h2v2h-2zM419.0 227.0h2v2h-2zM439.0 310.0h2v2h-2zM437.0 320.0h2v2h-2zM423.0 278.0h2v2h-2zM425.0 312.0h2v2h-2zM423.0 229.0h2v2h-2zM396.0 272.0h2v2h-2zM467.0 297.0h2v2h-2zM429.0 288.0h2v2h-2zM420.0 267.0h2v2h-2zM445.0 321.0h2v2h-2zM442.0 314.0h2v2h-2zM430.0 303.0h2v2h-2zM402.0 255.0h2v2h-2zM448.0 308.0h2v2h-2zM407.0 286.0h2v2h-2zM425.0 222.0h2v2h-2zM419.0 305.0h2v2h-2zM398.0 277.0h2v2h-2zM431.0 270.0h2v2h-2zM430.0 299.0h2v2h-2zM424.0 286.0h2v2h-2zM417.0 286.0h2v2h-2zM420.0 311.0h2v2h-2zM425.0 272.0h2v2h-2zM437.0 272.0h2v2h-2zM450.0 323.0h2v2h-2zM396.0 320.0h2v2h-2zM424.0 288.0h2v2h-2zM423.0 246.0h2v2h-2zM413.0 260.0h2v2h-2zM412.0 305.0h2v2h-2zM460.0 271.0h2v2h-2zM423.0 312.0h2v2h-2zM441.0 285.0h2v2h-2zM428.0 258.0h2v2h-2zM452.0 274.0h2v2h-2zM436.0 285.0h2v2h-2zM396.0 232.0h2v2h-2zM434.0 221.0h2v2h-2zM425.0 241.0h2v2h-2zM413.0 295.0h2v2h-2zM424.0 272.0h2v2h-2zM427.0 243.0h2v2h-2zM405.0 265.0h2v2h-2zM432.0 311.0h2v2h-2zM432.0 302.0h2v2h-2zM438.0 323.0h2v2h-2zM422.0 318.0h2v2h-2zM440.0 279.0h2v2h-2zM422.0 289.0h2v2h-2zM420.0 291.0h2v2h-2zM431.0 239.0h2v2h-2zM418.0 267.0h2v2h-2zM421.0 256.0h2v2h-2zM423.0 309.0h2v2h-2zM415.0 282.0h2v2h-2zM438.0 252.0h2v2h-2zM448.0 232.0h2v2h-2zM422.0 306.0h2v2h-2zM447.0 325.0h2v2h-2zM422.0 312.0h2v2h-2zM433.0 260.0h2v2h-2zM428.0 326.0h2v2h-2zM415.0 271.0h2v2h-2zM424.0 327.0h2v2h-2zM450.0 240.0h2v2h-2zM443.0 312.0h2v2h-2zM410.0 270.0h2v2h-2zM415.0 229.0h2v2h-2zM423.0 286.0h2v2h-2zM430.0 290.0h2v2h-2zM420.0 245.0h2v2h-2zM424.0 296.0h2v2h-2zM435.0 232.0h2v2h-2zM429.0 271.0h2v2h-2zM440.0 237.0h2v2h-2zM420.0 247.0h2v2h-2zM431.0 288.0h2v2h-2zM412.0 305.0h2v2h-2zM429.0 223.0h2v2h-2zM417.0 309.0h2v2h-2zM420.0 323.0h2v2h-2zM424.0 263.0h2v2h-2zM449.0 274.0h2v2h-2zM434.0 256.0h2v2h-2zM426.0 318.0h2v2h-2zM447.0 251.0h2v2h-2zM424.0 304.0h2v2h-2zM429.0 251.0h2v2h-2zM452.0 296.0h2v2h-2zM423.0 282.0h2v2h-2zM416.0 300.0h2v2h-2zM453.0 270.0h2v2h-2zM408.0 323.0h2v2h-2zM431.0 321.0h2v2h-2zM408.0 325.0h2v2h-2zM412.0 304.0h2v2h-2zM411.0 253.0h2v2h-2zM432.0 240.0h2v2h-2zM425.0 295.0h2v2h-2zM424.0 299.0h2v2h-2zM443.0 288.0h2v2h-2zM402.0 322.0h2v2h-2zM429.0 268.0h2v2h-2zM429.0 245.0h2v2h-2zM426.0 315.0h2v2h-2zM404.0 312.0h2v2h-2zM429.0 272.0h2v2h-2zM433.0 261.0h2v2h-2zM411.0 322.0h2v2h-2zM396.0 326.0h2v2h-2zM448.0 294.0h2v2h-2zM410.0 232.0h2v2h-2zM431.0 269.0h2v2h-2zM436.0 240.0h2v2h-2zM436.0 236.0h2v2h-2zM411.0 318.0h2v2h-2zM447.0 296.0h2v2h-2zM445.0 242.0h2v2h-2zM437.0 291.0h2v2h-2zM434.0 299.0h2v2h-2zM415.0 291.0h2v2h-2zM441.0 316.0h2v2h-2zM445.0 235.0h2v2h-2zM406.0 264.0h2v2h-2zM418.0 312.0h2v2h-2zM445.0 245.0h2v2h-2zM424.0 297.0h2v2h-2zM401.0 311.0h2v2h-2zM416.0 304.0h2v2h-2zM420.0 283.0h2v2h-2zM416.0 222.0h2v2h-2zM439.0 272.0h2v2h-2zM438.0 286.0h2v2h-2zM401.0 281.0h2v2h-2zM431.0 311.0h2v2h-2zM413.0 239.0h2v2h-2zM424.0 319.0h2v2h-2zM436.0 326.0h2v2h-2zM424.0 302.0h2v2h-2zM412.0 315.0h2v2h-2zM417.0 241.0h2v2h-2zM423.0 326.0h2v2h-2zM397.0 285.0h2v2h-2zM418.0 247.0h2v2h-2zM399.0 315.0h2v2h-2zM436.0 299.0h2v2h-2zM416.0 260.0h2v2h-2zM447.0 234.0h2v2h-2zM453.0 260.0h2v2h-2zM429.0 323.0h2v2h-2zM433.0 325.0h2v2h-2zM415.0 255.0h2v2h-2zM438.0 245.0h2v2h-2zM432.0 326.0h2v2h-2zM405.0 243.0h2v2h-2zM436.0 248.0h2v2h-2zM419.0 300.0h2v2h-2zM440.0 314.0h2v2h-2zM419.0 266.0h2v2h-2zM433.0 245.0h2v2h-2zM429.0 313.0h2v2h-2zM426.0 305.0h2v2h-2zM433.0 255.0h2v2h-2zM470.0 295.0h2v2h-2zM410.0 288.0h2v2h-2zM420.0 233.0h2v2h-2zM449.0 299.0h2v2h-2zM440.0 265.0h2v2h-2zM421.0 242.0h2v2h-2zM421.0 318.0h2v2h-2zM405.0 287.0h2v2h-2zM421.0 325.0h2v2h-2zM437.0 244.0h2v2h-2zM419.0 321.0h2v2h-2zM424.0 303.0h2v2h-2zM414.0 326.0h2v2h-2zM460.0 296.0h2v2h-2zM435.0 308.0h2v2h-2zM430.0 317.0h2v2h-2zM408.0 322.0h2v2h-2zM431.0 272.0h2v2h-2zM406.0 227.0h2v2h-2zM425.0 288.0h2v2h-2zM406.0 292.0h2v2h-2zM430.0 304.0h2v2h-2zM445.0 237.0h2v2h-2zM454.0 270.0h2v2h-2zM438.0 296.0h2v2h-2zM459.0 222.0h2v2h-2zM425.0 266.0h2v2h-2zM460.0 270.0h2v2h-2zM407.0 305.0h2v2h-2zM448.0 299.0h2v2h-2zM427.0 300.0h2v2h-2zM421.0 286.0h2v2h-2zM401.0 274.0h2v2h-2zM442.0 305.0h2v2h-2zM455.0 317.0h2v2h-2zM411.0 286.0h2v2h-2zM418.0 300.0h2v2h-2zM431.0 273.0h2v2h-2zM415.0 300.0h2v2h-2zM434.0 286.0h2v2h-2zM407.0 283.0h2v2h-2zM443.0 304.0h2v2h-2zM413.0 294.0h2v2h-2zM444.0 322.0h2v2h-2zM413.0 301.0h2v2h-2zM431.0 248.0h2v2h-2zM448.0 308.0h2v2h-2zM419.0 256.0h2v2h-2zM454.0 270.0h2v2h-2zM415.0 262.0h2v2h-2zM432.0 305.0h2v2h-2zM424.0 326.0h2v2h-2zM409.0 301.0h2v2h-2zM432.0 300.0h2v2h-2zM448.0 302.0h2v2h-2zM445.0 304.0h2v2h-2zM437.0 285.0h2v2h-2zM421.0 236.0h2v2h-2zM439.0 270.0h2v2h-2zM430.0 266.0h2v2h-2zM431.0 258.0h2v2h-2zM418.0 232.0h2v2h-2zM429.0 261.0h2v2h-2zM407.0 279.0h2v2h-2zM449.0 273.0h2v2h-2zM423.0 247.0h2v2h-2zM444.0 326.0h2v2h-2zM431.0 311.0h2v2h-2zM449.0 221.0h2v2h-2zM433.0 230.0h2v2h-2zM425.0 324.0h2v2h-2zM415.0 280.0h2v2h-2zM441.0 242.0h2v2h-2zM422.0 301.0h2v2h-2zM413.0 238.0h2v2h-2zM436.0 277.0h2v2h-2zM430.0 281.0h2v2h-2zM418.0 242.0h2v2h-2zM436.0 315.0h2v2h-2zM410.0 229.0h2v2h-2zM408.0 241.0h2v2h-2zM442.0 278.0h2v2h-2zM436.0 261.0h2v2h-2zM409.0 239.0h2v2h-2zM448.0 326.0h2v2h-2zM469.0 280.0h2v2h-2zM430.0 295.0h2v2h-2zM429.0 242.0h2v2h-2zM435.0 319.0h2v2h-2zM423.0 256.0h2v2h-2zM442.0 249.0h2v2h-2zM444.0 326.0h2v2h-2zM430.0 291.0h2v2h-2zM395.0 300.0h2v2h-2zM450.0 248.0h2v2h-2zM432.0 320.0h2v2h-2zM415.0 271.0h2v2h-2zM427.0 251.0h2v2h-2zM433.0 288.0h2v2h-2zM427.0 289.0h2v2h-2zM467.0 306.0h2v2h-2zM420.0 240.0h2v2h-2zM406.0 321.0h2v2h-2zM430.0 222.0h2v2h-2zM429.0 222.0h2v2h-2zM412.0 271.0h2v2h-2zM425.0 294.0h2v2h-2zM430.0 299.0h2v2h-2zM423.0 267.0h2v2h-2zM427.0 295.0h2v2h-2zM414.0 316.0h2v2h-2zM408.0 251.0h2v2h-2zM449.0 320.0h2v2h-2zM417.0 278.0h2v2h-2zM442.0 238.0h2v2h-2zM430.0 241.0h2v2h-2zM404.0 323.0h2v2h-2zM448.0 222.0h2v2h-2zM441.0 321.0h2v2h-2zM414.0 241.0h2v2h-2zM413.0 279.0h2v2h-2zM424.0 303.0h2v2h-2zM430.0 293.0h2v2h-2zM412.0 233.0h2v2h-2zM425.0 227.0h2v2h-2zM437.0 242.0h2v2h-2zM431.0 279.0h2v2h-2zM423.0 237.0h2v2h-2zM418.0 256.0h2v2h-2zM417.0 317.0h2v2h-2zM429.0 271.0h2v2h-2zM442.0 305.0h2v2h-2zM423.0 306.0h2v2h-2zM429.0 267.0h2v2h-2zM453.0 296.0h2v2h-2zM446.0 281.0h2v2h-2zM436.0 296.0h2v2h-2zM434.0 305.0h2v2h-2zM425.0 327.0h2v2h-2zM444.0 287.0h2v2h-2zM430.0 328.0h2v2h-2zM430.0 254.0h2v2h-2zM454.0 320.0h2v2h-2zM413.0 278.0h2v2h-2zM413.0 240.0h2v2h-2zM409.0 326.0h2v2h-2zM429.0 300.0h2v2h-2zM429.0 285.0h2v2h-2zM432.0 299.0h2v2h-2zM411.0 237.0h2v2h-2zM439.0 275.0h2v2h-2zM423.0 267.0h2v2h-2zM409.0 266.0h2v2h-2zM420.0 318.0h2v2h-2zM420.0 283.0h2v2h-2zM417.0 227.0h2v2h-2zM403.0 317.0h2v2h-2zM430.0 248.0h2v2h-2zM415.0 301.0h2v2h-2zM461.0 327.0h2v2h-2zM431.0 236.0h2v2h-2zM418.0 325.0h2v2h-2zM430.0 284.0h2v2h-2zM430.0 251.0h2v2h-2zM430.0 264.0h2v2h-2zM415.0 227.0h2v2h-2zM435.0 222.0h2v2h-2zM415.0 323.0h2v2h-2zM411.0 239.0h2v2h-2zM404.0 319.0h2v2h-2zM425.0 302.0h2v2h-2zM412.0 297.0h2v2h-2zM443.0 288.0h2v2h-2zM433.0 311.0h2v2h-2zM429.0 319.0h2v2h-2zM427.0 276.0h2v2h-2zM440.0 226.0h2v2h-2zM428.0 285.0h2v2h-2zM440.0 253.0h2v2h-2zM437.0 221.0h2v2h-2zM406.0 233.0h2v2h-2zM434.0 318.0h2v2h-2zM406.0 219.0h2v2h-2zM438.0 293.0h2v2h-2zM444.0 227.0h2v2h-2zM432.0 255.0h2v2h-2zM434.0 279.0h2v2h-2zM440.0 322.0h2v2h-2zM451.0 264.0h2v2h-2zM421.0 317.0h2v2h-2zM427.0 312.0h2v2h-2zM460.0 308.0h2v2h-2zM422.0 260.0h2v2h-2zM455.0 237.0h2v2h-2zM458.0 309.0h2v2h-2zM410.0 287.0h2v2h-2zM421.0 253.0h2v2h-2zM413.0 259.0h2v2h-2zM425.0 304.0h2v2h-2zM406.0 263.0h2v2h-2zM471.0 314.0h2v2h-2zM423.0 239.0h2v2h-2zM416.0 300.0h2v2h-2zM434.0 244.0h2v2h-2zM448.0 232.0h2v2h-2zM432.0 271.0h2v2h-2zM434.0 321.0h2v2h-2zM448.0 269.0h2v2h-2zM418.0 305.0h2v2h-2zM446.0 271.0h2v2h-2zM447.0 260.0h2v2h-2zM425.0 242.0h2v2h-2zM407.0 269.0h2v2h-2zM421.0 269.0h2v2h-2zM428.0 268.0h2v2h-2zM435.0 301.0h2v2h-2zM420.0 270.0h2v2h-2zM453.0 248.0h2v2h-2zM431.0 323.0h2v2h-2zM413.0 325.0h2v2h-2zM404.0 250.0h2v2h-2zM429.0 264.0h2v2h-2zM430.0 311.0h2v2h-2zM416.0 322.0h2v2h-2zM409.0 307.0h2v2h-2zM436.0 321.0h2v2h-2zM414.0 311.0h2v2h-2zM402.0 321.0h2v2h-2zM421.0 314.0h2v2h-2zM430.0 240.0h2v2h-2zM410.0 303.0h2v2h-2zM432.0 227.0h2v2h-2zM449.0 263.0h2v2h-2zM439.0 278.0h2v2h-2zM425.0 257.0h2v2h-2zM436.0 309.0h2v2h-2zM417.0 225.0h2v2h-2zM428.0 307.0h2v2h-2zM396.0 240.0h2v2h-2zM415.0 234.0h2v2h-2zM431.0 300.0h2v2h-2zM418.0 278.0h2v2h-2zM427.0 294.0h2v2h-2zM455.0 316.0h2v2h-2zM401.0 319.0h2v2h-2zM421.0 237.0h2v2h-2zM437.0 244.0h2v2h-2zM444.0 269.0h2v2h-2zM413.0 317.0h2v2h-2zM438.0 313.0h2v2h-2zM437.0 257.0h2v2h-2zM449.0 252.0h2v2h-2zM429.0 307.0h2v2h-2zM406.0 257.0h2v2h-2zM443.0 281.0h2v2h-2zM445.0 249.0h2v2h-2zM410.0 271.0h2v2h-2zM429.0 222.0h2v2h-2zM422.0 241.0h2v2h-2zM429.0 313.0h2v2h-2zM423.0 247.0h2v2h-2zM413.0 269.0h2v2h-2zM460.0 233.0h2v2h-2zM432.0 281.0h2v2h-2zM424.0 273.0h2v2h-2zM424.0 240.0h2v2h-2zM415.0 299.0h2v2h-2zM440.0 270.0h2v2h-2zM430.0 276.0h2v2h-2zM457.0 279.0h2v2h-2zM465.0 262.0h2v2h-2zM437.0 285.0h2v2h-2zM458.0 285.0h2v2h-2zM434.0 296.0h2v2h-2zM411.0 324.0h2v2h-2zM409.0 291.0h2v2h-2zM432.0 258.0h2v2h-2zM435.0 322.0h2v2h-2zM421.0 263.0h2v2h-2zM468.0 238.0h2v2h-2zM412.0 314.0h2v2h-2zM417.0 274.0h2v2h-2zM451.0 292.0h2v2h-2zM399.0 252.0h2v2h-2zM418.0 256.0h2v2h-2zM468.0 314.0h2v2h-2zM420.0 312.0h2v2h-2zM420.0 241.0h2v2h-2zM398.0 317.0h2v2h-2zM408.0 289.0h2v2h-2zM449.0 301.0h2v2h-2zM438.0 294.0h2v2h-2zM436.0 276.0h2v2h-2zM428.0 287.0h2v2h-2zM418.0 311.0h2v2h-2zM401.0 259.0h2v2h-2zM428.0 280.0h2v2h-2zM454.0 291.0h2v2h-2zM418.0 300.0h2v2h-2zM473.0 323.0h2v2h-2zM460.0 240.0h2v2h-2zM462.0 263.0h2v2h-2zM436.0 296.0h2v2h-2zM434.0 247.0h2v2h-2zM413.0 272.0h2v2h-2zM467.0 269.0h2v2h-2zM453.0 234.0h2v2h-2zM460.0 277.0h2v2h-2zM437.0 280.0h2v2h-2zM417.0 316.0h2v2h-2zM412.0 319.0h2v2h-2zM435.0 323.0h2v2h-2zM418.0 296.0h2v2h-2zM445.0 270.0h2v2h-2zM446.0 317.0h2v2h-2zM421.0 294.0h2v2h-2zM468.0 317.0h2v2h-2zM476.0 276.0h2v2h-2zM469.0 289.0h2v2h-2zM456.0 302.0h2v2h-2zM441.0 280.0h2v2h-2zM429.0 244.0h2v2h-2zM416.0 251.0h2v2h-2zM415.0 321.0h2v2h-2zM450.0 293.0h2v2h-2zM439.0 274.0h2v2h-2zM444.0 291.0h2v2h-2zM443.0 295.0h2v2h-2zM439.0 270.0h2v2h-2zM444.0 305.0h2v2h-2zM461.0 261.0h2v2h-2zM468.0 313.0h2v2h-2zM448.0 316.0h2v2h-2zM435.0 306.0h2v2h-2zM424.0 317.0h2v2h-2zM455.0 282.0h2v2h-2zM426.0 263.0h2v2h-2zM474.0 306.0h2v2h-2zM441.0 300.0h2v2h-2zM406.0 311.0h2v2h-2zM461.0 288.0h2v2h-2zM422.0 253.0h2v2h-2zM449.0 323.0h2v2h-2zM425.0 281.0h2v2h-2zM418.0 279.0h2v2h-2zM453.0 288.0h2v2h-2zM413.0 259.0h2v2h-2zM443.0 281.0h2v2h-2zM438.0 266.0h2v2h-2zM423.0 277.0h2v2h-2zM459.0 326.0h2v2h-2zM451.0 312.0h2v2h-2zM419.0 266.0h2v2h-2zM437.0 318.0h2v2h-2zM451.0 287.0h2v2h-2zM467.0 294.0h2v2h-2zM460.0 303.0h2v2h-2zM459.0 280.0h2v2h-2zM413.0 323.0h2v2h-2zM450.0 239.0h2v2h-2zM469.0 305.0h2v2h-2zM438.0 261.0h2v2h-2zM474.0 298.0h2v2h-2zM437.0 236.0h2v2h-2zM455.0 302.0h2v2h-2zM458.0 302.0h2v2h-2zM459.0 320.0h2v2h-2zM429.0 249.0h2v2h-2zM452.0 270.0h2v2h-2zM420.0 256.0h2v2h-2zM422.0 278.0h2v2h-2zM480.0 309.0h2v2h-2zM451.0 303.0h2v2h-2zM462.0 278.0h2v2h-2zM450.0 316.0h2v2h-2zM418.0 307.0h2v2h-2zM428.0 324.0h2v2h-2zM461.0 286.0h2v2h-2zM439.0 295.0h2v2h-2zM425.0 323.0h2v2h-2zM445.0 294.0h2v2h-2zM407.0 307.0h2v2h-2zM417.0 327.0h2v2h-2zM436.0 266.0h2v2h-2zM444.0 288.0h2v2h-2zM438.0 289.0h2v2h-2zM427.0 322.0h2v2h-2zM443.0 274.0h2v2h-2zM434.0 320.0h2v2h-2zM440.0 301.0h2v2h-2zM435.0 296.0h2v2h-2zM475.0 316.0h2v2h-2zM452.0 313.0h2v2h-2zM464.0 286.0h2v2h-2zM444.0 318.0h2v2h-2zM473.0 296.0h2v2h-2zM429.0 299.0h2v2h-2zM412.0 288.0h2v2h-2zM418.0 287.0h2v2h-2zM480.0 306.0h2v2h-2zM471.0 249.0h2v2h-2zM458.0 291.0h2v2h-2zM439.0 273.0h2v2h-2zM459.0 303.0h2v2h-2zM421.0 313.0h2v2h-2zM436.0 278.0h2v2h-2zM454.0 256.0h2v2h-2zM420.0 319.0h2v2h-2zM450.0 269.0h2v2h-2zM427.0 298.0h2v2h-2zM432.0 302.0h2v2h-2zM465.0 312.0h2v2h-2zM428.0 258.0h2v2h-2zM430.0 314.0h2v2h-2zM423.0 248.0h2v2h-2zM400.0 302.0h2v2h-2zM418.0 234.0h2v2h-2zM463.0 309.0h2v2h-2zM420.0 259.0h2v2h-2zM446.0 303.0h2v2h-2zM441.0 289.0h2v2h-2zM456.0 262.0h2v2h-2zM458.0 227.0h2v2h-2zM432.0 304.0h2v2h-2zM421.0 319.0h2v2h-2zM450.0 239.0h2v2h-2zM439.0 303.0h2v2h-2zM449.0 326.0h2v2h-2zM450.0 303.0h2v2h-2zM418.0 321.0h2v2h-2zM431.0 301.0h2v2h-2zM409.0 312.0h2v2h-2zM427.0 299.0h2v2h-2zM435.0 284.0h2v2h-2zM456.0 289.0h2v2h-2zM426.0 322.0h2v2h-2zM447.0 294.0h2v2h-2zM406.0 254.0h2v2h-2zM442.0 244.0h2v2h-2zM443.0 307.0h2v2h-2zM428.0 272.0h2v2h-2zM399.0 303.0h2v2h-2zM436.0 263.0h2v2h-2zM450.0 237.0h2v2h-2zM405.0 300.0h2v2h-2zM444.0 240.0h2v2h-2zM434.0 233.0h2v2h-2zM433.0 259.0h2v2h-2zM437.0 256.0h2v2h-2zM422.0 264.0h2v2h-2zM449.0 315.0h2v2h-2zM425.0 259.0h2v2h-2zM434.0 311.0h2v2h-2zM452.0 323.0h2v2h-2zM442.0 283.0h2v2h-2zM442.0 239.0h2v2h-2zM460.0 287.0h2v2h-2zM431.0 326.0h2v2h-2zM434.0 268.0h2v2h-2zM426.0 253.0h2v2h-2zM426.0 307.0h2v2h-2zM462.0 310.0h2v2h-2zM423.0 245.0h2v2h-2zM427.0 287.0h2v2h-2zM435.0 322.0h2v2h-2zM412.0 281.0h2v2h-2zM448.0 320.0h2v2h-2zM450.0 324.0h2v2h-2zM441.0 303.0h2v2h-2zM420.0 237.0h2v2h-2zM449.0 326.0h2v2h-2zM432.0 317.0h2v2h-2zM437.0 313.0h2v2h-2zM424.0 222.0h2v2h-2zM464.0 321.0h2v2h-2zM437.0 267.0h2v2h-2zM406.0 315.0h2v2h-2zM480.0 317.0h2v2h-2zM437.0 296.0h2v2h-2zM449.0 320.0h2v2h-2zM435.0 259.0h2v2h-2zM446.0 281.0h2v2h-2zM468.0 281.0h2v2h-2zM436.0 261.0h2v2h-2zM437.0 325.0h2v2h-2zM469.0 313.0h2v2h-2zM460.0 304.0h2v2h-2zM446.0 236.0h2v2h-2zM423.0 301.0h2v2h-2zM405.0 274.0h2v2h-2zM425.0 264.0h2v2h-2zM403.0 263.0h2v2h-2zM445.0 242.0h2v2h-2zM452.0 274.0h2v2h-2zM437.0 259.0h2v2h-2zM405.0 262.0h2v2h-2zM446.0 296.0h2v2h-2zM462.0 311.0h2v2h-2zM419.0 304.0h2v2h-2zM461.0 250.0h2v2h-2zM457.0 317.0h2v2h-2zM442.0 316.0h2v2h-2zM422.0 309.0h2v2h-2zM437.0 325.0h2v2h-2zM453.0 254.0h2v2h-2zM458.0 293.0h2v2h-2zM453.0 287.0h2v2h-2zM440.0 265.0h2v2h-2zM448.0 276.0h2v2h-2zM427.0 290.0h2v2h-2zM432.0 312.0h2v2h-2zM477.0 312.0h2v2h-2zM415.0 300.0h2v2h-2zM439.0 320.0h2v2h-2zM445.0 309.0h2v2h-2zM444.0 302.0h2v2h-2zM447.0 310.0h2v2h-2zM407.0 286.0h2v2h-2zM436.0 260.0h2v2h-2zM425.0 252.0h2v2h-2zM446.0 324.0h2v2h-2zM467.0 325.0h2v2h-2zM449.0 290.0h2v2h-2zM398.0 311.0h2v2h-2zM407.0 323.0h2v2h-2zM431.0 316.0h2v2h-2zM431.0 327.0h2v2h-2zM407.0 322.0h2v2h-2zM452.0 327.0h2v2h-2zM430.0 328.0h2v2h-2zM438.0 326.0h2v2h-2zM435.0 328.0h2v2h-2zM434.0 327.0h2v2h-2zM431.0 327.0h2v2h-2zM455.0 319.0h2v2h-2zM399.0 322.0h2v2h-2zM425.0 323.0h2v2h-2zM438.0 324.0h2v2h-2zM400.0 323.0h2v2h-2zM451.0 328.0h2v2h-2zM429.0 322.0h2v2h-2zM453.0 326.0h2v2h-2zM471.0 327.0h2v2h-2zM434.0 315.0h2v2h-2zM399.0 321.0h2v2h-2zM436.0 328.0h2v2h-2zM453.0 327.0h2v2h-2zM435.0 327.0h2v2h-2zM475.0 322.0h2v2h-2zM433.0 327.0h2v2h-2zM449.0 328.0h2v2h-2zM428.0 328.0h2v2h-2zM406.0 328.0h2v2h-2zM400.0 327.0h2v2h-2zM412.0 328.0h2v2h-2zM431.0 328.0h2v2h-2zM477.0 327.0h2v2h-2zM452.0 326.0h2v2h-2zM455.0 327.0h2v2h-2zM455.0 323.0h2v2h-2zM413.0 322.0h2v2h-2zM463.0 322.0h2v2h-2zM467.0 327.0h2v2h-2zM442.0 325.0h2v2h-2zM404.0 320.0h2v2h-2zM461.0 327.0h2v2h-2zM424.0 323.0h2v2h-2zM473.0 328.0h2v2h-2zM467.0 328.0h2v2h-2zM441.0 326.0h2v2h-2zM466.0 328.0h2v2h-2zM405.0 327.0h2v2h-2zM458.0 326.0h2v2h-2zM424.0 325.0h2v2h-2zM409.0 327.0h2v2h-2zM467.0 328.0h2v2h-2zM416.0 327.0h2v2h-2zM414.0 325.0h2v2h-2zM431.0 327.0h2v2h-2zM399.0 325.0h2v2h-2zM429.0 327.0h2v2h-2zM447.0 327.0h2v2h-2zM414.0 321.0h2v2h-2zM403.0 318.0h2v2h-2zM415.0 261.0h2v2h-2zM404.0 217.0h2v2h-2zM479.0 255.0h2v2h-2zM417.0 287.0h2v2h-2zM445.0 297.0h2v2h-2zM446.0 228.0h2v2h-2zM406.0 297.0h2v2h-2zM480.0 233.0h2v2h-2zM396.0 316.0h2v2h-2zM451.0 235.0h2v2h-2zM481.0 313.0h2v2h-2zM436.0 271.0h2v2h-2zM470.0 274.0h2v2h-2zM397.0 319.0h2v2h-2zM438.0 312.0h2v2h-2zM439.0 263.0h2v2h-2zM439.0 264.0h2v2h-2zM394.0 251.0h2v2h-2zM396.0 272.0h2v2h-2zM407.0 283.0h2v2h-2zM466.0 235.0h2v2h-2zM473.0 251.0h2v2h-2zM441.0 239.0h2v2h-2zM399.0 324.0h2v2h-2zM472.0 248.0h2v2h-2zM432.0 299.0h2v2h-2zM480.0 304.0h2v2h-2zM416.0 223.0h2v2h-2zM461.0 234.0h2v2h-2zM477.0 222.0h2v2h-2z" fill="#141414"/>
<text id="tA" x="0.45" y="21.05" font-family="'Liberation Sans', sans-serif" font-size="28.94" font-weight="bold" text-anchor="start" stroke="#000" stroke-width="0.45" >A</text>
<text id="tB" x="-0.45" y="391.35" font-family="'Liberation Sans', sans-serif" font-size="28.71" font-weight="bold" text-anchor="start" stroke="#000" stroke-width="0.45" >B</text>
<text id="l1" x="94.5" y="50.4" font-family="'Liberation Serif', serif" font-size="15.21" font-weight="bold" text-anchor="start" stroke="#000" stroke-width="0.45" ><tspan font-weight="normal" stroke-width="0.35">β</tspan>-EGFP</text>
<text id="l2" x="252.8" y="50.6" font-family="'Liberation Serif', serif" font-size="15.86" font-weight="bold" text-anchor="start" stroke="#000" stroke-width="0.45" ><tspan font-weight="normal" stroke-width="0.35">δ</tspan>-<tspan font-weight="normal" stroke-width="0.35">β</tspan>-EGFP</text>
<text id="l3" x="413.8" y="50.4" font-family="'Liberation Serif', serif" font-size="15.51" font-weight="bold" text-anchor="start" stroke="#000" stroke-width="0.45" ><tspan font-size="9.5" dy="-4.5">A</tspan><tspan dy="4.5"><tspan font-weight="normal" stroke-width="0.35">γ</tspan>-<tspan font-weight="normal" stroke-width="0.35">β</tspan>-EGFP</tspan></text>
<text id="l4" x="88.0" y="214.3" font-family="'Liberation Serif', serif" font-size="15.04" font-weight="bold" text-anchor="start" stroke="#000" stroke-width="0.45" ><tspan font-size="9.5" dy="-4.5">G</tspan><tspan dy="4.5"><tspan font-weight="normal" stroke-width="0.35">γ</tspan>-<tspan font-weight="normal" stroke-width="0.35">β</tspan>-EGFP</tspan></text>
<text id="l5" x="256.9" y="214.3" font-family="'Liberation Serif', serif" font-size="16.07" font-weight="bold" text-anchor="start" stroke="#000" stroke-width="0.45" ><tspan font-weight="normal" stroke-width="0.35">ε</tspan>-<tspan font-weight="normal" stroke-width="0.35">β</tspan>-EGFP</text>
<text id="l6" x="409.0" y="215.7" font-family="'Liberation Serif', serif" font-size="15.94" font-weight="bold" text-anchor="start" stroke="#000" stroke-width="0.45" >pEBAC160G</text>
<text id="p1" x="151.45" y="135.75" font-family="'Liberation Serif', serif" font-size="14.44" font-weight="bold" text-anchor="start" stroke="#000" stroke-width="0.45" >2.1%</text>
<text id="p2" x="315.85" y="136.9" font-family="'Liberation Serif', serif" font-size="14.82" font-weight="bold" text-anchor="start" stroke="#000" stroke-width="0.45" >3.2%</text>
<text id="p3" x="480.15" y="135.0" font-family="'Liberation Serif', serif" font-size="14.55" font-weight="bold" text-anchor="start" stroke="#000" stroke-width="0.45" >3.8%</text>
<text id="p4" x="151.3" y="302.8" font-family="'Liberation Serif', serif" font-size="14.48" font-weight="bold" text-anchor="start" stroke="#000" stroke-width="0.45" >7.9%</text>
<text id="p5" x="318.7" y="302.8" font-family="'Liberation Serif', serif" font-size="14.54" font-weight="bold" text-anchor="start" stroke="#000" stroke-width="0.45" >10%</text>
<text id="p6" x="483.5" y="303.45" font-family="'Liberation Serif', serif" font-size="14.31" font-weight="bold" text-anchor="start" stroke="#000" stroke-width="0.45" >37%</text>
<line x1="16.3" y1="154" x2="16.3" y2="219" stroke="#111" stroke-width="1.6"/>
<path d="M16.3 141.4 L23.6 156 L9 156 Z" fill="#111"/>
<text id="fl1" x="22.75" y="255.4" font-family="'Liberation Serif', serif" font-size="20.29" font-weight="normal" text-anchor="start" stroke="#000" stroke-width="0.2" transform="rotate(-90 22.75 255.40)">FL1</text>
<text id="fsc" x="222.1" y="376.0" font-family="'Liberation Serif', serif" font-size="20.17" font-weight="normal" text-anchor="start" stroke="#000" stroke-width="0.2" >Fsc</text>
<line x1="259.3" y1="369.1" x2="327" y2="369.1" stroke="#111" stroke-width="1.7"/>
<path d="M340.5 369.2 L325.3 361.3 L325.3 376.7 Z" fill="#111"/>
<polyline points="47.7,398.3 503.6,398.3 503.6,617.1" fill="none" stroke="#111" stroke-width="1.9"/>
<line x1="47.7" y1="397.5" x2="47.7" y2="620" stroke="#111" stroke-width="2"/>
<line x1="41.5" y1="617.1" x2="503.3" y2="617.1" stroke="#111" stroke-width="1.8"/>
<line x1="41.5" y1="617.1" x2="47.7" y2="617.1" stroke="#111" stroke-width="1.6"/>
<text id="y0" transform="translate(37.3 627.70) scale(1.09 1)" x="0" y="0" font-family="'Liberation Serif', serif" font-size="16.2" font-weight="bold" text-anchor="end" stroke="#000" stroke-width="0.45">0</text>
<line x1="41.5" y1="589.8" x2="47.7" y2="589.8" stroke="#111" stroke-width="1.6"/>
<text id="y5" transform="translate(37.3 600.35) scale(1.09 1)" x="0" y="0" font-family="'Liberation Serif', serif" font-size="16.2" font-weight="bold" text-anchor="end" stroke="#000" stroke-width="0.45">5</text>
<line x1="41.5" y1="562.4" x2="47.7" y2="562.4" stroke="#111" stroke-width="1.6"/>
<text id="y10" transform="translate(35.6 573.00) scale(1.09 1)" x="0" y="0" font-family="'Liberation Serif', serif" font-size="16.2" font-weight="bold" text-anchor="end" stroke="#000" stroke-width="0.45">10</text>
<line x1="41.5" y1="535.1" x2="47.7" y2="535.1" stroke="#111" stroke-width="1.6"/>
<text id="y15" transform="translate(35.6 545.65) scale(1.09 1)" x="0" y="0" font-family="'Liberation Serif', serif" font-size="16.2" font-weight="bold" text-anchor="end" stroke="#000" stroke-width="0.45">15</text>
<line x1="41.5" y1="507.7" x2="47.7" y2="507.7" stroke="#111" stroke-width="1.6"/>
<text id="y20" transform="translate(35.6 518.30) scale(1.09 1)" x="0" y="0" font-family="'Liberation Serif', serif" font-size="16.2" font-weight="bold" text-anchor="end" stroke="#000" stroke-width="0.45">20</text>
<line x1="41.5" y1="480.4" x2="47.7" y2="480.4" stroke="#111" stroke-width="1.6"/>
<text id="y25" transform="translate(35.6 490.95) scale(1.09 1)" x="0" y="0" font-family="'Liberation Serif', serif" font-size="16.2" font-weight="bold" text-anchor="end" stroke="#000" stroke-width="0.45">25</text>
<line x1="41.5" y1="453.0" x2="47.7" y2="453.0" stroke="#111" stroke-width="1.6"/>
<text id="y30" transform="translate(35.6 463.60) scale(1.09 1)" x="0" y="0" font-family="'Liberation Serif', serif" font-size="16.2" font-weight="bold" text-anchor="end" stroke="#000" stroke-width="0.45">30</text>
<line x1="41.5" y1="425.7" x2="47.7" y2="425.7" stroke="#111" stroke-width="1.6"/>
<text id="y35" transform="translate(35.6 436.25) scale(1.09 1)" x="0" y="0" font-family="'Liberation Serif', serif" font-size="16.2" font-weight="bold" text-anchor="end" stroke="#000" stroke-width="0.45">35</text>
<line x1="41.5" y1="398.3" x2="47.7" y2="398.3" stroke="#111" stroke-width="1.6"/>
<text id="y40" transform="translate(35.6 408.90) scale(1.09 1)" x="0" y="0" font-family="'Liberation Serif', serif" font-size="16.2" font-weight="bold" text-anchor="end" stroke="#000" stroke-width="0.45">40</text>
<text id="ylab" x="14.5" y="566.25" font-family="'Liberation Serif', serif" font-size="17.47" font-weight="bold" text-anchor="start" stroke="#000" stroke-width="0.45" transform="rotate(-90 14.50 566.25)">% EGFP cells</text>
<rect x="56" y="406" width="175.5" height="61.7" fill="#fff" stroke="#111" stroke-width="1.6"/>
<rect x="64.2" y="414.2" width="18.8" height="18.1" fill="#000"/>
<rect x="65" y="442" width="17.2" height="16.4" fill="#9a9a9a" stroke="#111" stroke-width="1.6"/>
<text id="k1" x="90.4" y="428.4" font-family="'Liberation Serif', serif" font-size="17.41" font-weight="bold" text-anchor="start" stroke="#000" stroke-width="0.45" >K562</text>
<text id="k2" x="90.4" y="454.2" font-family="'Liberation Serif', serif" font-size="17.19" font-weight="bold" text-anchor="start" stroke="#000" stroke-width="0.45" >K562-EBNA1</text>
<rect x="61.3" y="613.0" width="27.7" height="4.1" fill="#000"/>
<rect x="89.8" y="607.8" width="26.1" height="10.3" fill="#a4a4a4" stroke="#111" stroke-width="1.6"/>
<line x1="102.8" y1="601.2" x2="102.8" y2="607.8" stroke="#111" stroke-width="1.6"/>
<line x1="88.0" y1="601.2" x2="117.7" y2="601.2" stroke="#111" stroke-width="1.9"/>
<rect x="133.6" y="612.7" width="27.7" height="4.4" fill="#000"/>
<rect x="162.1" y="599.0" width="26.1" height="19.1" fill="#a4a4a4" stroke="#111" stroke-width="1.6"/>
<line x1="175.1" y1="591.9" x2="175.1" y2="599.0" stroke="#111" stroke-width="1.6"/>
<line x1="160.3" y1="591.9" x2="190.0" y2="591.9" stroke="#111" stroke-width="1.9"/>
<rect x="207.5" y="613.0" width="27.7" height="4.1" fill="#000"/>
<rect x="236.0" y="594.7" width="26.1" height="23.4" fill="#a4a4a4" stroke="#111" stroke-width="1.6"/>
<line x1="249.0" y1="587.0" x2="249.0" y2="594.7" stroke="#111" stroke-width="1.6"/>
<line x1="234.2" y1="587.0" x2="263.9" y2="587.0" stroke="#111" stroke-width="1.9"/>
<rect x="280.8" y="613.8" width="27.7" height="3.3" fill="#000"/>
<rect x="309.3" y="567.3" width="26.1" height="50.8" fill="#a4a4a4" stroke="#111" stroke-width="1.6"/>
<line x1="322.4" y1="561.9" x2="322.4" y2="567.3" stroke="#111" stroke-width="1.6"/>
<line x1="307.5" y1="561.9" x2="337.2" y2="561.9" stroke="#111" stroke-width="1.9"/>
<rect x="354.0" y="613.8" width="27.7" height="3.3" fill="#000"/>
<rect x="382.5" y="562.7" width="26.1" height="55.4" fill="#a4a4a4" stroke="#111" stroke-width="1.6"/>
<line x1="395.6" y1="548.7" x2="395.6" y2="562.7" stroke="#111" stroke-width="1.6"/>
<line x1="380.7" y1="548.7" x2="410.4" y2="548.7" stroke="#111" stroke-width="1.9"/>
<rect x="428.5" y="599.6" width="27.7" height="17.5" fill="#000"/>
<line x1="442.4" y1="587.6" x2="442.4" y2="599.6" stroke="#111" stroke-width="1.6"/>
<line x1="428.5" y1="587.6" x2="456.2" y2="587.6" stroke="#111" stroke-width="1.8"/>
<rect x="457.0" y="424.0" width="26.1" height="194.1" fill="#a4a4a4" stroke="#111" stroke-width="1.6"/>
<line x1="470.1" y1="409.2" x2="470.1" y2="424.0" stroke="#111" stroke-width="1.6"/>
<line x1="455.2" y1="409.2" x2="487.9" y2="409.2" stroke="#111" stroke-width="1.9"/>
<text id="x1" x="108.6" y="633.7" font-family="'Liberation Serif', serif" font-size="17.16" font-weight="bold" text-anchor="end" stroke="#000" stroke-width="0.45" transform="rotate(-45 108.60 633.70)"><tspan font-weight="normal" stroke-width="0.35">β</tspan>-EGFP</text>
<text id="x2" x="176.9" y="633.8" font-family="'Liberation Serif', serif" font-size="17.44" font-weight="bold" text-anchor="end" stroke="#000" stroke-width="0.45" transform="rotate(-45 176.90 633.80)"><tspan font-weight="normal" stroke-width="0.35">δ</tspan>-<tspan font-weight="normal" stroke-width="0.35">β</tspan>-EGFP</text>
<text id="x3" x="243.5" y="630.7" font-family="'Liberation Serif', serif" font-size="16.75" font-weight="bold" text-anchor="end" stroke="#000" stroke-width="0.45" transform="rotate(-45 243.50 630.70)"><tspan font-size="11.5">A</tspan><tspan font-weight="normal" stroke-width="0.35">γ</tspan>-<tspan font-weight="normal" stroke-width="0.35">β</tspan>-EGFP</text>
<text id="x4" x="313.7" y="632.7" font-family="'Liberation Serif', serif" font-size="16.87" font-weight="bold" text-anchor="end" stroke="#000" stroke-width="0.45" transform="rotate(-45 313.70 632.70)"><tspan font-size="11.5">G</tspan><tspan font-weight="normal" stroke-width="0.35">γ</tspan>-<tspan font-weight="normal" stroke-width="0.35">β</tspan>-EGFP</text>
<text id="x5" x="391.8" y="634.0" font-family="'Liberation Serif', serif" font-size="17.0" font-weight="bold" text-anchor="end" stroke="#000" stroke-width="0.45" transform="rotate(-45 391.80 634.00)"><tspan font-weight="normal" stroke-width="0.35">ε</tspan>-<tspan font-weight="normal" stroke-width="0.35">β</tspan>-EGFP</text>
<text id="x6" x="468.4" y="637.8" font-family="'Liberation Serif', serif" font-size="16.87" font-weight="bold" text-anchor="end" stroke="#000" stroke-width="0.45" transform="rotate(-45 468.40 637.80)">pEBAC160G</text>
</svg>
</body></html>
